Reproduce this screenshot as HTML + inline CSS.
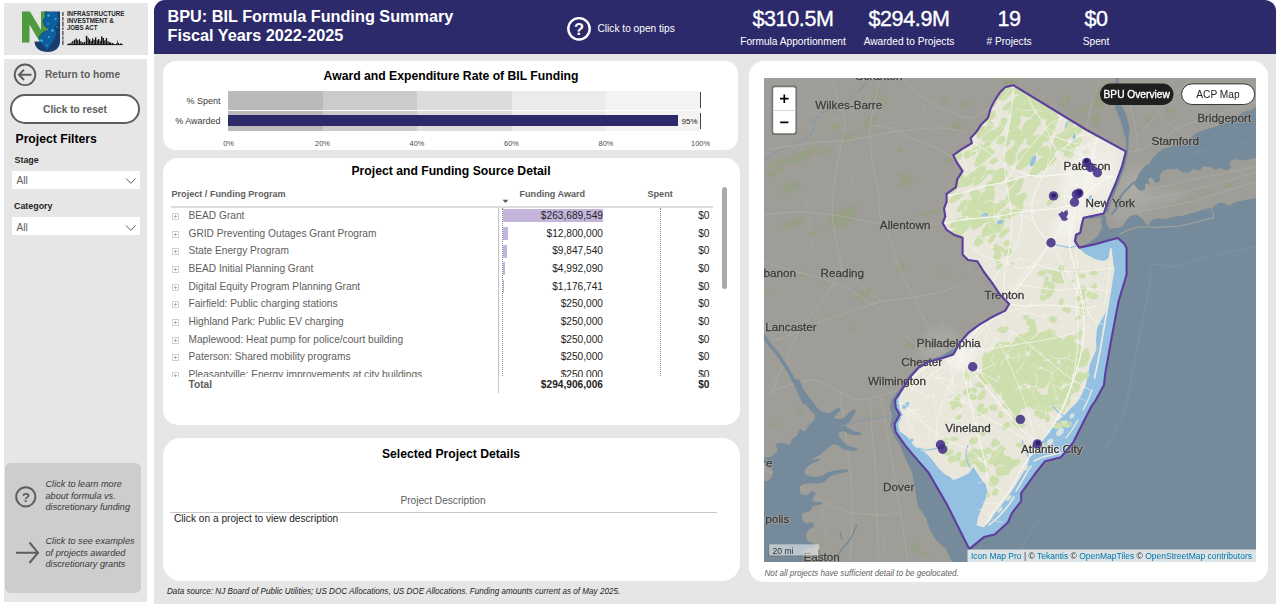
<!DOCTYPE html>
<html>
<head>
<meta charset="utf-8">
<title>BPU: BIL Formula Funding Summary</title>
<style>
*{box-sizing:border-box;margin:0;padding:0}
html,body{width:1280px;height:608px;overflow:hidden;background:#fff;font-family:"Liberation Sans",sans-serif;color:#252423}
.abs{position:absolute}
.t{position:absolute;white-space:nowrap;line-height:1;font-size:10.16px}
.b{font-weight:bold}
.i{font-style:italic}
.c{transform:translateX(-50%)}
.r{transform:translateX(-100%)}
.g{color:#605e5c}
.w{color:#fff}
#logo{left:4px;top:3px;width:144px;height:52px;background:#e6e6e6}
#side{left:4px;top:59px;width:143px;height:543px;background:#e6e6e6}
#main{left:153.7px;top:0;width:1122.3px;height:604px;background:#e6e6e6;border-radius:12px 12px 0 0}
#hdr{left:153.7px;top:0;width:1122.3px;height:54.2px;background:#2d2a6b;border-radius:11px 11px 0 0}
.card{position:absolute;background:#fff}
#c1{left:163px;top:61px;width:575px;height:89px;border-radius:13px}
#c2{left:163px;top:158px;width:577px;height:267px;border-radius:15px}
#c3{left:163px;top:438px;width:577px;height:143px;border-radius:18px}
#c4{left:749px;top:61px;width:519px;height:521px;border-radius:15px}
#help{left:5px;top:463px;width:136px;height:130px;background:#cdcdcd;border-radius:6px}
.dd{position:absolute;left:12px;width:128px;height:18px;background:#fff}
.row{position:absolute;left:0;width:740px;height:18px}
.row .t{top:3px}
.pm{position:absolute;left:172px;top:5px;width:7px;height:7px;border:1px solid #cfcfcf;background:#fff}
.pm:before{content:"";position:absolute;left:1px;top:2px;width:3px;height:1px;background:#adadad}
.pm:after{content:"";position:absolute;left:2px;top:1px;width:1px;height:3px;background:#adadad}
.bar{position:absolute;left:503.3px;top:1.3px;height:13px;background:#c3b5dc}
.ax{font-size:7.4px;color:#4a4a4a;top:140px}
</style>
</head>
<body>
<div class="abs" id="logo"></div>
<div class="abs" id="side"></div>
<div class="abs" id="main"></div>
<div class="abs" id="hdr"></div>
<div class="card" id="c1"></div>
<div class="card" id="c2"></div>
<div class="card" id="c3"></div>
<div class="card" id="c4"></div>
<div class="abs" id="help"></div>
<!-- LOGO -->
<svg class="abs" style="left:4px;top:3px" width="144" height="52" viewBox="4 3 144 52">
  <polygon points="22,11.5 30,11.5 41,30 41,11.5 47.5,11.5 47.5,42.5 40,42.5 29.5,24.5 29.5,42.5 22,42.5" fill="#4f9a3e"/>
  <path d="M44.5,11.5 L60,11.5 L60,41 C60,48 55,52 48,52 C40,52 34.8,48 34.5,41.5 L41,41.5 L38.5,37 L43,32 L48.5,29.5 L44,25.5 L42.5,21 L45,17 Z" fill="#173e6e"/>
  <path d="M45,12 L57,12 L58.5,19 L57,24.5 L54,28 L56.5,32 L55,38 L51,44 L47.5,50 L45,47 L41,43 L39,37.5 L43,32.5 L48.5,29.8 L44.5,25.5 L43,21 L45.5,17 Z" fill="#0f5f9e"/>
  <g fill="#2fb6ee"><circle cx="48.5" cy="15.5" r="1.2"/><circle cx="55.5" cy="19" r="1"/><circle cx="48" cy="24" r=".8"/><circle cx="52.5" cy="30.5" r="1.3"/><circle cx="49" cy="37" r="1"/><circle cx="41.5" cy="40.5" r="1.3"/><circle cx="47" cy="45.5" r=".8"/><circle cx="57" cy="27" r=".7"/></g>
  <rect x="61.6" y="11.5" width="2.6" height="33.5" fill="#e6e6e6"/>
  <g fill="#6b6b6b"><rect x="62" y="12" width="1.7" height="4"/><rect x="62" y="17" width="1.7" height="3.5"/><rect x="62" y="21.5" width="1.7" height="5"/><rect x="62" y="27.5" width="1.7" height="2.5"/><rect x="62" y="31" width="1.7" height="4.5"/><rect x="62" y="36.5" width="1.7" height="3"/><rect x="62" y="40.5" width="1.7" height="4.3"/></g>
  <g font-family="Liberation Sans, sans-serif" font-weight="bold" font-size="6.4" fill="#262626">
    <text x="66.9" y="16.3" textLength="57.5" lengthAdjust="spacingAndGlyphs">INFRASTRUCTURE</text>
    <text x="66.9" y="23" textLength="47" lengthAdjust="spacingAndGlyphs">INVESTMENT &amp;</text>
    <text x="66.9" y="29.8" textLength="30.5" lengthAdjust="spacingAndGlyphs">JOBS ACT</text>
  </g>
  <g fill="#141414"><rect x="68.5" y="43.5" width="1.5" height="1.5"/><rect x="70.5" y="42.5" width="1.2" height="2.5"/><rect x="72.2" y="41" width="1.2" height="4.0"/><rect x="73.8" y="39.8" width="1.3" height="5.2"/><rect x="75.5" y="38.6" width="1.4" height="6.4"/><rect x="77.2" y="40.2" width="1.2" height="4.8"/><rect x="78.8" y="39.2" width="1.2" height="5.8"/><rect x="80.3" y="41.2" width="1.3" height="3.8"/><rect x="82" y="42.3" width="1.5" height="2.7"/><rect x="84" y="41.8" width="1.2" height="3.2"/><rect x="85.8" y="35.8" width="1.5" height="9.2"/><rect x="87.6" y="37.8" width="1.2" height="7.2"/><rect x="89" y="39.3" width="1.3" height="5.7"/><rect x="90.6" y="41" width="1.2" height="4.0"/><rect x="92" y="38.4" width="1.3" height="6.6"/><rect x="93.6" y="39.8" width="1.2" height="5.2"/><rect x="95" y="37.4" width="1.3" height="7.6"/><rect x="96.6" y="40.2" width="1.2" height="4.8"/><rect x="98" y="39" width="1.3" height="6.0"/><rect x="99.6" y="40.8" width="1.2" height="4.2"/><rect x="101" y="36.5" width="1.5" height="8.5"/><rect x="102.8" y="38" width="1.2" height="7.0"/><rect x="104.2" y="40.3" width="1.3" height="4.7"/><rect x="105.8" y="38" width="1.3" height="7.0"/><rect x="107.4" y="41.2" width="1.3" height="3.8"/><rect x="109" y="42.3" width="2" height="2.7"/><rect x="111.5" y="43" width="2" height="2.0"/><rect x="116.5" y="42.8" width="0.8" height="2.2"/><rect x="117.2" y="40.6" width="0.6" height="4.4"/><rect x="118" y="43" width="1" height="2.0"/><rect x="120" y="43.4" width="1.5" height="1.6"/><rect x="67" y="44.2" width="56" height="0.9"/></g>
</svg>

<!-- SIDE PANEL -->
<svg class="abs" style="left:12px;top:62px" width="27" height="27" viewBox="0 0 27 27">
  <circle cx="13" cy="12.8" r="10.3" fill="none" stroke="#605e5c" stroke-width="1.9"/>
  <path d="M19.5,12.8 H7.2 M12,7.6 L6.9,12.8 L12,18" fill="none" stroke="#605e5c" stroke-width="2"/>
</svg>
<div class="t b g" style="left:45px;top:70.2px">Return to home</div>
<div class="abs" style="left:10px;top:94px;width:130px;height:30px;border:2px solid #605e5c;border-radius:15px;background:#fff"></div>
<div class="t b g c" style="left:75px;top:104.5px">Click to reset</div>
<div class="t b" style="left:15.5px;top:133.2px;font-size:12.2px;color:#000">Project Filters</div>
<div class="t b" style="left:14.5px;top:155.8px;font-size:8.89px">Stage</div>
<div class="dd" style="top:171px"></div>
<div class="t g" style="left:16.5px;top:176.2px">All</div>
<svg class="abs" style="left:125px;top:177px" width="12" height="8"><path d="M1,1.5 L5.8,6.3 L10.6,1.5" fill="none" stroke="#605e5c" stroke-width="1"/></svg>
<div class="t b" style="left:14px;top:202px;font-size:8.89px">Category</div>
<div class="dd" style="top:217px"></div>
<div class="t g" style="left:16.5px;top:222.5px">All</div>
<svg class="abs" style="left:125px;top:223.5px" width="12" height="8"><path d="M1,1.5 L5.8,6.3 L10.6,1.5" fill="none" stroke="#605e5c" stroke-width="1"/></svg>

<!-- HELP BOX -->
<svg class="abs" style="left:14px;top:485px" width="24" height="24" viewBox="0 0 24 24">
  <circle cx="11.8" cy="11.8" r="9.6" fill="none" stroke="#605e5c" stroke-width="2"/>
  <text x="11.8" y="16.6" text-anchor="middle" font-family="Liberation Sans, sans-serif" font-weight="bold" font-size="13.5" fill="#605e5c">?</text>
</svg>
<div class="t i" style="left:45.5px;top:479px;font-size:9.17px;line-height:11.5px;color:#3a3938">Click to learn more<br>about formula vs.<br>discretionary funding</div>
<svg class="abs" style="left:14px;top:540px" width="28" height="26" viewBox="0 0 28 26">
  <path d="M2,12.7 H23.5 M15.5,2.5 L24,12.7 L15.5,23" fill="none" stroke="#605e5c" stroke-width="2"/>
</svg>
<div class="t i" style="left:45.5px;top:536px;font-size:9.17px;line-height:11.5px;color:#3a3938">Click to see examples<br>of projects awarded<br>discretionary grants</div>
<!-- HEADER -->
<div class="t b w" style="left:167.5px;top:6.5px;font-size:16.25px;line-height:19px">BPU: BIL Formula Funding Summary<br>Fiscal Years 2022-2025</div>
<svg class="abs" style="left:566px;top:16px" width="26" height="26" viewBox="0 0 26 26">
  <circle cx="13" cy="12.8" r="10.7" fill="none" stroke="#fff" stroke-width="2.4"/>
  <text x="13" y="18.7" text-anchor="middle" font-family="Liberation Sans, sans-serif" font-weight="bold" font-size="16.5" fill="#fff">?</text>
</svg>
<div class="t w" style="left:597.5px;top:23.9px">Click to open tips</div>
<div class="t w c" style="left:793px;top:9.4px;font-size:21.5px;letter-spacing:-0.35px;-webkit-text-stroke:0.35px #fff">$310.5M</div>
<div class="t w c" style="left:793px;top:36.5px">Formula Apportionment</div>
<div class="t w c" style="left:909px;top:9.4px;font-size:21.5px;letter-spacing:-0.35px;-webkit-text-stroke:0.35px #fff">$294.9M</div>
<div class="t w c" style="left:909px;top:36.5px">Awarded to Projects</div>
<div class="t w c" style="left:1009px;top:9.4px;font-size:21.5px;letter-spacing:-0.35px;-webkit-text-stroke:0.35px #fff">19</div>
<div class="t w c" style="left:1009px;top:36.5px"># Projects</div>
<div class="t w c" style="left:1096px;top:9.4px;font-size:21.5px;letter-spacing:-0.35px;-webkit-text-stroke:0.35px #fff">$0</div>
<div class="t w c" style="left:1096px;top:36.5px">Spent</div>

<!-- CARD 1: bullet chart -->
<div class="t b c" style="left:451px;top:70px;font-size:12.2px;color:#000">Award and Expenditure Rate of BIL Funding</div>
<div class="abs" style="left:228px;top:90.5px;width:472.5px;height:19.5px;background:linear-gradient(90deg,#bababa 0 20%,#cbcbcb 20% 40%,#dcdcdc 40% 60%,#ebebeb 60% 80%,#f3f3f3 80% 100%)"></div>
<div class="abs" style="left:228px;top:111px;width:472.5px;height:19.5px;background:linear-gradient(90deg,#bababa 0 20%,#cbcbcb 20% 40%,#dcdcdc 40% 60%,#ebebeb 60% 80%,#f3f3f3 80% 100%)"></div>
<div class="abs" style="left:228px;top:115px;width:449.5px;height:11px;background:#2d2a6b"></div>
<div class="abs" style="left:700px;top:92px;width:1.3px;height:16px;background:#444"></div>
<div class="abs" style="left:700px;top:112.5px;width:1.3px;height:16px;background:#444"></div>
<div class="t r" style="left:220.5px;top:96.5px;font-size:9px;color:#3a3a3a">% Spent</div>
<div class="t r" style="left:220.5px;top:116.5px;font-size:9px;color:#3a3a3a">% Awarded</div>
<div class="t" style="left:681.5px;top:117.5px;font-size:8px">95%</div>
<div class="t c ax" style="left:228.5px">0%</div>
<div class="t c ax" style="left:322.5px">20%</div>
<div class="t c ax" style="left:417px">40%</div>
<div class="t c ax" style="left:511.5px">60%</div>
<div class="t c ax" style="left:606px">80%</div>
<div class="t c ax" style="left:700.5px">100%</div>

<!-- CARD 2: table -->
<div class="t b c" style="left:451px;top:165.3px;font-size:12.2px;color:#000">Project and Funding Source Detail</div>
<div class="t b g" style="left:171.5px;top:190px;font-size:9.1px">Project / Funding Program</div>
<div class="t b g" style="left:519.5px;top:190px;font-size:9.1px">Funding Award</div>
<div class="t b g" style="left:647.5px;top:190px;font-size:9.1px">Spent</div>
<svg class="abs" style="left:502px;top:199px" width="8" height="5"><path d="M0.5,0.8 L6.5,0.8 L3.5,4 Z" fill="#605e5c"/></svg>
<div class="abs" style="left:171px;top:206px;width:542px;height:1.6px;background:#dcdcdc"></div>
<div class="abs" style="left:502px;top:208px;width:0;height:168px;border-left:1px dotted #8a8a8a"></div>
<div class="abs" style="left:660px;top:208px;width:0;height:168px;border-left:1px dotted #8a8a8a"></div>
<div class="abs" style="left:498px;top:208px;width:1px;height:185px;background:#c8c8c8"></div>
<div class="abs" style="left:721.5px;top:187px;width:5.5px;height:102px;background:#ababab;border-radius:3px"></div>
<div class="abs" id="rows" style="left:0;top:208px;width:740px;height:168.5px;overflow:hidden">
<div class="row" style="top:0.0px"><div class="bar" style="width:100.0px"></div><div class="pm"></div><div class="t g" style="left:188.5px">BEAD Grant</div><div class="t r" style="left:603px">$263,689,549</div><div class="t r" style="left:709.5px">$0</div></div>
<div class="row" style="top:17.65px"><div class="bar" style="width:4.9px"></div><div class="pm"></div><div class="t g" style="left:188.5px">GRID Preventing Outages Grant Program</div><div class="t r" style="left:603px">$12,800,000</div><div class="t r" style="left:709.5px">$0</div></div>
<div class="row" style="top:35.3px"><div class="bar" style="width:3.7px"></div><div class="pm"></div><div class="t g" style="left:188.5px">State Energy Program</div><div class="t r" style="left:603px">$9,847,540</div><div class="t r" style="left:709.5px">$0</div></div>
<div class="row" style="top:52.95px"><div class="bar" style="width:1.9px"></div><div class="pm"></div><div class="t g" style="left:188.5px">BEAD Initial Planning Grant</div><div class="t r" style="left:603px">$4,992,090</div><div class="t r" style="left:709.5px">$0</div></div>
<div class="row" style="top:70.6px"><div class="bar" style="width:0.4px"></div><div class="pm"></div><div class="t g" style="left:188.5px">Digital Equity Program Planning Grant</div><div class="t r" style="left:603px">$1,176,741</div><div class="t r" style="left:709.5px">$0</div></div>
<div class="row" style="top:88.25px"><div class="pm"></div><div class="t g" style="left:188.5px">Fairfield: Public charging stations</div><div class="t r" style="left:603px">$250,000</div><div class="t r" style="left:709.5px">$0</div></div>
<div class="row" style="top:105.9px"><div class="pm"></div><div class="t g" style="left:188.5px">Highland Park: Public EV charging</div><div class="t r" style="left:603px">$250,000</div><div class="t r" style="left:709.5px">$0</div></div>
<div class="row" style="top:123.55px"><div class="pm"></div><div class="t g" style="left:188.5px">Maplewood: Heat pump for police/court building</div><div class="t r" style="left:603px">$250,000</div><div class="t r" style="left:709.5px">$0</div></div>
<div class="row" style="top:141.2px"><div class="pm"></div><div class="t g" style="left:188.5px">Paterson: Shared mobility programs</div><div class="t r" style="left:603px">$250,000</div><div class="t r" style="left:709.5px">$0</div></div>
<div class="row" style="top:158.85px"><div class="pm"></div><div class="t g" style="left:188.5px">Pleasantville: Energy improvements at city buildings</div><div class="t r" style="left:603px">$250,000</div><div class="t r" style="left:709.5px">$0</div></div>
</div>
<div class="t b g" style="left:188.5px;top:380px">Total</div>
<div class="t b r" style="left:603px;top:380px">$294,906,006</div>
<div class="t b r" style="left:709.5px;top:380px">$0</div>

<!-- CARD 3 -->
<div class="t b c" style="left:451px;top:448px;font-size:12.2px;color:#000">Selected Project Details</div>
<div class="t g c" style="left:443px;top:496px">Project Description</div>
<div class="abs" style="left:170px;top:512px;width:547px;height:1px;background:#c8c8c8"></div>
<div class="t" style="left:174px;top:514px">Click on a project to view description</div>
<div class="t i" style="left:167px;top:588px;font-size:8.15px">Data source: NJ Board of Public Utilities; US DOC Allocations, US DOE Allocations. Funding amounts current as of May 2025.</div>
<div class="t i g" style="left:764.5px;top:570.3px;font-size:8.15px">Not all projects have sufficient detail to be geolocated.</div>
<svg class="abs" style="left:764px;top:78px" width="492" height="484" viewBox="764 78 492 484">
<defs><clipPath id="njc"><path d="M1013.2,85.2 L1086.7,130.0 L1125.8,151.4 L1122.0,166.4 L1115.6,183.5 L1109.1,198.4 L1103.8,213.4 L1094.2,215.6 L1083.5,217.7 L1081.3,226.3 L1080.3,232.7 L1076.0,234.8 L1074.9,241.2 L1079.2,247.6 L1094.2,244.4 L1109.1,240.2 L1117.7,238.0 L1124.1,243.4 L1126.6,248.0 L1126.6,274.6 L1118.6,301.2 L1112.0,335.8 L1105.3,373.1 L1104.0,385.1 L1094.7,401.9 L1092.0,405.3 L1082.4,424.0 L1073.1,442.6 L1061.1,457.2 L1045.1,461.2 L1034.5,474.5 L1021.2,493.2 L1021.2,501.2 L1011.9,513.2 L1007.9,522.5 L994.6,534.5 L983.9,537.1 L969.3,549.1 L960.0,530.5 L946.6,503.8 L928.0,471.9 L918.4,461.2 L905.1,445.3 L895.8,432.0 L894.5,424.0 L899.8,414.6 L895.8,408.0 L895.0,400.0 L902.4,389.1 L909.1,378.4 L918.4,367.8 L928.0,362.0 L941.3,358.5 L953.3,354.5 L960.0,342.5 L968.0,333.2 L978.6,325.2 L991.9,317.2 L1005.2,310.6 L1009.2,303.9 L999.9,294.6 L991.9,282.6 L983.9,272.0 L977.3,261.3 L968.0,260.0 L962.6,254.6 L962.6,240.0 L962.6,237.7 L954.6,235.1 L946.6,229.8 L942.6,223.1 L945.3,216.4 L944.0,208.5 L946.6,201.8 L946.6,193.8 L956.0,187.2 L957.3,179.2 L962.6,171.2 L957.3,163.2 L953.3,155.2 L962.6,148.6 L971.9,143.2 L970.6,137.9 L975.9,132.6 L981.2,124.6 L987.9,117.9 L990.6,108.6 L994.6,100.6 L999.9,92.6 L1005.2,87.3 Z"/></clipPath></defs>
<rect x="764" y="78" width="492" height="484" fill="#9e9d97"/>
<g fill="#96a085" opacity=".85">
<ellipse cx="797.8" cy="157.6" rx="16.0" ry="4.5" transform="rotate(-25 797.8 157.6)"/>
<ellipse cx="789.9" cy="189.5" rx="12.0" ry="2.5" transform="rotate(-22 789.9 189.5)"/>
<ellipse cx="791.9" cy="223.3" rx="11.0" ry="4.0" transform="rotate(-25 791.9 223.3)"/>
<ellipse cx="843.6" cy="219.3" rx="15.0" ry="6.0" transform="rotate(-25 843.6 219.3)"/>
<ellipse cx="813.8" cy="233.3" rx="6.0" ry="2.5" transform="rotate(-25 813.8 233.3)"/>
<ellipse cx="869.5" cy="121.8" rx="8.0" ry="5.0" transform="rotate(-40 869.5 121.8)"/>
<ellipse cx="847.6" cy="137.7" rx="7.0" ry="3.0" transform="rotate(-25 847.6 137.7)"/>
<ellipse cx="905.3" cy="181.5" rx="9.0" ry="3.5" transform="rotate(-25 905.3 181.5)"/>
<ellipse cx="959.1" cy="127.8" rx="3.0" ry="5.0" transform="rotate(0 959.1 127.8)"/>
<ellipse cx="965.0" cy="103.9" rx="5.0" ry="3.0" transform="rotate(-20 965.0 103.9)"/>
<ellipse cx="929.2" cy="212.6" rx="12.0" ry="2.0" transform="rotate(-10 929.2 212.6)"/>
<ellipse cx="863.5" cy="297.0" rx="6.0" ry="3.0" transform="rotate(-20 863.5 297.0)"/>
<ellipse cx="899.4" cy="269.1" rx="3.0" ry="3.0" transform="rotate(0 899.4 269.1)"/>
<ellipse cx="943.1" cy="273.1" rx="3.0" ry="3.0" transform="rotate(0 943.1 273.1)"/>
<ellipse cx="835.7" cy="125.8" rx="6.0" ry="2.2" transform="rotate(-25 835.7 125.8)"/>
<ellipse cx="823.7" cy="151.6" rx="7.0" ry="2.5" transform="rotate(-25 823.7 151.6)"/>
<ellipse cx="775.9" cy="163.6" rx="8.0" ry="3.0" transform="rotate(-25 775.9 163.6)"/>
<ellipse cx="883.4" cy="101.9" rx="4.0" ry="6.0" transform="rotate(10 883.4 101.9)"/>
<ellipse cx="775.0" cy="172.0" rx="10.0" ry="3.0" transform="rotate(-25 775.0 172.0)"/>
<ellipse cx="800.0" cy="158.0" rx="10.0" ry="3.5" transform="rotate(-20 800.0 158.0)"/>
<ellipse cx="812.0" cy="150.0" rx="7.0" ry="3.0" transform="rotate(-25 812.0 150.0)"/>
<ellipse cx="790.0" cy="185.0" rx="8.0" ry="2.5" transform="rotate(-20 790.0 185.0)"/>
<ellipse cx="842.0" cy="215.0" rx="16.0" ry="5.0" transform="rotate(-28 842.0 215.0)"/>
<ellipse cx="795.0" cy="222.0" rx="10.0" ry="3.0" transform="rotate(-25 795.0 222.0)"/>
<ellipse cx="868.0" cy="125.0" rx="6.0" ry="3.0" transform="rotate(-30 868.0 125.0)"/>
<ellipse cx="876.0" cy="95.0" rx="7.0" ry="3.5" transform="rotate(-60 876.0 95.0)"/>
<ellipse cx="835.0" cy="128.0" rx="6.0" ry="2.5" transform="rotate(-30 835.0 128.0)"/>
<ellipse cx="905.0" cy="175.0" rx="5.0" ry="3.0" transform="rotate(10 905.0 175.0)"/>
<ellipse cx="900.0" cy="150.0" rx="4.0" ry="2.0" transform="rotate(0 900.0 150.0)"/>
<ellipse cx="860.0" cy="295.0" rx="4.0" ry="5.0" transform="rotate(20 860.0 295.0)"/>
<ellipse cx="868.0" cy="292.0" rx="3.0" ry="4.0" transform="rotate(20 868.0 292.0)"/>
<ellipse cx="824.0" cy="282.0" rx="3.0" ry="2.0" transform="rotate(0 824.0 282.0)"/>
<ellipse cx="804.0" cy="274.0" rx="3.0" ry="3.0" transform="rotate(0 804.0 274.0)"/>
<ellipse cx="769.0" cy="290.0" rx="3.0" ry="2.0" transform="rotate(0 769.0 290.0)"/>
<ellipse cx="832.0" cy="318.0" rx="3.0" ry="2.0" transform="rotate(0 832.0 318.0)"/>
<ellipse cx="853.0" cy="329.0" rx="3.0" ry="2.0" transform="rotate(0 853.0 329.0)"/>
<ellipse cx="902.0" cy="265.0" rx="3.0" ry="5.0" transform="rotate(10 902.0 265.0)"/>
<ellipse cx="910.0" cy="345.0" rx="5.0" ry="2.5" transform="rotate(30 910.0 345.0)"/>
<ellipse cx="945.0" cy="100.0" rx="4.0" ry="3.0" transform="rotate(0 945.0 100.0)"/>
<ellipse cx="955.0" cy="125.0" rx="3.0" ry="3.0" transform="rotate(0 955.0 125.0)"/>
<ellipse cx="948.0" cy="160.0" rx="4.0" ry="2.5" transform="rotate(-30 948.0 160.0)"/>
<ellipse cx="1008.0" cy="82.0" rx="5.0" ry="4.0" transform="rotate(0 1008.0 82.0)"/>
<ellipse cx="1065.0" cy="100.0" rx="8.0" ry="4.0" transform="rotate(-40 1065.0 100.0)"/>
<ellipse cx="1082.0" cy="110.0" rx="6.0" ry="3.0" transform="rotate(-40 1082.0 110.0)"/>
<ellipse cx="1100.0" cy="98.0" rx="7.0" ry="12.0" transform="rotate(15 1100.0 98.0)"/>
<ellipse cx="1108.0" cy="88.0" rx="5.0" ry="7.0" transform="rotate(10 1108.0 88.0)"/>
<ellipse cx="1096.0" cy="120.0" rx="4.0" ry="6.0" transform="rotate(20 1096.0 120.0)"/>
<ellipse cx="1170.0" cy="110.0" rx="4.0" ry="3.0" transform="rotate(0 1170.0 110.0)"/>
<ellipse cx="1195.0" cy="95.0" rx="5.0" ry="3.0" transform="rotate(0 1195.0 95.0)"/>
<ellipse cx="1210.0" cy="192.0" rx="4.0" ry="2.0" transform="rotate(0 1210.0 192.0)"/>
<ellipse cx="1228.0" cy="185.0" rx="4.0" ry="2.5" transform="rotate(0 1228.0 185.0)"/>
<ellipse cx="1190.0" cy="200.0" rx="2.5" ry="2.0" transform="rotate(0 1190.0 200.0)"/>
<ellipse cx="1172.0" cy="206.0" rx="2.0" ry="2.0" transform="rotate(0 1172.0 206.0)"/>
<ellipse cx="1150.0" cy="120.0" rx="3.0" ry="4.0" transform="rotate(30 1150.0 120.0)"/>
<ellipse cx="775.0" cy="425.0" rx="4.0" ry="3.0" transform="rotate(0 775.0 425.0)"/>
<ellipse cx="800.0" cy="410.0" rx="3.0" ry="3.0" transform="rotate(0 800.0 410.0)"/>
<ellipse cx="870.0" cy="415.0" rx="3.0" ry="2.5" transform="rotate(0 870.0 415.0)"/>
<ellipse cx="818.0" cy="545.0" rx="5.0" ry="2.5" transform="rotate(0 818.0 545.0)"/>
<ellipse cx="915.0" cy="548.0" rx="4.0" ry="5.0" transform="rotate(0 915.0 548.0)"/>
<ellipse cx="925.0" cy="555.0" rx="4.0" ry="3.0" transform="rotate(0 925.0 555.0)"/>
<ellipse cx="783.0" cy="520.0" rx="3.0" ry="2.0" transform="rotate(0 783.0 520.0)"/>
<ellipse cx="935.0" cy="520.0" rx="2.0" ry="3.0" transform="rotate(0 935.0 520.0)"/>
</g>
<path d="M764.0,160.0 C765.3,159.2 769.0,156.7 772.0,155.0 C775.0,153.3 778.7,151.7 782.0,150.0 C785.3,148.3 788.7,146.7 792.0,145.0 C795.3,143.3 798.8,141.8 802.0,140.0 C805.2,138.2 809.0,136.3 811.0,134.0 C813.0,131.7 813.2,128.7 814.0,126.0 C814.8,123.3 814.3,120.3 816.0,118.0 C817.7,115.7 820.7,114.0 824.0,112.0 C827.3,110.0 832.0,108.0 836.0,106.0 C840.0,104.0 844.7,102.0 848.0,100.0 C851.3,98.0 853.7,96.0 856.0,94.0 C858.3,92.0 860.3,90.0 862.0,88.0 C863.7,86.0 865.0,83.7 866.0,82.0 C867.0,80.3 867.7,78.7 868.0,78.0" fill="none" stroke="#8399aa" stroke-width="1.3"/>
<g fill="none" stroke="#abaaa4" stroke-linecap="round"><path d="M764.0,345.0 C768.3,343.3 780.7,338.8 790.0,335.0 C799.3,331.2 810.0,325.8 820.0,322.0 C830.0,318.2 840.0,315.3 850.0,312.0 C860.0,308.7 870.0,304.3 880.0,302.0 C890.0,299.7 900.0,299.7 910.0,298.0 C920.0,296.3 931.3,294.2 940.0,292.0 C948.7,289.8 958.3,286.2 962.0,285.0" stroke-width="0.9"/><path d="M764.0,262.0 C768.3,263.3 780.7,267.3 790.0,270.0 C799.3,272.7 810.0,274.7 820.0,278.0 C830.0,281.3 840.0,284.7 850.0,290.0 C860.0,295.3 870.8,302.5 880.0,310.0 C889.2,317.5 897.5,328.0 905.0,335.0 C912.5,342.0 919.2,347.8 925.0,352.0 C930.8,356.2 937.5,358.7 940.0,360.0" stroke-width="0.9"/><path d="M880.0,78.0 C879.2,81.7 876.7,91.3 875.0,100.0 C873.3,108.7 870.5,120.0 870.0,130.0 C869.5,140.0 870.7,150.0 872.0,160.0 C873.3,170.0 876.7,180.8 878.0,190.0 C879.3,199.2 878.0,206.7 880.0,215.0 C882.0,223.3 886.7,230.8 890.0,240.0 C893.3,249.2 895.8,260.0 900.0,270.0 C904.2,280.0 910.0,290.0 915.0,300.0 C920.0,310.0 925.0,321.3 930.0,330.0 C935.0,338.7 942.5,348.3 945.0,352.0" stroke-width="0.9"/><path d="M764.0,150.0 C768.3,149.3 780.7,147.3 790.0,146.0 C799.3,144.7 810.0,143.0 820.0,142.0 C830.0,141.0 840.0,141.3 850.0,140.0 C860.0,138.7 870.0,135.7 880.0,134.0 C890.0,132.3 900.0,131.0 910.0,130.0 C920.0,129.0 930.8,127.7 940.0,128.0 C949.2,128.3 960.8,131.3 965.0,132.0" stroke-width="0.9"/><path d="M764.0,215.0 C770.0,214.5 787.3,211.8 800.0,212.0 C812.7,212.2 828.3,214.3 840.0,216.0 C851.7,217.7 860.0,220.3 870.0,222.0 C880.0,223.7 890.8,225.7 900.0,226.0 C909.2,226.3 917.7,224.3 925.0,224.0 C932.3,223.7 940.8,224.0 944.0,224.0" stroke-width="0.9"/><path d="M832.0,78.0 C833.0,81.7 835.8,92.2 838.0,100.0 C840.2,107.8 844.7,116.7 845.0,125.0 C845.3,133.3 841.7,140.8 840.0,150.0 C838.3,159.2 836.3,170.0 835.0,180.0 C833.7,190.0 831.8,200.0 832.0,210.0 C832.2,220.0 834.3,230.3 836.0,240.0 C837.7,249.7 841.0,263.3 842.0,268.0" stroke-width="0.9"/><path d="M842.0,268.0 C840.0,271.7 834.5,283.0 830.0,290.0 C825.5,297.0 820.0,303.3 815.0,310.0 C810.0,316.7 804.2,323.3 800.0,330.0 C795.8,336.7 793.3,343.0 790.0,350.0 C786.7,357.0 783.0,364.5 780.0,372.0 C777.0,379.5 773.3,391.2 772.0,395.0" stroke-width="0.9"/><path d="M842.0,268.0 C845.0,270.8 853.7,279.7 860.0,285.0 C866.3,290.3 876.7,297.5 880.0,300.0" stroke-width="0.9"/><path d="M868.0,125.0 C871.7,125.5 882.2,125.5 890.0,128.0 C897.8,130.5 906.7,136.3 915.0,140.0 C923.3,143.7 933.3,146.7 940.0,150.0 C946.7,153.3 952.5,158.3 955.0,160.0" stroke-width="0.9"/><path d="M764.0,395.0 C768.3,393.3 781.5,387.5 790.0,385.0 C798.5,382.5 806.7,378.8 815.0,380.0 C823.3,381.2 832.5,388.7 840.0,392.0 C847.5,395.3 853.3,399.3 860.0,400.0 C866.7,400.7 873.7,397.7 880.0,396.0 C886.3,394.3 895.0,391.0 898.0,390.0" stroke-width="0.9"/><path d="M880.0,396.0 C880.8,400.0 883.3,411.0 885.0,420.0 C886.7,429.0 888.3,440.0 890.0,450.0 C891.7,460.0 893.3,470.0 895.0,480.0 C896.7,490.0 898.3,500.0 900.0,510.0 C901.7,520.0 903.7,531.3 905.0,540.0 C906.3,548.7 907.5,558.3 908.0,562.0" stroke-width="0.9"/><path d="M870.0,400.0 C870.3,405.0 871.2,420.0 872.0,430.0 C872.8,440.0 874.3,448.3 875.0,460.0 C875.7,471.7 875.5,486.7 876.0,500.0 C876.5,513.3 877.7,529.7 878.0,540.0 C878.3,550.3 878.0,558.3 878.0,562.0" stroke-width="0.9"/><path d="M840.0,392.0 C840.8,398.3 843.3,417.0 845.0,430.0 C846.7,443.0 848.8,456.7 850.0,470.0 C851.2,483.3 852.0,494.7 852.0,510.0 C852.0,525.3 850.3,553.3 850.0,562.0" stroke-width="0.9"/><path d="M764.0,470.0 C768.3,471.7 780.7,475.0 790.0,480.0 C799.3,485.0 810.0,494.7 820.0,500.0 C830.0,505.3 840.0,509.5 850.0,512.0 C860.0,514.5 871.7,515.0 880.0,515.0 C888.3,515.0 896.7,512.5 900.0,512.0" stroke-width="0.9"/><path d="M1126.0,152.0 C1127.5,150.0 1131.3,144.5 1135.0,140.0 C1138.7,135.5 1143.8,130.0 1148.0,125.0 C1152.2,120.0 1155.5,115.0 1160.0,110.0 C1164.5,105.0 1170.0,100.0 1175.0,95.0 C1180.0,90.0 1187.5,82.5 1190.0,80.0" stroke-width="0.9"/><path d="M1126.0,152.0 C1128.3,151.7 1134.3,152.0 1140.0,150.0 C1145.7,148.0 1153.3,143.7 1160.0,140.0 C1166.7,136.3 1173.3,131.3 1180.0,128.0 C1186.7,124.7 1192.5,122.7 1200.0,120.0 C1207.5,117.3 1215.7,115.0 1225.0,112.0 C1234.3,109.0 1250.8,103.7 1256.0,102.0" stroke-width="0.9"/><path d="M1120.0,78.0 C1121.3,81.7 1125.5,92.2 1128.0,100.0 C1130.5,107.8 1133.3,116.7 1135.0,125.0 C1136.7,133.3 1137.5,145.8 1138.0,150.0" stroke-width="0.9"/><path d="M1140.0,78.0 C1141.7,81.7 1145.8,93.0 1150.0,100.0 C1154.2,107.0 1159.2,114.2 1165.0,120.0 C1170.8,125.8 1181.7,132.5 1185.0,135.0" stroke-width="0.9"/><path d="M1125.0,205.0 C1128.3,204.2 1137.5,201.7 1145.0,200.0 C1152.5,198.3 1160.8,197.0 1170.0,195.0 C1179.2,193.0 1190.0,190.5 1200.0,188.0 C1210.0,185.5 1220.7,182.7 1230.0,180.0 C1239.3,177.3 1251.7,173.3 1256.0,172.0" stroke-width="0.9"/><path d="M1135.0,212.0 C1139.2,211.3 1151.7,209.5 1160.0,208.0 C1168.3,206.5 1176.7,205.0 1185.0,203.0 C1193.3,201.0 1201.7,198.5 1210.0,196.0 C1218.3,193.5 1227.3,190.3 1235.0,188.0 C1242.7,185.7 1252.5,183.0 1256.0,182.0" stroke-width="0.9"/><path d="M1140.0,190.0 C1144.2,189.3 1156.7,187.7 1165.0,186.0 C1173.3,184.3 1181.7,181.8 1190.0,180.0 C1198.3,178.2 1206.7,176.7 1215.0,175.0 C1223.3,173.3 1233.2,171.5 1240.0,170.0 C1246.8,168.5 1253.3,166.7 1256.0,166.0" stroke-width="0.9"/><path d="M1086.0,130.0 C1086.7,126.7 1088.3,116.3 1090.0,110.0 C1091.7,103.7 1094.3,97.3 1096.0,92.0 C1097.7,86.7 1099.3,80.3 1100.0,78.0" stroke-width="0.9"/><path d="M1040.0,100.0 C1041.7,98.3 1046.3,93.7 1050.0,90.0 C1053.7,86.3 1060.0,80.0 1062.0,78.0" stroke-width="0.9"/><path d="M900.0,78.0 C903.3,80.8 912.5,89.7 920.0,95.0 C927.5,100.3 936.7,106.2 945.0,110.0 C953.3,113.8 962.5,118.3 970.0,118.0 C977.5,117.7 986.7,109.7 990.0,108.0" stroke-width="0.9"/><path d="M853.6,393.1 C851.8,396.6 845.7,407.9 842.9,414.2 C840.1,420.5 837.7,427.9 836.7,430.6" stroke-width="0.7" opacity=".7"/><path d="M1161.7,309.8 C1161.0,312.3 1157.6,319.6 1157.5,325.0 C1157.4,330.4 1160.6,339.4 1161.2,342.3" stroke-width="0.7" opacity=".7"/><path d="M1064.9,101.8 C1062.4,102.8 1054.2,104.6 1049.9,107.9 C1045.6,111.1 1040.9,119.1 1039.1,121.3" stroke-width="0.7" opacity=".7"/><path d="M1276.1,426.7 C1272.0,427.9 1258.2,431.2 1251.1,434.2 C1244.0,437.1 1236.4,442.7 1233.5,444.4" stroke-width="0.7" opacity=".7"/><path d="M1027.2,131.3 C1023.7,132.1 1012.2,135.7 1006.0,136.6 C999.9,137.5 993.0,136.8 990.4,136.9" stroke-width="0.7" opacity=".7"/><path d="M822.2,505.4 C822.5,509.0 823.1,519.8 824.2,527.0 C825.3,534.2 827.9,545.2 828.7,548.8" stroke-width="0.7" opacity=".7"/><path d="M870.8,89.3 C868.7,90.1 863.1,91.4 858.2,93.6 C853.3,95.9 844.0,101.1 841.2,102.6" stroke-width="0.7" opacity=".7"/><path d="M1259.1,492.8 C1256.1,496.1 1247.4,506.5 1241.3,512.5 C1235.1,518.5 1225.4,525.9 1222.2,528.6" stroke-width="0.7" opacity=".7"/><path d="M837.6,300.5 C836.0,302.3 832.1,308.9 827.6,311.6 C823.2,314.3 813.7,315.8 810.9,316.6" stroke-width="0.7" opacity=".7"/><path d="M962.6,236.0 C963.8,239.0 968.5,247.6 969.5,253.9 C970.4,260.1 968.6,270.2 968.4,273.5" stroke-width="0.7" opacity=".7"/><path d="M796.1,100.0 C792.9,103.9 783.5,115.4 777.2,123.1 C770.9,130.8 761.4,142.4 758.3,146.3" stroke-width="0.7" opacity=".7"/><path d="M1017.2,425.4 C1020.2,428.0 1029.4,436.2 1035.3,441.1 C1041.1,446.0 1049.6,452.6 1052.4,454.9" stroke-width="0.7" opacity=".7"/><path d="M839.7,134.8 C841.7,139.2 847.3,152.6 851.7,161.1 C856.1,169.6 863.7,181.7 866.1,185.8" stroke-width="0.7" opacity=".7"/><path d="M888.8,122.5 C893.5,123.3 908.4,125.2 917.1,127.0 C925.8,128.8 937.0,132.4 940.9,133.4" stroke-width="0.7" opacity=".7"/><path d="M1128.0,396.0 C1123.2,398.2 1108.7,406.0 1099.5,409.0 C1090.2,412.1 1076.9,413.4 1072.4,414.3" stroke-width="0.7" opacity=".7"/><path d="M1256.5,356.3 C1253.1,357.2 1242.5,359.3 1236.0,361.8 C1229.5,364.3 1220.7,369.7 1217.6,371.3" stroke-width="0.7" opacity=".7"/><path d="M1169.2,150.8 C1173.9,151.8 1188.6,154.5 1197.3,156.4 C1205.9,158.3 1217.0,161.3 1220.9,162.3" stroke-width="0.7" opacity=".7"/><path d="M1163.9,90.8 C1165.8,92.4 1171.2,96.5 1175.2,100.6 C1179.1,104.8 1185.6,113.2 1187.7,115.7" stroke-width="0.7" opacity=".7"/><path d="M826.4,232.4 C822.0,233.9 809.5,238.4 800.1,241.5 C790.7,244.5 775.0,249.3 769.9,250.9" stroke-width="0.7" opacity=".7"/><path d="M890.1,517.1 C889.1,520.9 885.0,531.4 884.3,539.8 C883.6,548.1 885.8,562.6 886.1,567.1" stroke-width="0.7" opacity=".7"/><path d="M1197.7,454.6 C1194.0,456.1 1182.9,460.8 1175.8,463.5 C1168.7,466.3 1158.6,469.9 1155.2,471.2" stroke-width="0.7" opacity=".7"/><path d="M1183.7,210.2 C1183.8,212.4 1184.6,217.5 1184.0,223.1 C1183.4,228.8 1180.7,240.5 1180.0,243.9" stroke-width="0.7" opacity=".7"/><path d="M1078.5,538.1 C1082.5,538.8 1094.8,542.0 1102.3,542.5 C1109.9,543.1 1120.2,541.6 1123.8,541.4" stroke-width="0.7" opacity=".7"/><path d="M1042.9,174.5 C1044.9,178.7 1051.9,190.2 1054.7,199.6 C1057.6,208.9 1059.2,225.3 1060.0,230.5" stroke-width="0.7" opacity=".7"/><path d="M790.7,121.9 C793.5,122.6 801.1,125.9 807.8,126.4 C814.4,126.9 826.8,125.3 830.6,125.1" stroke-width="0.7" opacity=".7"/><path d="M1088.6,121.5 C1088.2,124.1 1087.1,131.1 1086.4,137.0 C1085.6,142.9 1084.6,153.6 1084.3,156.9" stroke-width="0.7" opacity=".7"/><path d="M836.4,144.1 C838.0,147.3 843.0,155.7 846.1,163.4 C849.2,171.1 853.5,185.6 855.0,190.0" stroke-width="0.7" opacity=".7"/><path d="M1133.7,483.9 C1129.7,486.7 1116.4,495.0 1109.8,500.7 C1103.2,506.4 1096.5,515.1 1093.8,518.0" stroke-width="0.7" opacity=".7"/><path d="M774.1,434.8 C777.3,437.2 786.2,445.0 793.3,449.3 C800.3,453.6 812.5,458.8 816.4,460.7" stroke-width="0.7" opacity=".7"/><path d="M912.3,81.8 C913.8,84.3 919.5,91.1 921.5,96.6 C923.5,102.1 923.8,111.8 924.3,114.8" stroke-width="0.7" opacity=".7"/><path d="M1025.1,341.6 C1023.0,342.0 1016.9,343.2 1012.3,343.9 C1007.8,344.7 1000.3,345.7 997.9,346.1" stroke-width="0.7" opacity=".7"/><path d="M1111.6,525.7 C1113.9,529.2 1121.0,539.8 1125.6,546.6 C1130.2,553.3 1137.0,563.1 1139.2,566.4" stroke-width="0.7" opacity=".7"/><path d="M813.7,471.0 C810.4,471.9 800.0,475.8 793.9,476.3 C787.8,476.7 779.8,474.1 777.0,473.6" stroke-width="0.7" opacity=".7"/><path d="M791.0,108.7 C795.7,109.7 810.4,112.4 819.0,114.4 C827.7,116.4 838.9,119.8 842.9,120.9" stroke-width="0.7" opacity=".7"/><path d="M1078.5,69.6 C1077.1,72.5 1072.8,80.7 1069.9,86.7 C1066.9,92.7 1062.4,102.4 1061.0,105.5" stroke-width="0.7" opacity=".7"/><path d="M942.0,184.1 C944.9,184.9 953.0,187.8 959.5,188.8 C966.0,189.8 977.5,189.9 981.1,190.2" stroke-width="0.7" opacity=".7"/><path d="M1163.9,412.2 C1164.1,414.9 1164.4,422.8 1165.2,428.2 C1165.9,433.6 1167.8,441.7 1168.4,444.4" stroke-width="0.7" opacity=".7"/><path d="M1055.0,538.7 C1058.3,539.9 1068.2,544.1 1074.8,545.9 C1081.4,547.7 1091.4,549.0 1094.8,549.6" stroke-width="0.7" opacity=".7"/><path d="M1212.1,431.6 C1210.6,436.1 1206.8,450.3 1203.5,458.2 C1200.1,466.0 1194.1,475.5 1192.2,478.9" stroke-width="0.7" opacity=".7"/><path d="M1087.5,388.7 C1090.7,392.2 1100.2,402.9 1107.0,409.5 C1113.8,416.1 1124.8,425.3 1128.4,428.4" stroke-width="0.7" opacity=".7"/><path d="M1181.9,544.0 C1179.7,543.8 1172.4,542.8 1168.3,542.9 C1164.3,543.1 1159.5,544.5 1157.7,544.8" stroke-width="0.7" opacity=".7"/><path d="M958.7,135.1 C958.1,137.9 955.6,147.5 954.9,151.9 C954.2,156.3 954.4,160.0 954.2,161.6" stroke-width="0.7" opacity=".7"/><path d="M1101.7,292.0 C1106.6,293.3 1121.7,296.2 1130.9,299.4 C1140.0,302.7 1152.5,309.5 1156.8,311.5" stroke-width="0.7" opacity=".7"/><path d="M938.0,374.5 C937.1,376.6 935.6,382.4 932.6,387.1 C929.6,391.8 922.1,400.0 919.9,402.6" stroke-width="0.7" opacity=".7"/><path d="M867.6,475.9 C870.8,477.9 879.5,484.2 886.7,487.9 C893.9,491.7 906.6,496.7 910.6,498.4" stroke-width="0.7" opacity=".7"/><path d="M920.5,257.7 C917.1,258.4 906.7,261.1 900.0,262.4 C893.3,263.6 883.7,264.7 880.4,265.2" stroke-width="0.7" opacity=".7"/><path d="M896.1,146.6 C896.7,149.8 897.6,160.8 899.6,166.1 C901.6,171.3 906.6,176.2 908.1,178.2" stroke-width="0.7" opacity=".7"/><path d="M805.1,465.2 C800.4,466.1 785.1,468.6 777.1,470.3 C769.0,471.9 760.1,474.4 756.7,475.3" stroke-width="0.7" opacity=".7"/><path d="M792.9,359.0 C790.7,361.3 782.6,368.2 779.4,372.6 C776.2,377.0 774.7,383.3 773.7,385.4" stroke-width="0.7" opacity=".7"/><path d="M806.5,199.7 C807.0,203.9 808.1,215.3 809.5,224.6 C810.8,233.9 813.7,250.2 814.5,255.3" stroke-width="0.7" opacity=".7"/><path d="M1154.7,463.2 C1154.1,465.2 1151.4,471.0 1151.0,475.2 C1150.6,479.5 1152.1,486.6 1152.3,488.8" stroke-width="0.7" opacity=".7"/><path d="M1057.6,171.1 C1054.5,174.3 1046.3,184.8 1038.9,190.0 C1031.6,195.3 1017.7,200.6 1013.4,202.8" stroke-width="0.7" opacity=".7"/><path d="M745.4,352.7 C750.2,354.2 765.5,359.4 774.6,361.8 C783.7,364.1 795.7,365.9 800.0,366.8" stroke-width="0.7" opacity=".7"/><path d="M875.8,94.3 C872.8,96.4 864.0,102.4 857.6,106.6 C851.2,110.8 840.8,117.3 837.5,119.4" stroke-width="0.7" opacity=".7"/><path d="M1145.5,227.8 C1147.3,230.3 1152.0,238.0 1156.0,242.6 C1160.1,247.2 1167.5,253.2 1169.8,255.3" stroke-width="0.7" opacity=".7"/><path d="M1181.2,107.9 C1184.9,108.2 1196.5,108.4 1203.4,109.9 C1210.3,111.4 1219.5,115.7 1222.7,116.8" stroke-width="0.7" opacity=".7"/><path d="M876.0,104.0 C879.7,104.6 891.3,106.9 898.2,107.7 C905.1,108.5 914.3,108.7 917.5,108.9" stroke-width="0.7" opacity=".7"/><path d="M863.0,123.7 C859.4,124.7 848.2,128.4 841.1,129.9 C834.0,131.5 824.1,132.5 820.6,133.1" stroke-width="0.7" opacity=".7"/><path d="M1096.0,325.3 C1100.0,325.8 1111.1,326.0 1119.8,328.2 C1128.5,330.4 1143.4,336.7 1148.2,338.4" stroke-width="0.7" opacity=".7"/><path d="M943.3,321.8 C942.5,324.1 941.0,331.1 939.0,335.7 C937.0,340.3 932.7,347.3 931.4,349.7" stroke-width="0.7" opacity=".7"/></g>
<defs><radialGradient id="ub"><stop offset="0" stop-color="#b2b1ac" stop-opacity=".75"/><stop offset=".6" stop-color="#aeada8" stop-opacity=".45"/><stop offset="1" stop-color="#a9a8a3" stop-opacity="0"/></radialGradient></defs>
<g fill="url(#ub)"><ellipse cx="1132" cy="192" rx="24" ry="40" transform="rotate(20 1132 192)"/><ellipse cx="938" cy="345" rx="30" ry="22" transform="rotate(-35 938 345)"/><ellipse cx="1160" cy="198" rx="34" ry="13" transform="rotate(-12 1160 198)" opacity=".6"/></g>
<path d="M1256.0,197.9 L1245.0,199.9 L1235.2,202.2 L1228.6,206.0 L1225.0,203.5 L1218.8,202.5 L1212.8,207.8 L1205.6,209.0 L1192.4,213.0 L1182.6,215.7 L1176.0,216.3 L1172.4,217.0 L1165.8,219.0 L1159.2,218.4 L1154.0,219.0 L1150.0,222.0 L1147.4,226.3 L1144.5,222.0 L1142.8,219.0 L1139.0,216.0 L1135.5,214.5 L1129.6,216.4 L1126.3,220.4 L1125.0,221.7 L1123.0,226.3 L1118.0,228.0 L1113.2,228.3 L1109.9,229.0 L1106.6,223.7 L1106.0,217.0 L1104.0,214.5 L1102.0,217.0 L1101.0,222.0 L1102.0,228.0 L1098.0,236.0 L1090.0,242.0 L1082.0,246.5 L1078.0,247.0 L1070.0,245.0 L1050.0,300.0 L1000.0,320.0 L960.0,345.0 L941.0,356.0 L928.0,360.0 L915.3,368.8 L906.0,379.2 L899.2,389.5 L891.1,400.0 L890.0,409.0 L892.3,416.0 L890.0,425.3 L894.6,436.8 L899.0,443.0 L906.0,460.0 L912.0,472.0 L915.0,490.0 L918.0,506.0 L926.0,518.0 L930.0,530.0 L936.0,540.0 L946.0,549.0 L952.0,562.0 L1256.0,562.0 Z" fill="#758a9b"/>
<path d="M1256.0,107.0 L1249.5,110.9 L1244.0,111.5 L1239.7,114.9 L1232.0,118.0 L1224.8,122.8 L1215.0,126.7 L1205.1,129.7 L1197.2,132.6 L1191.3,137.6 L1183.0,141.0 L1175.5,145.5 L1163.6,148.4 L1158.5,152.0 L1155.7,155.3 L1152.0,159.0 L1149.8,163.2 L1144.5,166.3 L1139.5,172.9 L1136.5,179.0 L1134.0,184.0 L1137.0,188.0 L1140.7,191.0 L1144.8,189.4 L1145.6,183.6 L1149.7,184.4 L1148.1,179.5 L1151.4,177.0 L1155.5,182.8 L1160.4,181.1 L1159.6,175.4 L1162.1,171.3 L1168.6,168.8 L1173.6,169.6 L1176.9,168.0 L1181.8,172.1 L1188.4,172.9 L1193.3,168.8 L1199.9,170.4 L1203.2,166.3 L1209.8,167.1 L1214.7,169.6 L1221.3,168.0 L1226.2,170.4 L1231.2,168.0 L1229.5,161.4 L1234.4,158.9 L1241.0,160.6 L1247.6,159.7 L1256.0,158.1 Z" fill="#758a9b"/>
<path d="M1117.0,78.0 C1117.1,80.3 1117.2,87.7 1117.5,92.0 C1117.8,96.3 1117.9,99.3 1119.0,104.0 C1120.1,108.7 1122.7,114.7 1124.0,120.0 C1125.3,125.3 1126.5,131.0 1127.0,136.0 C1127.5,141.0 1127.7,144.7 1127.0,150.0 C1126.3,155.3 1124.7,162.3 1123.0,168.0 C1121.3,173.7 1119.0,178.8 1117.0,184.0 C1115.0,189.2 1112.8,194.3 1111.0,199.0 C1109.2,203.7 1107.2,209.8 1106.5,212.0" fill="none" stroke="#758a9b" stroke-width="2.6" stroke-linecap="round"/>
<path d="M1115.5,105.0 C1116.1,103.9 1118.1,102.7 1119.5,103.5 C1120.9,104.3 1122.7,107.2 1124.0,110.0 C1125.3,112.8 1126.6,116.5 1127.5,120.0 C1128.4,123.5 1129.4,128.2 1129.5,131.0 C1129.6,133.8 1128.8,136.2 1128.0,137.0 C1127.2,137.8 1125.3,137.5 1124.5,136.0 C1123.7,134.5 1123.8,131.0 1123.0,128.0 C1122.2,125.0 1120.7,121.0 1119.5,118.0 C1118.3,115.0 1116.7,112.2 1116.0,110.0 C1115.3,107.8 1114.9,106.1 1115.5,105.0 Z" fill="#758a9b"/>
<path d="M1134.0,182.0 C1133.0,183.0 1130.2,185.7 1128.0,188.0 C1125.8,190.3 1122.7,193.0 1121.0,196.0 C1119.3,199.0 1119.5,203.0 1118.0,206.0 C1116.5,209.0 1113.0,212.7 1112.0,214.0" fill="none" stroke="#758a9b" stroke-width="2" stroke-linecap="round"/>
<path d="M1104.0,216.0 C1102.3,216.2 1097.3,217.0 1094.0,217.5 C1090.7,218.0 1086.0,217.2 1084.0,219.0 C1082.0,220.8 1083.2,225.2 1082.0,228.0 C1080.8,230.8 1078.0,233.5 1077.0,236.0 C1076.0,238.5 1076.2,241.8 1076.0,243.0" fill="none" stroke="#758a9b" stroke-width="1.6"/>
<path d="M1213.8,217.6 C1210.7,218.4 1200.6,221.1 1195.0,222.5 C1189.4,223.9 1184.3,225.3 1180.0,226.0 C1175.7,226.7 1172.5,226.4 1169.0,226.6 C1165.5,226.8 1163.0,227.2 1159.2,227.3 C1155.4,227.4 1149.7,227.0 1146.0,227.0 C1142.3,227.0 1139.9,226.8 1136.8,227.3 C1133.7,227.9 1130.4,229.2 1127.6,230.3 C1124.8,231.5 1121.0,233.5 1119.7,234.2" fill="none" stroke="#a2a19b" stroke-width="1.2" stroke-linecap="round"/>
<path d="M1211.5,208.5 C1211.8,209.2 1212.6,211.5 1213.0,213.0 C1213.4,214.5 1213.7,216.8 1213.8,217.6" fill="none" stroke="#a2a19b" stroke-width="1" stroke-linecap="round"/>
<path d="M795.5,380.0 C796.1,379.0 797.9,378.3 799.4,380.0 C800.8,381.7 802.1,386.7 804.4,390.5 C806.8,394.2 810.9,399.2 813.4,402.5 C815.9,405.7 816.9,408.2 819.4,410.0 C821.9,411.7 825.4,413.2 828.4,413.0 C831.4,412.7 835.4,409.0 837.4,408.5 C839.4,408.0 840.9,408.5 840.4,410.0 C839.9,411.5 834.1,416.0 834.4,417.4 C834.8,418.8 839.5,419.6 842.5,418.3 C845.5,417.1 850.2,411.1 852.4,410.0 C854.5,408.8 855.9,409.5 855.4,411.5 C854.9,413.5 851.1,419.7 849.4,421.9 C847.6,424.2 844.1,423.4 844.9,424.9 C845.6,426.4 851.3,429.7 853.9,430.9 C856.5,432.2 859.5,431.8 860.5,432.4 C861.5,433.1 861.5,434.5 859.9,434.8 C858.3,435.2 853.8,435.2 850.9,434.5 C848.0,433.9 844.5,430.8 842.5,430.9 C840.5,431.1 838.2,433.2 838.9,435.4 C839.5,437.7 843.4,442.3 846.4,444.4 C849.4,446.6 855.2,447.3 856.9,448.3 C858.5,449.4 858.3,450.5 856.3,450.7 C854.3,450.9 848.3,450.6 844.9,449.5 C841.5,448.5 838.6,444.8 835.9,444.4 C833.2,444.1 831.2,445.7 828.4,447.4 C825.7,449.2 822.2,452.9 819.4,454.9 C816.7,456.9 811.9,458.8 811.9,459.4 C811.9,460.0 818.5,458.1 819.4,458.5 C820.3,458.8 819.1,460.3 817.3,461.5 C815.6,462.6 811.1,463.7 808.9,465.4 C806.8,467.0 804.4,469.6 804.4,471.4 C804.4,473.1 806.4,475.0 808.9,475.9 C811.4,476.7 816.2,477.1 819.4,476.5 C822.7,475.9 825.2,473.4 828.4,472.3 C831.7,471.2 835.7,470.3 838.9,469.9 C842.0,469.5 846.0,469.5 847.3,469.9 C848.6,470.3 848.1,471.7 846.7,472.3 C845.3,472.9 841.6,472.8 838.9,473.5 C836.2,474.2 833.0,475.1 830.5,476.5 C828.0,477.9 826.0,480.7 823.9,481.9 C821.8,483.0 820.4,483.1 817.9,483.4 C815.4,483.6 811.7,483.1 808.9,483.4 C806.2,483.6 802.9,483.4 801.4,484.9 C799.9,486.4 799.2,490.6 799.9,492.3 C800.7,494.1 803.9,495.5 805.9,495.3 C807.9,495.2 810.3,491.7 811.9,491.4 C813.5,491.2 815.5,492.4 815.5,493.8 C815.5,495.2 811.6,498.4 811.9,499.8 C812.2,501.2 815.7,502.0 817.3,502.2 C818.9,502.5 820.9,500.9 821.5,501.3 C822.1,501.7 822.3,503.8 820.9,504.6 C819.6,505.5 815.4,505.2 813.4,506.4 C811.4,507.6 810.7,510.7 808.9,511.8 C807.2,513.0 804.0,512.1 802.9,513.3 C801.8,514.6 801.8,517.7 802.3,519.3 C802.8,521.0 804.3,522.7 805.9,523.2 C807.5,523.7 810.7,521.7 811.9,522.3 C813.2,522.9 813.9,525.5 813.4,526.8 C812.9,528.0 810.2,528.3 808.9,529.8 C807.7,531.3 805.9,533.8 805.9,535.8 C805.9,537.8 807.4,540.4 808.9,541.8 C810.4,543.2 814.2,543.2 814.9,544.2 C815.7,545.2 814.9,546.9 813.4,547.8 C811.9,548.6 807.7,548.0 805.9,549.3 C804.2,550.5 802.9,552.9 802.9,555.3 C802.9,557.6 812.7,562.0 805.9,563.3 C799.2,564.7 769.5,571.9 762.2,563.3 C754.9,554.8 761.4,520.9 762.2,511.8 C763.0,502.7 767.0,510.1 767.0,508.8 C767.0,507.6 763.0,508.6 762.2,504.3 C761.4,500.1 761.2,487.3 762.2,483.4 C763.3,479.4 766.7,482.1 768.5,480.4 C770.3,478.6 772.7,475.1 773.0,472.9 C773.2,470.6 771.8,468.1 770.0,466.9 C768.2,465.6 763.5,466.8 762.2,465.4 C760.9,464.0 760.7,460.0 762.2,458.5 C763.8,457.0 768.9,457.7 771.5,456.4 C774.0,455.0 776.7,452.4 777.5,450.4 C778.2,448.4 775.0,445.7 776.0,444.4 C777.0,443.2 781.2,442.9 783.5,442.9 C785.7,442.9 788.0,445.2 789.5,444.4 C791.0,443.7 791.2,439.9 792.5,438.4 C793.7,436.9 795.7,436.9 797.0,435.4 C798.2,433.9 798.7,430.1 799.9,429.4 C801.2,428.8 802.9,432.3 804.4,431.5 C805.9,430.8 807.4,426.8 808.9,424.9 C810.4,423.1 812.4,422.2 813.4,420.4 C814.4,418.7 815.7,416.4 814.9,414.5 C814.2,412.5 811.2,411.5 808.9,408.5 C806.7,405.5 803.7,400.2 801.4,396.5 C799.2,392.7 796.5,388.7 795.5,386.0 C794.5,383.2 794.8,381.0 795.5,380.0 Z" fill="#758a9b"/>
<path d="M762.0,334.0 C763.3,335.8 767.2,341.3 770.0,345.0 C772.8,348.7 776.0,351.8 779.0,356.0 C782.0,360.2 785.3,365.5 788.0,370.0 C790.7,374.5 792.8,378.7 795.0,383.0 C797.2,387.3 799.3,392.5 801.0,396.0 C802.7,399.5 804.3,402.7 805.0,404.0" fill="none" stroke="#758a9b" stroke-width="3.5"/>
<path d="M838.0,428.0 C840.0,427.2 845.7,424.3 850.0,423.0 C854.3,421.7 859.3,420.8 864.0,420.0 C868.7,419.2 873.7,418.7 878.0,418.0 C882.3,417.3 888.0,416.3 890.0,416.0" fill="none" stroke="#8399aa" stroke-width="1"/>
<path d="M857.0,524.0 C856.3,525.7 854.5,531.0 853.0,534.0 C851.5,537.0 849.8,539.5 848.0,542.0 C846.2,544.5 843.7,546.7 842.0,549.0 C840.3,551.3 838.7,554.8 838.0,556.0" fill="none" stroke="#758a9b" stroke-width="1.5"/>
<path d="M840.0,532.0 L842.0,540.0" fill="none" stroke="#758a9b" stroke-width="1.3"/>
<path d="M1256.0,246.7 C1247.8,248.5 1220.1,254.0 1206.5,257.3 C1192.9,260.6 1183.5,265.3 1174.5,266.6 C1165.5,267.9 1156.7,261.8 1152.5,265.3 C1148.3,268.9 1151.7,274.4 1149.2,287.9 C1146.7,301.4 1141.1,327.5 1137.3,346.5 C1133.5,365.5 1130.1,388.0 1126.6,401.9 C1123.0,415.8 1120.8,420.6 1116.0,430.0 C1111.2,439.4 1104.5,449.3 1098.0,458.0 C1091.5,466.7 1085.0,473.7 1077.0,482.0 C1069.0,490.3 1057.1,500.7 1050.0,508.0 C1042.9,515.3 1039.3,519.2 1034.5,526.0 C1029.7,532.8 1023.2,545.2 1021.0,549.0" fill="none" stroke="#8a9aa6" stroke-width="0.7" opacity=".8"/>
<path d="M1256.0,140.0 C1250.8,141.2 1235.2,144.8 1225.0,147.0 C1214.8,149.2 1204.2,150.5 1195.0,153.0 C1185.8,155.5 1174.2,160.5 1170.0,162.0" fill="none" stroke="#8a9aa6" stroke-width="0.6" opacity=".6"/>
<g font-family="Liberation Sans, sans-serif" font-size="11.7" fill="none" stroke="#abaaa5" stroke-opacity=".7" stroke-width="2.2" stroke-linejoin="round"><text x="848.8" y="109.4" text-anchor="middle">Wilkes-Barre</text><text x="879" y="79.6" text-anchor="middle">Scranton</text><text x="905.2" y="229" text-anchor="middle">Allentown</text><text x="842.3" y="277.3" text-anchor="middle">Reading</text><text x="796" y="276.5" text-anchor="end">banon</text><text x="765.3" y="331.3" text-anchor="start">Lancaster</text><text x="897" y="384.7" text-anchor="middle">Wilmington</text><text x="898.7" y="491" text-anchor="middle">Dover</text><text x="821.6" y="560.5" text-anchor="middle">Easton</text><text x="772.5" y="466.6" text-anchor="end">re</text><text x="789.3" y="523" text-anchor="end">polis</text><text x="1175.2" y="145.4" text-anchor="middle">Stamford</text><text x="1224.2" y="121.7" text-anchor="middle">Bridgeport</text><text x="1110.2" y="207.4" text-anchor="middle">New York</text><text x="1087" y="170.2" text-anchor="middle">Paterson</text><text x="1004.4" y="298.6" text-anchor="middle">Trenton</text><text x="948.7" y="347.4" text-anchor="middle">Philadelphia</text><text x="921.8" y="366" text-anchor="middle">Chester</text><text x="968" y="432" text-anchor="middle">Vineland</text><text x="1051.8" y="453.2" text-anchor="middle">Atlantic City</text></g><g font-family="Liberation Sans, sans-serif" font-size="11.7" fill="#3d3d3b" stroke="#3d3d3b" stroke-width=".3"><text x="848.8" y="109.4" text-anchor="middle">Wilkes-Barre</text><text x="879" y="79.6" text-anchor="middle">Scranton</text><text x="905.2" y="229" text-anchor="middle">Allentown</text><text x="842.3" y="277.3" text-anchor="middle">Reading</text><text x="796" y="276.5" text-anchor="end">banon</text><text x="765.3" y="331.3" text-anchor="start">Lancaster</text><text x="897" y="384.7" text-anchor="middle">Wilmington</text><text x="898.7" y="491" text-anchor="middle">Dover</text><text x="821.6" y="560.5" text-anchor="middle">Easton</text><text x="772.5" y="466.6" text-anchor="end">re</text><text x="789.3" y="523" text-anchor="end">polis</text><text x="1175.2" y="145.4" text-anchor="middle">Stamford</text><text x="1224.2" y="121.7" text-anchor="middle">Bridgeport</text><text x="1110.2" y="207.4" text-anchor="middle">New York</text><text x="1087" y="170.2" text-anchor="middle">Paterson</text><text x="1004.4" y="298.6" text-anchor="middle">Trenton</text><text x="948.7" y="347.4" text-anchor="middle">Philadelphia</text><text x="921.8" y="366" text-anchor="middle">Chester</text><text x="968" y="432" text-anchor="middle">Vineland</text><text x="1051.8" y="453.2" text-anchor="middle">Atlantic City</text></g>
<g clip-path="url(#njc)">
<rect x="880" y="78" width="260" height="484" fill="#94c1e2"/>
<path d="M1013.2,85.2 L1086.7,130.0 L1125.8,151.4 L1122.0,166.4 L1115.6,183.5 L1109.1,198.4 L1103.8,213.4 L1094.2,215.6 L1083.5,217.7 L1081.3,226.3 L1080.3,232.7 L1076.0,234.8 L1074.9,241.2 L1076.0,245.5 L1085.6,254.0 L1096.0,259.5 L1104.0,261.0 L1108.5,258.0 L1110.0,249.0 L1111.5,248.0 L1113.0,262.0 L1114.6,269.3 L1112.0,285.0 L1109.9,298.9 L1105.0,313.7 L1100.0,322.0 L1097.0,328.5 L1096.0,340.0 L1096.5,349.2 L1093.0,357.0 L1090.0,364.0 L1088.0,375.0 L1086.0,384.7 L1082.0,394.0 L1077.0,402.4 L1070.0,409.0 L1065.5,414.3 L1060.0,419.0 L1053.7,423.1 L1048.9,431.0 L1043.0,439.0 L1040.0,446.0 L1036.0,452.0 L1030.0,457.0 L1027.0,466.0 L1021.5,475.5 L1016.3,484.0 L1007.5,497.5 L1000.0,507.0 L996.0,512.0 L989.5,521.5 L983.5,527.5 L976.7,525.6 L977.8,517.8 L982.2,506.7 L987.8,493.3 L985.6,484.4 L980.0,477.8 L973.3,466.7 L968.9,473.3 L960.0,477.8 L953.3,479.9 L949.3,476.5 L945.0,474.5 L938.0,467.5 L931.0,458.3 L924.2,451.4 L915.0,446.8 L908.0,437.5 L899.5,431.0 L898.0,424.0 L903.0,414.5 L899.5,408.0 L898.5,400.0 L902.4,389.1 L909.1,378.4 L918.4,367.8 L928.0,362.0 L941.3,358.5 L953.3,354.5 L960.0,342.5 L968.0,333.2 L978.6,325.2 L991.9,317.2 L1005.2,310.6 L1009.2,303.9 L999.9,294.6 L991.9,282.6 L983.9,272.0 L977.3,261.3 L968.0,260.0 L962.6,254.6 L962.6,240.0 L962.6,237.7 L954.6,235.1 L946.6,229.8 L942.6,223.1 L945.3,216.4 L944.0,208.5 L946.6,201.8 L946.6,193.8 L956.0,187.2 L957.3,179.2 L962.6,171.2 L957.3,163.2 L953.3,155.2 L962.6,148.6 L971.9,143.2 L970.6,137.9 L975.9,132.6 L981.2,124.6 L987.9,117.9 L990.6,108.6 L994.6,100.6 L999.9,92.6 L1005.2,87.3 Z" fill="#e9e7dc"/>
<g fill="#cddfad">
<ellipse cx="1013.0" cy="133.9" rx="8.2" ry="4.2" transform="rotate(-46 1013.0 133.9)"/>
<ellipse cx="1030.0" cy="103.1" rx="7.3" ry="3.3" transform="rotate(-38 1030.0 103.1)"/>
<ellipse cx="967.4" cy="154.4" rx="4.7" ry="3.7" transform="rotate(-32 967.4 154.4)"/>
<ellipse cx="1077.6" cy="141.6" rx="5.2" ry="3.6" transform="rotate(-60 1077.6 141.6)"/>
<ellipse cx="1022.6" cy="92.9" rx="4.2" ry="2.6" transform="rotate(-59 1022.6 92.9)"/>
<ellipse cx="1014.5" cy="124.1" rx="8.2" ry="4.1" transform="rotate(-42 1014.5 124.1)"/>
<ellipse cx="1019.0" cy="142.3" rx="5.3" ry="3.2" transform="rotate(-32 1019.0 142.3)"/>
<ellipse cx="1045.2" cy="113.9" rx="4.5" ry="2.7" transform="rotate(-58 1045.2 113.9)"/>
<ellipse cx="1052.6" cy="120.8" rx="7.4" ry="4.1" transform="rotate(-33 1052.6 120.8)"/>
<ellipse cx="1006.1" cy="94.0" rx="8.8" ry="3.6" transform="rotate(-52 1006.1 94.0)"/>
<ellipse cx="1026.5" cy="124.7" rx="6.2" ry="2.6" transform="rotate(-56 1026.5 124.7)"/>
<ellipse cx="1009.0" cy="105.5" rx="7.7" ry="2.8" transform="rotate(-38 1009.0 105.5)"/>
<ellipse cx="994.3" cy="160.6" rx="4.9" ry="2.7" transform="rotate(-36 994.3 160.6)"/>
<ellipse cx="988.5" cy="151.4" rx="4.9" ry="2.9" transform="rotate(-58 988.5 151.4)"/>
<ellipse cx="986.6" cy="137.3" rx="5.8" ry="3.0" transform="rotate(-33 986.6 137.3)"/>
<ellipse cx="1016.9" cy="135.1" rx="6.1" ry="4.1" transform="rotate(-56 1016.9 135.1)"/>
<ellipse cx="1070.5" cy="155.1" rx="4.1" ry="2.7" transform="rotate(-39 1070.5 155.1)"/>
<ellipse cx="1032.0" cy="122.6" rx="3.1" ry="2.4" transform="rotate(-33 1032.0 122.6)"/>
<ellipse cx="986.0" cy="145.8" rx="7.0" ry="2.8" transform="rotate(-43 986.0 145.8)"/>
<ellipse cx="993.0" cy="102.4" rx="5.0" ry="3.8" transform="rotate(-54 993.0 102.4)"/>
<ellipse cx="1026.5" cy="157.9" rx="5.9" ry="3.6" transform="rotate(-34 1026.5 157.9)"/>
<ellipse cx="989.9" cy="124.5" rx="3.5" ry="2.3" transform="rotate(-50 989.9 124.5)"/>
<ellipse cx="1028.1" cy="98.8" rx="7.9" ry="3.0" transform="rotate(-33 1028.1 98.8)"/>
<ellipse cx="1038.8" cy="144.7" rx="5.0" ry="3.5" transform="rotate(-59 1038.8 144.7)"/>
<ellipse cx="1044.3" cy="166.9" rx="5.0" ry="2.2" transform="rotate(-46 1044.3 166.9)"/>
<ellipse cx="1048.0" cy="114.2" rx="5.8" ry="4.4" transform="rotate(-45 1048.0 114.2)"/>
<ellipse cx="1048.9" cy="161.8" rx="8.9" ry="3.8" transform="rotate(-38 1048.9 161.8)"/>
<ellipse cx="1042.3" cy="161.9" rx="7.7" ry="4.1" transform="rotate(-38 1042.3 161.9)"/>
<ellipse cx="1064.8" cy="135.0" rx="6.5" ry="3.6" transform="rotate(-44 1064.8 135.0)"/>
<ellipse cx="1036.6" cy="169.5" rx="9.8" ry="4.1" transform="rotate(-49 1036.6 169.5)"/>
<ellipse cx="1048.6" cy="135.6" rx="8.1" ry="3.2" transform="rotate(-58 1048.6 135.6)"/>
<ellipse cx="1031.8" cy="127.4" rx="6.3" ry="2.7" transform="rotate(-46 1031.8 127.4)"/>
<ellipse cx="1033.4" cy="163.5" rx="3.4" ry="2.8" transform="rotate(-52 1033.4 163.5)"/>
<ellipse cx="1041.4" cy="104.6" rx="6.8" ry="2.6" transform="rotate(-42 1041.4 104.6)"/>
<ellipse cx="1011.7" cy="161.1" rx="6.6" ry="2.9" transform="rotate(-54 1011.7 161.1)"/>
<ellipse cx="1010.3" cy="154.1" rx="11.0" ry="4.2" transform="rotate(-49 1010.3 154.1)"/>
<ellipse cx="1029.5" cy="114.0" rx="5.0" ry="2.5" transform="rotate(-37 1029.5 114.0)"/>
<ellipse cx="1062.9" cy="146.3" rx="7.0" ry="4.3" transform="rotate(-55 1062.9 146.3)"/>
<ellipse cx="1012.8" cy="110.6" rx="5.0" ry="2.7" transform="rotate(-42 1012.8 110.6)"/>
<ellipse cx="1018.2" cy="113.9" rx="11.2" ry="4.0" transform="rotate(-47 1018.2 113.9)"/>
<ellipse cx="1045.3" cy="134.8" rx="7.1" ry="2.9" transform="rotate(-59 1045.3 134.8)"/>
<ellipse cx="959.1" cy="156.0" rx="3.9" ry="2.7" transform="rotate(-59 959.1 156.0)"/>
<ellipse cx="1035.3" cy="124.6" rx="8.1" ry="3.6" transform="rotate(-37 1035.3 124.6)"/>
<ellipse cx="1076.8" cy="144.1" rx="5.2" ry="2.6" transform="rotate(-55 1076.8 144.1)"/>
<ellipse cx="990.3" cy="116.4" rx="7.6" ry="3.7" transform="rotate(-43 990.3 116.4)"/>
<ellipse cx="1051.3" cy="120.3" rx="10.4" ry="3.9" transform="rotate(-58 1051.3 120.3)"/>
<ellipse cx="1073.5" cy="147.2" rx="4.8" ry="2.5" transform="rotate(-42 1073.5 147.2)"/>
<ellipse cx="1027.7" cy="160.1" rx="10.7" ry="4.0" transform="rotate(-47 1027.7 160.1)"/>
<ellipse cx="1038.1" cy="104.8" rx="9.5" ry="3.8" transform="rotate(-42 1038.1 104.8)"/>
<ellipse cx="1046.4" cy="105.5" rx="11.6" ry="4.2" transform="rotate(-33 1046.4 105.5)"/>
<ellipse cx="1023.7" cy="152.8" rx="7.7" ry="2.9" transform="rotate(-36 1023.7 152.8)"/>
<ellipse cx="999.9" cy="94.8" rx="6.6" ry="3.2" transform="rotate(-38 999.9 94.8)"/>
<ellipse cx="1017.4" cy="90.3" rx="5.2" ry="4.0" transform="rotate(-38 1017.4 90.3)"/>
<ellipse cx="1047.2" cy="156.9" rx="10.1" ry="3.7" transform="rotate(-46 1047.2 156.9)"/>
<ellipse cx="983.9" cy="131.2" rx="6.7" ry="2.8" transform="rotate(-42 983.9 131.2)"/>
<ellipse cx="1021.9" cy="157.2" rx="5.8" ry="3.4" transform="rotate(-49 1021.9 157.2)"/>
<ellipse cx="982.2" cy="157.8" rx="8.8" ry="4.3" transform="rotate(-44 982.2 157.8)"/>
<ellipse cx="981.3" cy="131.9" rx="7.2" ry="3.3" transform="rotate(-59 981.3 131.9)"/>
<ellipse cx="1078.1" cy="130.3" rx="7.6" ry="3.1" transform="rotate(-44 1078.1 130.3)"/>
<ellipse cx="1017.9" cy="144.7" rx="4.8" ry="2.3" transform="rotate(-48 1017.9 144.7)"/>
<ellipse cx="989.9" cy="126.8" rx="4.7" ry="2.5" transform="rotate(-37 989.9 126.8)"/>
<ellipse cx="1069.5" cy="127.1" rx="4.4" ry="2.9" transform="rotate(-43 1069.5 127.1)"/>
<ellipse cx="1042.6" cy="114.4" rx="6.5" ry="3.0" transform="rotate(-57 1042.6 114.4)"/>
<ellipse cx="1020.3" cy="108.5" rx="5.4" ry="2.6" transform="rotate(-48 1020.3 108.5)"/>
<ellipse cx="1003.3" cy="121.9" rx="4.9" ry="3.4" transform="rotate(-54 1003.3 121.9)"/>
<ellipse cx="1035.5" cy="140.4" rx="8.6" ry="3.4" transform="rotate(-43 1035.5 140.4)"/>
<ellipse cx="1049.3" cy="154.5" rx="7.1" ry="4.2" transform="rotate(-51 1049.3 154.5)"/>
<ellipse cx="1047.5" cy="109.3" rx="6.1" ry="2.4" transform="rotate(-48 1047.5 109.3)"/>
<ellipse cx="1006.8" cy="144.2" rx="3.4" ry="2.2" transform="rotate(-41 1006.8 144.2)"/>
<ellipse cx="1051.5" cy="129.2" rx="5.6" ry="3.7" transform="rotate(-58 1051.5 129.2)"/>
<ellipse cx="1025.5" cy="130.2" rx="5.0" ry="3.5" transform="rotate(-55 1025.5 130.2)"/>
<ellipse cx="981.7" cy="156.9" rx="11.7" ry="4.4" transform="rotate(-57 981.7 156.9)"/>
<ellipse cx="1014.2" cy="150.7" rx="5.7" ry="2.9" transform="rotate(-46 1014.2 150.7)"/>
<ellipse cx="1010.2" cy="137.3" rx="5.2" ry="2.2" transform="rotate(-36 1010.2 137.3)"/>
<ellipse cx="1049.2" cy="121.2" rx="3.8" ry="2.6" transform="rotate(-46 1049.2 121.2)"/>
<ellipse cx="1057.0" cy="145.8" rx="9.0" ry="4.1" transform="rotate(-49 1057.0 145.8)"/>
<ellipse cx="1031.6" cy="129.4" rx="10.9" ry="4.4" transform="rotate(-53 1031.6 129.4)"/>
<ellipse cx="1070.8" cy="149.0" rx="9.8" ry="3.9" transform="rotate(-49 1070.8 149.0)"/>
<ellipse cx="1043.5" cy="150.9" rx="7.2" ry="3.9" transform="rotate(-40 1043.5 150.9)"/>
<ellipse cx="1000.8" cy="140.4" rx="5.6" ry="3.6" transform="rotate(-34 1000.8 140.4)"/>
<ellipse cx="1039.9" cy="115.7" rx="7.7" ry="3.7" transform="rotate(-45 1039.9 115.7)"/>
<ellipse cx="1036.9" cy="145.5" rx="10.7" ry="3.9" transform="rotate(-59 1036.9 145.5)"/>
<ellipse cx="1033.5" cy="148.6" rx="5.1" ry="2.8" transform="rotate(-59 1033.5 148.6)"/>
<ellipse cx="1070.1" cy="133.1" rx="9.1" ry="3.3" transform="rotate(-44 1070.1 133.1)"/>
<ellipse cx="1031.3" cy="150.3" rx="6.2" ry="2.3" transform="rotate(-56 1031.3 150.3)"/>
<ellipse cx="1015.4" cy="101.9" rx="7.2" ry="3.3" transform="rotate(-58 1015.4 101.9)"/>
<ellipse cx="1022.4" cy="137.0" rx="5.0" ry="3.0" transform="rotate(-42 1022.4 137.0)"/>
<ellipse cx="1026.6" cy="111.2" rx="6.3" ry="3.8" transform="rotate(-60 1026.6 111.2)"/>
<ellipse cx="975.7" cy="149.9" rx="8.1" ry="3.1" transform="rotate(-39 975.7 149.9)"/>
<ellipse cx="1070.1" cy="123.2" rx="9.0" ry="3.3" transform="rotate(-53 1070.1 123.2)"/>
<ellipse cx="1021.9" cy="164.9" rx="7.4" ry="3.8" transform="rotate(-33 1021.9 164.9)"/>
<ellipse cx="1058.9" cy="137.5" rx="5.4" ry="2.5" transform="rotate(-47 1058.9 137.5)"/>
<ellipse cx="1022.5" cy="98.2" rx="7.2" ry="3.2" transform="rotate(-47 1022.5 98.2)"/>
<ellipse cx="989.0" cy="135.7" rx="7.6" ry="3.1" transform="rotate(-45 989.0 135.7)"/>
<ellipse cx="1048.5" cy="107.5" rx="6.4" ry="2.5" transform="rotate(-38 1048.5 107.5)"/>
<ellipse cx="1034.7" cy="117.5" rx="6.4" ry="2.8" transform="rotate(-44 1034.7 117.5)"/>
<ellipse cx="1030.6" cy="139.9" rx="5.8" ry="3.9" transform="rotate(-53 1030.6 139.9)"/>
<ellipse cx="1009.6" cy="139.1" rx="5.0" ry="2.4" transform="rotate(-58 1009.6 139.1)"/>
<ellipse cx="966.9" cy="143.5" rx="7.5" ry="3.4" transform="rotate(-50 966.9 143.5)"/>
<ellipse cx="1016.3" cy="105.3" rx="7.1" ry="3.0" transform="rotate(-37 1016.3 105.3)"/>
<ellipse cx="1058.0" cy="139.1" rx="6.0" ry="3.9" transform="rotate(-48 1058.0 139.1)"/>
<ellipse cx="988.5" cy="154.4" rx="6.8" ry="3.0" transform="rotate(-32 988.5 154.4)"/>
<ellipse cx="997.0" cy="133.0" rx="10.3" ry="3.8" transform="rotate(-48 997.0 133.0)"/>
<ellipse cx="1002.5" cy="96.0" rx="5.5" ry="4.1" transform="rotate(-58 1002.5 96.0)"/>
<ellipse cx="1027.1" cy="127.8" rx="6.2" ry="3.7" transform="rotate(-38 1027.1 127.8)"/>
<ellipse cx="999.6" cy="172.5" rx="6.8" ry="2.9" transform="rotate(-39 999.6 172.5)"/>
<ellipse cx="970.1" cy="177.4" rx="7.1" ry="3.0" transform="rotate(-48 970.1 177.4)"/>
<ellipse cx="957.2" cy="222.7" rx="9.2" ry="3.5" transform="rotate(-32 957.2 222.7)"/>
<ellipse cx="1019.2" cy="201.0" rx="6.7" ry="4.0" transform="rotate(-49 1019.2 201.0)"/>
<ellipse cx="979.2" cy="240.8" rx="6.7" ry="4.2" transform="rotate(-48 979.2 240.8)"/>
<ellipse cx="976.5" cy="195.1" rx="5.6" ry="3.1" transform="rotate(-53 976.5 195.1)"/>
<ellipse cx="992.0" cy="229.8" rx="8.6" ry="3.4" transform="rotate(-42 992.0 229.8)"/>
<ellipse cx="961.8" cy="226.7" rx="6.8" ry="4.1" transform="rotate(-57 961.8 226.7)"/>
<ellipse cx="988.2" cy="209.5" rx="9.5" ry="3.4" transform="rotate(-40 988.2 209.5)"/>
<ellipse cx="990.7" cy="229.0" rx="3.2" ry="2.4" transform="rotate(-37 990.7 229.0)"/>
<ellipse cx="997.5" cy="177.5" rx="8.6" ry="3.8" transform="rotate(-51 997.5 177.5)"/>
<ellipse cx="965.2" cy="227.2" rx="8.1" ry="3.3" transform="rotate(-47 965.2 227.2)"/>
<ellipse cx="1000.4" cy="205.5" rx="8.0" ry="3.4" transform="rotate(-38 1000.4 205.5)"/>
<ellipse cx="1019.4" cy="198.8" rx="9.1" ry="4.0" transform="rotate(-34 1019.4 198.8)"/>
<ellipse cx="997.9" cy="207.9" rx="9.3" ry="3.8" transform="rotate(-46 997.9 207.9)"/>
<ellipse cx="980.8" cy="177.7" rx="10.7" ry="3.8" transform="rotate(-47 980.8 177.7)"/>
<ellipse cx="961.1" cy="182.3" rx="5.2" ry="3.1" transform="rotate(-31 961.1 182.3)"/>
<ellipse cx="952.6" cy="190.7" rx="5.5" ry="2.5" transform="rotate(-36 952.6 190.7)"/>
<ellipse cx="983.8" cy="212.7" rx="5.3" ry="4.2" transform="rotate(-55 983.8 212.7)"/>
<ellipse cx="962.4" cy="183.4" rx="6.4" ry="2.7" transform="rotate(-41 962.4 183.4)"/>
<ellipse cx="965.5" cy="180.8" rx="4.2" ry="2.8" transform="rotate(-37 965.5 180.8)"/>
<ellipse cx="972.3" cy="209.9" rx="7.9" ry="4.0" transform="rotate(-51 972.3 209.9)"/>
<ellipse cx="974.7" cy="209.8" rx="8.5" ry="4.3" transform="rotate(-52 974.7 209.8)"/>
<ellipse cx="1010.5" cy="196.8" rx="6.8" ry="3.4" transform="rotate(-50 1010.5 196.8)"/>
<ellipse cx="984.9" cy="195.7" rx="9.3" ry="4.0" transform="rotate(-41 984.9 195.7)"/>
<ellipse cx="960.3" cy="178.6" rx="4.7" ry="2.9" transform="rotate(-34 960.3 178.6)"/>
<ellipse cx="988.3" cy="217.0" rx="7.1" ry="4.4" transform="rotate(-43 988.3 217.0)"/>
<ellipse cx="959.8" cy="227.6" rx="5.5" ry="2.2" transform="rotate(-34 959.8 227.6)"/>
<ellipse cx="969.1" cy="223.3" rx="4.8" ry="2.4" transform="rotate(-45 969.1 223.3)"/>
<ellipse cx="1014.9" cy="190.3" rx="7.4" ry="3.9" transform="rotate(-32 1014.9 190.3)"/>
<ellipse cx="955.1" cy="232.1" rx="5.5" ry="2.7" transform="rotate(-43 955.1 232.1)"/>
<ellipse cx="960.3" cy="232.6" rx="4.9" ry="2.9" transform="rotate(-56 960.3 232.6)"/>
<ellipse cx="971.8" cy="203.4" rx="6.7" ry="3.8" transform="rotate(-39 971.8 203.4)"/>
<ellipse cx="956.2" cy="197.5" rx="8.8" ry="3.2" transform="rotate(-35 956.2 197.5)"/>
<ellipse cx="977.4" cy="222.8" rx="5.7" ry="2.7" transform="rotate(-45 977.4 222.8)"/>
<ellipse cx="1010.4" cy="182.5" rx="5.9" ry="3.6" transform="rotate(-47 1010.4 182.5)"/>
<ellipse cx="990.1" cy="189.9" rx="5.4" ry="2.9" transform="rotate(-39 990.1 189.9)"/>
<ellipse cx="968.0" cy="182.0" rx="6.6" ry="3.8" transform="rotate(-32 968.0 182.0)"/>
<ellipse cx="991.9" cy="223.9" rx="7.4" ry="2.9" transform="rotate(-55 991.9 223.9)"/>
<ellipse cx="1000.9" cy="222.7" rx="4.8" ry="2.6" transform="rotate(-35 1000.9 222.7)"/>
<ellipse cx="994.2" cy="173.2" rx="3.9" ry="2.7" transform="rotate(-55 994.2 173.2)"/>
<ellipse cx="979.7" cy="171.8" rx="8.0" ry="4.2" transform="rotate(-44 979.7 171.8)"/>
<ellipse cx="998.5" cy="227.3" rx="7.3" ry="4.0" transform="rotate(-49 998.5 227.3)"/>
<ellipse cx="979.3" cy="222.0" rx="10.7" ry="4.4" transform="rotate(-40 979.3 222.0)"/>
<ellipse cx="973.8" cy="193.4" rx="5.0" ry="3.6" transform="rotate(-47 973.8 193.4)"/>
<ellipse cx="987.7" cy="229.1" rx="8.7" ry="4.0" transform="rotate(-54 987.7 229.1)"/>
<ellipse cx="990.8" cy="194.2" rx="4.7" ry="3.3" transform="rotate(-38 990.8 194.2)"/>
<ellipse cx="1003.8" cy="232.8" rx="7.1" ry="2.6" transform="rotate(-40 1003.8 232.8)"/>
<ellipse cx="967.1" cy="212.1" rx="6.4" ry="3.7" transform="rotate(-32 967.1 212.1)"/>
<ellipse cx="976.2" cy="203.0" rx="6.8" ry="2.5" transform="rotate(-54 976.2 203.0)"/>
<ellipse cx="1018.5" cy="209.5" rx="7.2" ry="3.4" transform="rotate(-51 1018.5 209.5)"/>
<ellipse cx="1011.8" cy="214.1" rx="6.2" ry="2.5" transform="rotate(-50 1011.8 214.1)"/>
<ellipse cx="1018.0" cy="185.3" rx="8.8" ry="3.5" transform="rotate(-53 1018.0 185.3)"/>
<ellipse cx="990.7" cy="172.1" rx="3.4" ry="2.3" transform="rotate(-30 990.7 172.1)"/>
<ellipse cx="972.0" cy="219.7" rx="6.9" ry="3.8" transform="rotate(-41 972.0 219.7)"/>
<ellipse cx="963.6" cy="203.4" rx="4.6" ry="2.5" transform="rotate(-42 963.6 203.4)"/>
<ellipse cx="961.5" cy="207.6" rx="5.9" ry="2.8" transform="rotate(-49 961.5 207.6)"/>
<ellipse cx="1000.3" cy="177.6" rx="9.3" ry="4.3" transform="rotate(-45 1000.3 177.6)"/>
<ellipse cx="980.1" cy="215.9" rx="9.0" ry="3.7" transform="rotate(-37 980.1 215.9)"/>
<ellipse cx="979.9" cy="200.7" rx="9.1" ry="3.4" transform="rotate(-43 979.9 200.7)"/>
<ellipse cx="989.0" cy="200.6" rx="7.2" ry="4.2" transform="rotate(-56 989.0 200.6)"/>
<ellipse cx="1005.1" cy="213.8" rx="6.5" ry="3.9" transform="rotate(-41 1005.1 213.8)"/>
<ellipse cx="982.9" cy="206.2" rx="3.9" ry="3.1" transform="rotate(-39 982.9 206.2)"/>
<ellipse cx="989.0" cy="185.1" rx="5.3" ry="2.9" transform="rotate(-51 989.0 185.1)"/>
<ellipse cx="1015.6" cy="199.7" rx="6.2" ry="4.0" transform="rotate(-37 1015.6 199.7)"/>
<ellipse cx="992.2" cy="238.3" rx="6.0" ry="2.4" transform="rotate(-55 992.2 238.3)"/>
<ellipse cx="1050.0" cy="202.0" rx="4.0" ry="2.5" transform="rotate(-50 1050.0 202.0)"/>
<ellipse cx="1058.0" cy="196.0" rx="3.0" ry="2.0" transform="rotate(-50 1058.0 196.0)"/>
<ellipse cx="1086.0" cy="152.0" rx="3.5" ry="2.5" transform="rotate(-40 1086.0 152.0)"/>
<ellipse cx="1074.0" cy="136.0" rx="3.0" ry="2.0" transform="rotate(-50 1074.0 136.0)"/>
<ellipse cx="1037.8" cy="413.1" rx="3.8" ry="2.8" transform="rotate(-64 1037.8 413.1)"/>
<ellipse cx="1024.1" cy="359.9" rx="5.3" ry="4.3" transform="rotate(-96 1024.1 359.9)"/>
<ellipse cx="1073.2" cy="355.6" rx="7.2" ry="4.1" transform="rotate(17 1073.2 355.6)"/>
<ellipse cx="1031.5" cy="346.5" rx="6.3" ry="3.6" transform="rotate(8 1031.5 346.5)"/>
<ellipse cx="1019.9" cy="370.3" rx="5.6" ry="3.2" transform="rotate(19 1019.9 370.3)"/>
<ellipse cx="1005.0" cy="384.6" rx="5.7" ry="3.3" transform="rotate(-94 1005.0 384.6)"/>
<ellipse cx="1015.8" cy="408.6" rx="8.2" ry="5.1" transform="rotate(-84 1015.8 408.6)"/>
<ellipse cx="1028.8" cy="335.1" rx="4.7" ry="3.4" transform="rotate(-15 1028.8 335.1)"/>
<ellipse cx="1008.3" cy="387.5" rx="6.9" ry="4.9" transform="rotate(-21 1008.3 387.5)"/>
<ellipse cx="1071.8" cy="380.8" rx="4.7" ry="3.4" transform="rotate(11 1071.8 380.8)"/>
<ellipse cx="1050.5" cy="352.8" rx="5.6" ry="4.5" transform="rotate(18 1050.5 352.8)"/>
<ellipse cx="1028.3" cy="375.3" rx="5.1" ry="4.2" transform="rotate(-28 1028.3 375.3)"/>
<ellipse cx="1013.1" cy="350.5" rx="6.1" ry="4.9" transform="rotate(-66 1013.1 350.5)"/>
<ellipse cx="1059.2" cy="350.0" rx="5.4" ry="3.5" transform="rotate(-78 1059.2 350.0)"/>
<ellipse cx="988.5" cy="369.3" rx="6.8" ry="4.8" transform="rotate(12 988.5 369.3)"/>
<ellipse cx="1034.1" cy="344.1" rx="6.7" ry="4.2" transform="rotate(-57 1034.1 344.1)"/>
<ellipse cx="1049.6" cy="398.1" rx="6.2" ry="4.1" transform="rotate(1 1049.6 398.1)"/>
<ellipse cx="1052.2" cy="374.6" rx="6.9" ry="5.3" transform="rotate(-6 1052.2 374.6)"/>
<ellipse cx="1001.4" cy="382.4" rx="5.0" ry="3.4" transform="rotate(-7 1001.4 382.4)"/>
<ellipse cx="1062.2" cy="398.8" rx="5.1" ry="3.4" transform="rotate(-73 1062.2 398.8)"/>
<ellipse cx="1042.0" cy="372.7" rx="4.5" ry="2.9" transform="rotate(-14 1042.0 372.7)"/>
<ellipse cx="1041.3" cy="406.1" rx="4.2" ry="3.3" transform="rotate(-98 1041.3 406.1)"/>
<ellipse cx="1033.8" cy="366.9" rx="5.4" ry="3.9" transform="rotate(-4 1033.8 366.9)"/>
<ellipse cx="1040.9" cy="376.6" rx="6.5" ry="4.9" transform="rotate(-82 1040.9 376.6)"/>
<ellipse cx="1016.0" cy="383.6" rx="5.7" ry="4.2" transform="rotate(-29 1016.0 383.6)"/>
<ellipse cx="1002.0" cy="350.8" rx="5.2" ry="3.2" transform="rotate(-0 1002.0 350.8)"/>
<ellipse cx="1025.4" cy="360.6" rx="6.0" ry="3.4" transform="rotate(-95 1025.4 360.6)"/>
<ellipse cx="1033.1" cy="396.1" rx="6.9" ry="5.4" transform="rotate(-45 1033.1 396.1)"/>
<ellipse cx="999.1" cy="363.2" rx="5.2" ry="3.6" transform="rotate(-91 999.1 363.2)"/>
<ellipse cx="1059.9" cy="393.7" rx="4.6" ry="3.4" transform="rotate(-34 1059.9 393.7)"/>
<ellipse cx="1008.9" cy="369.3" rx="7.4" ry="5.2" transform="rotate(-60 1008.9 369.3)"/>
<ellipse cx="989.1" cy="364.1" rx="5.5" ry="4.5" transform="rotate(-59 989.1 364.1)"/>
<ellipse cx="1053.2" cy="405.4" rx="7.5" ry="4.3" transform="rotate(-44 1053.2 405.4)"/>
<ellipse cx="1023.7" cy="403.5" rx="6.3" ry="3.8" transform="rotate(-74 1023.7 403.5)"/>
<ellipse cx="1019.2" cy="344.4" rx="5.5" ry="4.2" transform="rotate(-76 1019.2 344.4)"/>
<ellipse cx="1006.2" cy="369.9" rx="5.3" ry="3.6" transform="rotate(19 1006.2 369.9)"/>
<ellipse cx="1051.7" cy="405.2" rx="4.8" ry="3.3" transform="rotate(-91 1051.7 405.2)"/>
<ellipse cx="1052.9" cy="360.5" rx="4.3" ry="3.5" transform="rotate(-78 1052.9 360.5)"/>
<ellipse cx="1010.9" cy="363.2" rx="8.5" ry="5.2" transform="rotate(-68 1010.9 363.2)"/>
<ellipse cx="1020.6" cy="341.7" rx="7.4" ry="5.2" transform="rotate(-8 1020.6 341.7)"/>
<ellipse cx="987.2" cy="356.8" rx="4.7" ry="3.8" transform="rotate(6 987.2 356.8)"/>
<ellipse cx="1017.0" cy="397.0" rx="5.1" ry="4.2" transform="rotate(-53 1017.0 397.0)"/>
<ellipse cx="1000.0" cy="381.3" rx="4.0" ry="2.9" transform="rotate(-49 1000.0 381.3)"/>
<ellipse cx="1038.5" cy="340.2" rx="6.3" ry="4.6" transform="rotate(-13 1038.5 340.2)"/>
<ellipse cx="1050.4" cy="341.2" rx="4.6" ry="3.3" transform="rotate(-14 1050.4 341.2)"/>
<ellipse cx="1024.9" cy="362.6" rx="6.7" ry="5.1" transform="rotate(-65 1024.9 362.6)"/>
<ellipse cx="1019.0" cy="347.3" rx="3.5" ry="2.9" transform="rotate(-24 1019.0 347.3)"/>
<ellipse cx="1040.6" cy="400.4" rx="7.4" ry="5.3" transform="rotate(-20 1040.6 400.4)"/>
<ellipse cx="1075.2" cy="347.4" rx="7.3" ry="4.6" transform="rotate(15 1075.2 347.4)"/>
<ellipse cx="1070.2" cy="349.0" rx="5.6" ry="4.4" transform="rotate(-49 1070.2 349.0)"/>
<ellipse cx="1022.7" cy="357.4" rx="5.6" ry="4.1" transform="rotate(-81 1022.7 357.4)"/>
<ellipse cx="1024.6" cy="370.5" rx="5.2" ry="3.2" transform="rotate(-71 1024.6 370.5)"/>
<ellipse cx="994.3" cy="358.6" rx="5.0" ry="3.9" transform="rotate(-30 994.3 358.6)"/>
<ellipse cx="1053.9" cy="377.5" rx="5.6" ry="4.6" transform="rotate(-53 1053.9 377.5)"/>
<ellipse cx="1033.7" cy="380.4" rx="5.6" ry="4.0" transform="rotate(-70 1033.7 380.4)"/>
<ellipse cx="987.5" cy="359.1" rx="7.9" ry="5.1" transform="rotate(-69 987.5 359.1)"/>
<ellipse cx="1050.6" cy="344.6" rx="6.3" ry="4.0" transform="rotate(15 1050.6 344.6)"/>
<ellipse cx="1020.7" cy="379.6" rx="8.7" ry="5.3" transform="rotate(-25 1020.7 379.6)"/>
<ellipse cx="1046.0" cy="364.8" rx="5.3" ry="3.9" transform="rotate(-0 1046.0 364.8)"/>
<ellipse cx="1071.3" cy="362.2" rx="6.3" ry="5.2" transform="rotate(-84 1071.3 362.2)"/>
<ellipse cx="1034.8" cy="355.6" rx="6.7" ry="3.7" transform="rotate(-82 1034.8 355.6)"/>
<ellipse cx="1004.0" cy="348.5" rx="6.1" ry="4.6" transform="rotate(-100 1004.0 348.5)"/>
<ellipse cx="1038.4" cy="363.3" rx="5.1" ry="3.4" transform="rotate(-22 1038.4 363.3)"/>
<ellipse cx="1038.9" cy="383.9" rx="7.2" ry="4.3" transform="rotate(16 1038.9 383.9)"/>
<ellipse cx="1017.9" cy="359.0" rx="7.1" ry="5.1" transform="rotate(-14 1017.9 359.0)"/>
<ellipse cx="1053.3" cy="389.4" rx="9.0" ry="5.3" transform="rotate(-81 1053.3 389.4)"/>
<ellipse cx="1046.1" cy="371.9" rx="6.1" ry="4.3" transform="rotate(-66 1046.1 371.9)"/>
<ellipse cx="1058.5" cy="375.8" rx="4.6" ry="3.4" transform="rotate(-61 1058.5 375.8)"/>
<ellipse cx="1002.6" cy="374.0" rx="3.9" ry="3.1" transform="rotate(-92 1002.6 374.0)"/>
<ellipse cx="996.2" cy="368.4" rx="7.2" ry="4.8" transform="rotate(-80 996.2 368.4)"/>
<ellipse cx="1034.9" cy="399.3" rx="6.2" ry="3.8" transform="rotate(-70 1034.9 399.3)"/>
<ellipse cx="1055.3" cy="357.3" rx="6.1" ry="3.7" transform="rotate(1 1055.3 357.3)"/>
<ellipse cx="1066.3" cy="378.8" rx="6.3" ry="3.9" transform="rotate(-25 1066.3 378.8)"/>
<ellipse cx="1066.6" cy="399.7" rx="4.5" ry="3.1" transform="rotate(-20 1066.6 399.7)"/>
<ellipse cx="1007.8" cy="344.5" rx="4.4" ry="2.8" transform="rotate(13 1007.8 344.5)"/>
<ellipse cx="1052.5" cy="365.5" rx="6.4" ry="4.4" transform="rotate(12 1052.5 365.5)"/>
<ellipse cx="1055.0" cy="338.6" rx="4.0" ry="2.9" transform="rotate(-12 1055.0 338.6)"/>
<ellipse cx="1038.3" cy="371.2" rx="5.2" ry="3.8" transform="rotate(-4 1038.3 371.2)"/>
<ellipse cx="1067.3" cy="353.4" rx="6.0" ry="3.8" transform="rotate(-8 1067.3 353.4)"/>
<ellipse cx="1081.2" cy="362.8" rx="7.0" ry="4.6" transform="rotate(-4 1081.2 362.8)"/>
<ellipse cx="1009.8" cy="371.7" rx="4.3" ry="3.1" transform="rotate(-98 1009.8 371.7)"/>
<ellipse cx="1040.6" cy="340.9" rx="6.0" ry="4.4" transform="rotate(-73 1040.6 340.9)"/>
<ellipse cx="1032.4" cy="360.7" rx="4.3" ry="3.5" transform="rotate(-92 1032.4 360.7)"/>
<ellipse cx="1072.6" cy="355.7" rx="3.9" ry="3.0" transform="rotate(-42 1072.6 355.7)"/>
<ellipse cx="1070.1" cy="371.3" rx="6.5" ry="3.9" transform="rotate(-52 1070.1 371.3)"/>
<ellipse cx="990.8" cy="377.3" rx="7.1" ry="4.5" transform="rotate(-67 990.8 377.3)"/>
<ellipse cx="1066.8" cy="392.9" rx="4.0" ry="3.3" transform="rotate(-80 1066.8 392.9)"/>
<ellipse cx="1020.3" cy="395.4" rx="5.4" ry="3.6" transform="rotate(-99 1020.3 395.4)"/>
<ellipse cx="986.3" cy="375.2" rx="8.2" ry="4.9" transform="rotate(-12 986.3 375.2)"/>
<ellipse cx="1024.3" cy="399.9" rx="8.2" ry="5.0" transform="rotate(18 1024.3 399.9)"/>
<ellipse cx="1024.6" cy="391.1" rx="6.0" ry="3.5" transform="rotate(-97 1024.6 391.1)"/>
<ellipse cx="1041.7" cy="348.3" rx="5.4" ry="3.8" transform="rotate(-21 1041.7 348.3)"/>
<ellipse cx="1064.6" cy="360.6" rx="6.3" ry="4.5" transform="rotate(-66 1064.6 360.6)"/>
<ellipse cx="1073.8" cy="356.8" rx="4.3" ry="3.0" transform="rotate(-11 1073.8 356.8)"/>
<ellipse cx="1005.9" cy="394.5" rx="6.8" ry="4.2" transform="rotate(-79 1005.9 394.5)"/>
<ellipse cx="1019.5" cy="366.6" rx="4.2" ry="2.8" transform="rotate(-52 1019.5 366.6)"/>
<ellipse cx="1016.7" cy="376.1" rx="7.0" ry="5.3" transform="rotate(6 1016.7 376.1)"/>
<ellipse cx="1016.6" cy="395.5" rx="5.5" ry="3.1" transform="rotate(-48 1016.6 395.5)"/>
<ellipse cx="1025.2" cy="391.2" rx="4.4" ry="3.3" transform="rotate(-19 1025.2 391.2)"/>
<ellipse cx="1078.0" cy="356.8" rx="4.6" ry="3.3" transform="rotate(19 1078.0 356.8)"/>
<ellipse cx="999.7" cy="384.8" rx="6.0" ry="3.8" transform="rotate(-75 999.7 384.8)"/>
<ellipse cx="1045.5" cy="407.4" rx="7.9" ry="5.0" transform="rotate(-39 1045.5 407.4)"/>
<ellipse cx="1040.8" cy="338.2" rx="8.0" ry="5.0" transform="rotate(-46 1040.8 338.2)"/>
<ellipse cx="1050.3" cy="365.5" rx="5.1" ry="3.8" transform="rotate(-28 1050.3 365.5)"/>
<ellipse cx="1041.3" cy="374.1" rx="4.5" ry="2.9" transform="rotate(-46 1041.3 374.1)"/>
<ellipse cx="1043.3" cy="381.2" rx="6.7" ry="5.2" transform="rotate(-44 1043.3 381.2)"/>
<ellipse cx="1015.8" cy="393.9" rx="7.7" ry="5.4" transform="rotate(4 1015.8 393.9)"/>
<ellipse cx="1033.3" cy="349.0" rx="7.9" ry="5.0" transform="rotate(13 1033.3 349.0)"/>
<ellipse cx="1066.4" cy="399.4" rx="7.4" ry="4.1" transform="rotate(-92 1066.4 399.4)"/>
<ellipse cx="1070.4" cy="391.7" rx="5.8" ry="3.5" transform="rotate(-46 1070.4 391.7)"/>
<ellipse cx="1037.7" cy="405.5" rx="4.5" ry="3.3" transform="rotate(-23 1037.7 405.5)"/>
<ellipse cx="992.4" cy="377.7" rx="7.2" ry="4.8" transform="rotate(-71 992.4 377.7)"/>
<ellipse cx="1060.7" cy="377.2" rx="8.7" ry="5.2" transform="rotate(-82 1060.7 377.2)"/>
<ellipse cx="1021.0" cy="337.0" rx="4.1" ry="2.9" transform="rotate(4 1021.0 337.0)"/>
<ellipse cx="1003.0" cy="362.8" rx="7.9" ry="5.0" transform="rotate(8 1003.0 362.8)"/>
<ellipse cx="1005.4" cy="384.3" rx="8.3" ry="5.1" transform="rotate(-76 1005.4 384.3)"/>
<ellipse cx="1050.6" cy="366.6" rx="4.0" ry="2.8" transform="rotate(-62 1050.6 366.6)"/>
<ellipse cx="1046.8" cy="352.9" rx="7.1" ry="4.4" transform="rotate(-78 1046.8 352.9)"/>
<ellipse cx="997.7" cy="390.1" rx="5.1" ry="4.0" transform="rotate(-86 997.7 390.1)"/>
<ellipse cx="1077.3" cy="382.6" rx="4.9" ry="3.7" transform="rotate(19 1077.3 382.6)"/>
<ellipse cx="1052.9" cy="393.9" rx="5.2" ry="3.7" transform="rotate(-51 1052.9 393.9)"/>
<ellipse cx="999.5" cy="384.5" rx="6.6" ry="3.9" transform="rotate(-51 999.5 384.5)"/>
<ellipse cx="1029.9" cy="373.3" rx="7.4" ry="5.2" transform="rotate(-16 1029.9 373.3)"/>
<ellipse cx="1008.2" cy="379.8" rx="6.1" ry="3.5" transform="rotate(-66 1008.2 379.8)"/>
<ellipse cx="1068.9" cy="388.6" rx="7.0" ry="4.0" transform="rotate(-53 1068.9 388.6)"/>
<ellipse cx="1058.0" cy="381.8" rx="4.9" ry="4.0" transform="rotate(-50 1058.0 381.8)"/>
<ellipse cx="1012.7" cy="367.5" rx="7.3" ry="5.3" transform="rotate(-17 1012.7 367.5)"/>
<ellipse cx="1051.0" cy="349.9" rx="5.0" ry="3.9" transform="rotate(7 1051.0 349.9)"/>
<ellipse cx="1009.8" cy="365.6" rx="6.2" ry="3.7" transform="rotate(2 1009.8 365.6)"/>
<ellipse cx="1043.0" cy="376.9" rx="5.3" ry="3.1" transform="rotate(-89 1043.0 376.9)"/>
<ellipse cx="1020.8" cy="361.5" rx="7.5" ry="4.7" transform="rotate(-59 1020.8 361.5)"/>
<ellipse cx="1031.1" cy="360.4" rx="5.6" ry="4.0" transform="rotate(-19 1031.1 360.4)"/>
<ellipse cx="1023.9" cy="402.2" rx="7.3" ry="4.5" transform="rotate(20 1023.9 402.2)"/>
<ellipse cx="991.7" cy="369.4" rx="6.1" ry="3.8" transform="rotate(-74 991.7 369.4)"/>
<ellipse cx="1021.4" cy="340.8" rx="6.3" ry="3.8" transform="rotate(-90 1021.4 340.8)"/>
<ellipse cx="1001.5" cy="386.1" rx="7.3" ry="4.4" transform="rotate(-70 1001.5 386.1)"/>
<ellipse cx="1064.6" cy="393.4" rx="6.1" ry="4.8" transform="rotate(-44 1064.6 393.4)"/>
<ellipse cx="987.6" cy="359.4" rx="6.4" ry="4.2" transform="rotate(-87 987.6 359.4)"/>
<ellipse cx="1062.5" cy="355.0" rx="5.3" ry="4.1" transform="rotate(-32 1062.5 355.0)"/>
<ellipse cx="1035.3" cy="354.3" rx="6.5" ry="4.8" transform="rotate(-50 1035.3 354.3)"/>
<ellipse cx="1029.4" cy="378.0" rx="6.8" ry="4.0" transform="rotate(-87 1029.4 378.0)"/>
<ellipse cx="1068.4" cy="341.9" rx="8.1" ry="5.3" transform="rotate(-51 1068.4 341.9)"/>
<ellipse cx="1045.1" cy="405.3" rx="7.7" ry="5.3" transform="rotate(-99 1045.1 405.3)"/>
<ellipse cx="1057.1" cy="391.8" rx="4.9" ry="3.2" transform="rotate(-97 1057.1 391.8)"/>
<ellipse cx="996.0" cy="354.9" rx="8.4" ry="5.3" transform="rotate(2 996.0 354.9)"/>
<ellipse cx="989.7" cy="365.2" rx="4.1" ry="3.0" transform="rotate(-87 989.7 365.2)"/>
<ellipse cx="1075.2" cy="357.4" rx="6.5" ry="4.1" transform="rotate(6 1075.2 357.4)"/>
<ellipse cx="1077.9" cy="378.8" rx="7.1" ry="4.1" transform="rotate(-53 1077.9 378.8)"/>
<ellipse cx="1014.5" cy="394.2" rx="4.9" ry="3.5" transform="rotate(-48 1014.5 394.2)"/>
<ellipse cx="1031.9" cy="360.1" rx="5.8" ry="3.9" transform="rotate(-94 1031.9 360.1)"/>
<ellipse cx="1036.9" cy="377.0" rx="5.1" ry="3.8" transform="rotate(-88 1036.9 377.0)"/>
<ellipse cx="1021.6" cy="356.1" rx="5.4" ry="4.1" transform="rotate(-10 1021.6 356.1)"/>
<ellipse cx="1032.9" cy="328.8" rx="6.9" ry="3.9" transform="rotate(-99 1032.9 328.8)"/>
<ellipse cx="1043.3" cy="414.0" rx="5.8" ry="3.8" transform="rotate(-56 1043.3 414.0)"/>
<ellipse cx="1014.7" cy="382.5" rx="6.0" ry="4.3" transform="rotate(-40 1014.7 382.5)"/>
<ellipse cx="1035.7" cy="395.5" rx="3.7" ry="2.9" transform="rotate(-70 1035.7 395.5)"/>
<ellipse cx="1011.6" cy="399.2" rx="6.7" ry="3.9" transform="rotate(-52 1011.6 399.2)"/>
<ellipse cx="1013.2" cy="388.9" rx="5.4" ry="3.0" transform="rotate(-0 1013.2 388.9)"/>
<ellipse cx="1017.3" cy="356.4" rx="8.2" ry="4.9" transform="rotate(-23 1017.3 356.4)"/>
<ellipse cx="1039.2" cy="411.0" rx="5.4" ry="4.5" transform="rotate(12 1039.2 411.0)"/>
<ellipse cx="1058.9" cy="379.9" rx="4.6" ry="2.8" transform="rotate(-50 1058.9 379.9)"/>
<ellipse cx="1061.7" cy="367.4" rx="6.8" ry="4.8" transform="rotate(-46 1061.7 367.4)"/>
<ellipse cx="1028.0" cy="338.6" rx="6.0" ry="3.6" transform="rotate(-91 1028.0 338.6)"/>
<ellipse cx="1050.4" cy="377.1" rx="3.9" ry="3.1" transform="rotate(-63 1050.4 377.1)"/>
<ellipse cx="1078.6" cy="378.1" rx="6.9" ry="5.2" transform="rotate(-50 1078.6 378.1)"/>
<ellipse cx="1037.7" cy="403.1" rx="5.4" ry="3.1" transform="rotate(-43 1037.7 403.1)"/>
<ellipse cx="988.3" cy="366.7" rx="6.1" ry="3.8" transform="rotate(11 988.3 366.7)"/>
<ellipse cx="1033.5" cy="389.7" rx="6.3" ry="3.8" transform="rotate(-87 1033.5 389.7)"/>
<ellipse cx="1057.9" cy="342.9" rx="5.7" ry="4.3" transform="rotate(-58 1057.9 342.9)"/>
<ellipse cx="1001.2" cy="359.3" rx="6.6" ry="4.3" transform="rotate(-53 1001.2 359.3)"/>
<ellipse cx="1041.4" cy="403.4" rx="5.8" ry="3.7" transform="rotate(-42 1041.4 403.4)"/>
<ellipse cx="1081.2" cy="357.4" rx="6.2" ry="4.6" transform="rotate(-69 1081.2 357.4)"/>
<ellipse cx="1056.7" cy="379.5" rx="4.3" ry="3.5" transform="rotate(-1 1056.7 379.5)"/>
<ellipse cx="1022.2" cy="392.1" rx="6.2" ry="3.9" transform="rotate(-33 1022.2 392.1)"/>
<ellipse cx="1029.8" cy="371.6" rx="5.6" ry="3.4" transform="rotate(-88 1029.8 371.6)"/>
<ellipse cx="1015.2" cy="403.8" rx="4.7" ry="2.9" transform="rotate(-32 1015.2 403.8)"/>
<ellipse cx="1039.2" cy="357.8" rx="5.7" ry="3.2" transform="rotate(-8 1039.2 357.8)"/>
<ellipse cx="1062.0" cy="347.6" rx="5.0" ry="3.3" transform="rotate(-27 1062.0 347.6)"/>
<ellipse cx="1042.2" cy="408.5" rx="8.4" ry="5.2" transform="rotate(-56 1042.2 408.5)"/>
<ellipse cx="1013.7" cy="404.8" rx="6.4" ry="4.7" transform="rotate(-70 1013.7 404.8)"/>
<ellipse cx="987.2" cy="376.1" rx="4.8" ry="3.5" transform="rotate(-70 987.2 376.1)"/>
<ellipse cx="998.1" cy="371.4" rx="4.8" ry="3.5" transform="rotate(-67 998.1 371.4)"/>
<ellipse cx="1035.1" cy="406.2" rx="5.5" ry="3.2" transform="rotate(3 1035.1 406.2)"/>
<ellipse cx="1044.9" cy="376.7" rx="7.2" ry="4.7" transform="rotate(-21 1044.9 376.7)"/>
<ellipse cx="1076.9" cy="360.5" rx="6.5" ry="4.8" transform="rotate(-46 1076.9 360.5)"/>
<ellipse cx="1021.5" cy="393.3" rx="7.9" ry="5.3" transform="rotate(-32 1021.5 393.3)"/>
<ellipse cx="1019.3" cy="348.8" rx="6.7" ry="5.3" transform="rotate(13 1019.3 348.8)"/>
<ellipse cx="1049.5" cy="334.4" rx="6.5" ry="5.1" transform="rotate(-32 1049.5 334.4)"/>
<ellipse cx="1015.5" cy="406.1" rx="4.7" ry="3.0" transform="rotate(-92 1015.5 406.1)"/>
<ellipse cx="988.1" cy="379.1" rx="8.6" ry="5.4" transform="rotate(3 988.1 379.1)"/>
<ellipse cx="1068.3" cy="385.6" rx="3.3" ry="2.2" transform="rotate(-78 1068.3 385.6)"/>
<ellipse cx="1039.9" cy="361.4" rx="4.0" ry="3.0" transform="rotate(-15 1039.9 361.4)"/>
<ellipse cx="1027.9" cy="380.5" rx="3.2" ry="2.2" transform="rotate(-33 1027.9 380.5)"/>
<ellipse cx="996.8" cy="353.5" rx="4.3" ry="2.7" transform="rotate(13 996.8 353.5)"/>
<ellipse cx="1035.9" cy="395.6" rx="5.3" ry="3.4" transform="rotate(-26 1035.9 395.6)"/>
<ellipse cx="1039.1" cy="449.1" rx="2.6" ry="2.1" transform="rotate(4 1039.1 449.1)"/>
<ellipse cx="1057.7" cy="385.4" rx="5.2" ry="3.2" transform="rotate(-3 1057.7 385.4)"/>
<ellipse cx="1073.7" cy="369.1" rx="3.8" ry="2.7" transform="rotate(-98 1073.7 369.1)"/>
<ellipse cx="1066.7" cy="348.0" rx="4.8" ry="3.2" transform="rotate(-60 1066.7 348.0)"/>
<ellipse cx="1056.2" cy="376.0" rx="4.3" ry="2.5" transform="rotate(-79 1056.2 376.0)"/>
<ellipse cx="998.5" cy="346.7" rx="4.9" ry="3.0" transform="rotate(-60 998.5 346.7)"/>
<ellipse cx="1008.2" cy="404.9" rx="3.8" ry="2.5" transform="rotate(-69 1008.2 404.9)"/>
<ellipse cx="1078.5" cy="336.8" rx="3.4" ry="2.5" transform="rotate(-60 1078.5 336.8)"/>
<ellipse cx="1061.9" cy="407.7" rx="5.5" ry="3.6" transform="rotate(-91 1061.9 407.7)"/>
<ellipse cx="1066.0" cy="345.4" rx="3.5" ry="2.4" transform="rotate(19 1066.0 345.4)"/>
<ellipse cx="1022.8" cy="361.7" rx="6.9" ry="3.8" transform="rotate(-54 1022.8 361.7)"/>
<ellipse cx="1068.1" cy="359.0" rx="5.1" ry="3.6" transform="rotate(-66 1068.1 359.0)"/>
<ellipse cx="1047.3" cy="417.5" rx="5.0" ry="3.0" transform="rotate(-98 1047.3 417.5)"/>
<ellipse cx="1036.9" cy="365.2" rx="3.7" ry="2.1" transform="rotate(-83 1036.9 365.2)"/>
<ellipse cx="1019.6" cy="445.0" rx="3.7" ry="2.3" transform="rotate(13 1019.6 445.0)"/>
<ellipse cx="1003.2" cy="329.7" rx="5.8" ry="3.4" transform="rotate(-13 1003.2 329.7)"/>
<ellipse cx="1086.4" cy="375.8" rx="3.5" ry="2.7" transform="rotate(-67 1086.4 375.8)"/>
<ellipse cx="1002.3" cy="360.4" rx="2.9" ry="2.1" transform="rotate(-78 1002.3 360.4)"/>
<ellipse cx="995.5" cy="386.4" rx="4.7" ry="3.1" transform="rotate(-9 995.5 386.4)"/>
<ellipse cx="1039.9" cy="447.3" rx="2.9" ry="2.2" transform="rotate(-91 1039.9 447.3)"/>
<ellipse cx="1016.0" cy="420.3" rx="5.8" ry="3.8" transform="rotate(-81 1016.0 420.3)"/>
<ellipse cx="1018.3" cy="392.4" rx="4.3" ry="2.6" transform="rotate(17 1018.3 392.4)"/>
<ellipse cx="1032.6" cy="397.5" rx="5.5" ry="3.7" transform="rotate(-77 1032.6 397.5)"/>
<ellipse cx="1026.1" cy="317.5" rx="3.0" ry="2.3" transform="rotate(-12 1026.1 317.5)"/>
<ellipse cx="1006.2" cy="425.9" rx="4.8" ry="3.0" transform="rotate(-44 1006.2 425.9)"/>
<ellipse cx="1010.7" cy="399.7" rx="4.1" ry="2.7" transform="rotate(-25 1010.7 399.7)"/>
<ellipse cx="1016.9" cy="361.7" rx="5.8" ry="3.8" transform="rotate(-50 1016.9 361.7)"/>
<ellipse cx="1041.4" cy="376.7" rx="4.7" ry="2.7" transform="rotate(-72 1041.4 376.7)"/>
<ellipse cx="1079.0" cy="333.6" rx="5.4" ry="3.0" transform="rotate(-65 1079.0 333.6)"/>
<ellipse cx="1000.8" cy="414.9" rx="3.8" ry="2.5" transform="rotate(-81 1000.8 414.9)"/>
<ellipse cx="1086.2" cy="351.2" rx="3.5" ry="2.2" transform="rotate(-58 1086.2 351.2)"/>
<ellipse cx="1043.5" cy="382.1" rx="5.8" ry="3.8" transform="rotate(-55 1043.5 382.1)"/>
<ellipse cx="1011.6" cy="393.3" rx="4.8" ry="3.3" transform="rotate(-89 1011.6 393.3)"/>
<ellipse cx="1036.7" cy="379.9" rx="5.8" ry="3.3" transform="rotate(-66 1036.7 379.9)"/>
<ellipse cx="1030.7" cy="322.3" rx="4.8" ry="3.6" transform="rotate(-1 1030.7 322.3)"/>
<ellipse cx="1069.8" cy="346.9" rx="5.7" ry="3.8" transform="rotate(-49 1069.8 346.9)"/>
<ellipse cx="1043.1" cy="447.2" rx="4.4" ry="3.0" transform="rotate(-65 1043.1 447.2)"/>
<ellipse cx="1074.5" cy="382.9" rx="3.5" ry="2.7" transform="rotate(-74 1074.5 382.9)"/>
<ellipse cx="1057.4" cy="425.6" rx="5.8" ry="3.4" transform="rotate(-4 1057.4 425.6)"/>
<ellipse cx="1015.4" cy="345.4" rx="4.7" ry="3.8" transform="rotate(-39 1015.4 345.4)"/>
<ellipse cx="1019.7" cy="424.8" rx="5.6" ry="3.2" transform="rotate(12 1019.7 424.8)"/>
<ellipse cx="1052.9" cy="319.4" rx="4.2" ry="3.3" transform="rotate(18 1052.9 319.4)"/>
<ellipse cx="1077.8" cy="355.0" rx="3.8" ry="2.4" transform="rotate(-9 1077.8 355.0)"/>
<ellipse cx="1066.6" cy="423.9" rx="5.8" ry="3.7" transform="rotate(13 1066.6 423.9)"/>
<ellipse cx="1052.3" cy="381.3" rx="3.9" ry="2.8" transform="rotate(-97 1052.3 381.3)"/>
<ellipse cx="1007.2" cy="404.8" rx="5.7" ry="3.6" transform="rotate(-38 1007.2 404.8)"/>
<ellipse cx="1016.8" cy="349.6" rx="3.8" ry="2.4" transform="rotate(-18 1016.8 349.6)"/>
<ellipse cx="1085.6" cy="357.9" rx="6.7" ry="3.9" transform="rotate(-65 1085.6 357.9)"/>
<ellipse cx="1018.7" cy="350.5" rx="4.5" ry="3.0" transform="rotate(-96 1018.7 350.5)"/>
<ellipse cx="1076.9" cy="387.6" rx="4.9" ry="2.9" transform="rotate(-70 1076.9 387.6)"/>
<ellipse cx="959.3" cy="454.6" rx="2.7" ry="2.2" transform="rotate(-50 959.3 454.6)"/>
<ellipse cx="991.2" cy="461.1" rx="3.9" ry="2.9" transform="rotate(-34 991.2 461.1)"/>
<ellipse cx="1001.0" cy="471.6" rx="6.0" ry="3.4" transform="rotate(26 1001.0 471.6)"/>
<ellipse cx="944.6" cy="441.3" rx="4.4" ry="3.2" transform="rotate(1 944.6 441.3)"/>
<ellipse cx="998.1" cy="453.9" rx="5.9" ry="3.7" transform="rotate(-1 998.1 453.9)"/>
<ellipse cx="976.5" cy="462.4" rx="3.3" ry="2.2" transform="rotate(34 976.5 462.4)"/>
<ellipse cx="945.7" cy="450.2" rx="5.2" ry="3.5" transform="rotate(-82 945.7 450.2)"/>
<ellipse cx="999.5" cy="460.2" rx="5.5" ry="3.4" transform="rotate(-14 999.5 460.2)"/>
<ellipse cx="977.9" cy="431.3" rx="3.1" ry="2.2" transform="rotate(-34 977.9 431.3)"/>
<ellipse cx="1008.2" cy="466.5" rx="4.6" ry="3.3" transform="rotate(38 1008.2 466.5)"/>
<ellipse cx="949.6" cy="452.8" rx="4.3" ry="2.5" transform="rotate(-29 949.6 452.8)"/>
<ellipse cx="972.8" cy="459.9" rx="5.4" ry="4.0" transform="rotate(11 972.8 459.9)"/>
<ellipse cx="996.6" cy="463.6" rx="4.1" ry="2.8" transform="rotate(-37 996.6 463.6)"/>
<ellipse cx="972.9" cy="452.8" rx="5.5" ry="3.7" transform="rotate(-34 972.9 452.8)"/>
<ellipse cx="1010.4" cy="464.1" rx="4.9" ry="2.8" transform="rotate(37 1010.4 464.1)"/>
<ellipse cx="1002.9" cy="460.1" rx="5.7" ry="3.5" transform="rotate(-59 1002.9 460.1)"/>
<ellipse cx="992.5" cy="480.2" rx="4.7" ry="3.0" transform="rotate(-68 992.5 480.2)"/>
<ellipse cx="1001.6" cy="470.4" rx="5.8" ry="4.2" transform="rotate(-0 1001.6 470.4)"/>
<ellipse cx="1001.3" cy="449.5" rx="4.5" ry="3.3" transform="rotate(-44 1001.3 449.5)"/>
<ellipse cx="1007.0" cy="459.3" rx="5.4" ry="3.3" transform="rotate(7 1007.0 459.3)"/>
<ellipse cx="999.7" cy="473.4" rx="4.1" ry="2.6" transform="rotate(-21 999.7 473.4)"/>
<ellipse cx="985.4" cy="469.6" rx="4.0" ry="3.1" transform="rotate(-12 985.4 469.6)"/>
<ellipse cx="973.6" cy="440.9" rx="4.9" ry="3.3" transform="rotate(-26 973.6 440.9)"/>
<ellipse cx="995.2" cy="492.1" rx="3.9" ry="2.8" transform="rotate(-50 995.2 492.1)"/>
<ellipse cx="983.0" cy="431.8" rx="4.5" ry="2.8" transform="rotate(-79 983.0 431.8)"/>
<ellipse cx="954.2" cy="438.8" rx="3.7" ry="2.2" transform="rotate(3 954.2 438.8)"/>
<ellipse cx="995.9" cy="455.3" rx="5.2" ry="3.9" transform="rotate(-34 995.9 455.3)"/>
<ellipse cx="965.1" cy="463.1" rx="5.8" ry="3.8" transform="rotate(-15 965.1 463.1)"/>
<ellipse cx="967.3" cy="463.0" rx="5.0" ry="2.9" transform="rotate(28 967.3 463.0)"/>
<ellipse cx="994.2" cy="442.9" rx="4.5" ry="2.8" transform="rotate(-70 994.2 442.9)"/>
<ellipse cx="958.1" cy="457.3" rx="4.1" ry="2.5" transform="rotate(-93 958.1 457.3)"/>
<ellipse cx="1007.3" cy="470.7" rx="4.1" ry="3.3" transform="rotate(-94 1007.3 470.7)"/>
<ellipse cx="988.0" cy="494.7" rx="2.7" ry="2.1" transform="rotate(-97 988.0 494.7)"/>
<ellipse cx="995.8" cy="443.2" rx="4.2" ry="2.6" transform="rotate(-3 995.8 443.2)"/>
<ellipse cx="968.5" cy="457.0" rx="3.5" ry="2.5" transform="rotate(-63 968.5 457.0)"/>
<ellipse cx="987.4" cy="450.2" rx="3.8" ry="2.2" transform="rotate(-34 987.4 450.2)"/>
<ellipse cx="980.9" cy="453.4" rx="6.5" ry="4.0" transform="rotate(-13 980.9 453.4)"/>
<ellipse cx="992.8" cy="481.9" rx="4.5" ry="3.1" transform="rotate(-45 992.8 481.9)"/>
<ellipse cx="980.3" cy="465.1" rx="4.8" ry="3.2" transform="rotate(10 980.3 465.1)"/>
<ellipse cx="989.6" cy="451.4" rx="4.2" ry="2.4" transform="rotate(17 989.6 451.4)"/>
<ellipse cx="994.7" cy="481.9" rx="5.4" ry="3.6" transform="rotate(-44 994.7 481.9)"/>
<ellipse cx="983.5" cy="468.6" rx="4.6" ry="2.7" transform="rotate(-28 983.5 468.6)"/>
<ellipse cx="951.9" cy="459.2" rx="4.3" ry="3.4" transform="rotate(-21 951.9 459.2)"/>
<ellipse cx="1015.1" cy="462.7" rx="5.7" ry="3.7" transform="rotate(-18 1015.1 462.7)"/>
<ellipse cx="983.5" cy="455.3" rx="5.2" ry="3.3" transform="rotate(-98 983.5 455.3)"/>
<ellipse cx="998.2" cy="261.0" rx="2.9" ry="2.3" transform="rotate(-19 998.2 261.0)"/>
<ellipse cx="1007.6" cy="243.2" rx="4.3" ry="3.0" transform="rotate(-15 1007.6 243.2)"/>
<ellipse cx="1012.3" cy="264.3" rx="2.6" ry="2.1" transform="rotate(-16 1012.3 264.3)"/>
<ellipse cx="995.9" cy="246.5" rx="2.7" ry="2.0" transform="rotate(-42 995.9 246.5)"/>
<ellipse cx="999.3" cy="266.5" rx="3.9" ry="2.3" transform="rotate(-31 999.3 266.5)"/>
<ellipse cx="1007.8" cy="252.3" rx="4.7" ry="3.3" transform="rotate(-23 1007.8 252.3)"/>
<ellipse cx="997.2" cy="255.8" rx="4.9" ry="3.5" transform="rotate(-58 997.2 255.8)"/>
<ellipse cx="998.6" cy="249.3" rx="5.9" ry="3.4" transform="rotate(-2 998.6 249.3)"/>
<ellipse cx="1078.8" cy="298.4" rx="4.1" ry="2.5" transform="rotate(-31 1078.8 298.4)"/>
<ellipse cx="1043.4" cy="290.5" rx="3.8" ry="2.5" transform="rotate(-93 1043.4 290.5)"/>
<ellipse cx="1061.5" cy="281.1" rx="3.2" ry="2.1" transform="rotate(28 1061.5 281.1)"/>
<ellipse cx="1050.5" cy="291.0" rx="4.5" ry="2.7" transform="rotate(-21 1050.5 291.0)"/>
<ellipse cx="1053.9" cy="273.0" rx="3.9" ry="3.1" transform="rotate(21 1053.9 273.0)"/>
<ellipse cx="1041.9" cy="273.0" rx="4.5" ry="2.6" transform="rotate(-13 1041.9 273.0)"/>
<ellipse cx="1083.3" cy="306.1" rx="3.8" ry="3.1" transform="rotate(16 1083.3 306.1)"/>
<ellipse cx="1048.6" cy="271.4" rx="2.3" ry="1.9" transform="rotate(23 1048.6 271.4)"/>
<ellipse cx="1062.1" cy="267.0" rx="3.2" ry="1.9" transform="rotate(-16 1062.1 267.0)"/>
<ellipse cx="1046.5" cy="278.6" rx="2.7" ry="2.1" transform="rotate(-72 1046.5 278.6)"/>
<ellipse cx="1077.1" cy="271.8" rx="3.2" ry="2.1" transform="rotate(-47 1077.1 271.8)"/>
<ellipse cx="1048.7" cy="295.0" rx="3.9" ry="2.7" transform="rotate(-34 1048.7 295.0)"/>
<ellipse cx="1042.3" cy="297.7" rx="3.0" ry="2.1" transform="rotate(-99 1042.3 297.7)"/>
<ellipse cx="1091.5" cy="296.1" rx="3.8" ry="2.5" transform="rotate(32 1091.5 296.1)"/>
<ellipse cx="1047.7" cy="284.2" rx="4.4" ry="3.1" transform="rotate(-1 1047.7 284.2)"/>
<ellipse cx="1056.5" cy="279.0" rx="5.3" ry="3.2" transform="rotate(-2 1056.5 279.0)"/>
<ellipse cx="1093.6" cy="272.8" rx="4.3" ry="2.5" transform="rotate(7 1093.6 272.8)"/>
<ellipse cx="1082.9" cy="312.2" rx="3.8" ry="2.5" transform="rotate(34 1082.9 312.2)"/>
<ellipse cx="1092.1" cy="295.5" rx="6.1" ry="3.4" transform="rotate(17 1092.1 295.5)"/>
<ellipse cx="1078.0" cy="317.7" rx="3.0" ry="2.1" transform="rotate(-21 1078.0 317.7)"/>
<ellipse cx="1043.6" cy="298.5" rx="3.2" ry="2.3" transform="rotate(-15 1043.6 298.5)"/>
<ellipse cx="1051.1" cy="288.0" rx="6.0" ry="3.3" transform="rotate(-63 1051.1 288.0)"/>
<ellipse cx="1061.2" cy="302.2" rx="3.7" ry="2.1" transform="rotate(-72 1061.2 302.2)"/>
<ellipse cx="1072.3" cy="281.7" rx="2.2" ry="1.8" transform="rotate(-100 1072.3 281.7)"/>
<ellipse cx="1059.0" cy="278.0" rx="5.7" ry="3.6" transform="rotate(-91 1059.0 278.0)"/>
<ellipse cx="1081.5" cy="275.5" rx="4.4" ry="2.7" transform="rotate(20 1081.5 275.5)"/>
<ellipse cx="1094.2" cy="286.4" rx="3.4" ry="2.4" transform="rotate(-56 1094.2 286.4)"/>
<ellipse cx="1083.0" cy="288.9" rx="3.9" ry="3.0" transform="rotate(10 1083.0 288.9)"/>
<ellipse cx="1075.8" cy="271.4" rx="2.7" ry="1.9" transform="rotate(-74 1075.8 271.4)"/>
<ellipse cx="1082.4" cy="295.2" rx="5.4" ry="3.0" transform="rotate(-92 1082.4 295.2)"/>
<ellipse cx="1066.6" cy="309.8" rx="4.6" ry="3.0" transform="rotate(20 1066.6 309.8)"/>
<ellipse cx="1061.6" cy="268.6" rx="3.6" ry="3.0" transform="rotate(-68 1061.6 268.6)"/>
<ellipse cx="956.4" cy="403.0" rx="4.1" ry="2.9" transform="rotate(-83 956.4 403.0)"/>
<ellipse cx="983.6" cy="410.9" rx="4.6" ry="3.0" transform="rotate(-19 983.6 410.9)"/>
<ellipse cx="993.2" cy="407.7" rx="4.3" ry="3.2" transform="rotate(8 993.2 407.7)"/>
<ellipse cx="981.6" cy="394.5" rx="2.4" ry="1.6" transform="rotate(-63 981.6 394.5)"/>
<ellipse cx="980.1" cy="397.1" rx="3.0" ry="2.4" transform="rotate(-82 980.1 397.1)"/>
<ellipse cx="980.3" cy="408.0" rx="5.3" ry="3.2" transform="rotate(-59 980.3 408.0)"/>
<ellipse cx="972.8" cy="396.9" rx="4.1" ry="2.9" transform="rotate(29 972.8 396.9)"/>
<ellipse cx="974.2" cy="390.1" rx="3.3" ry="2.4" transform="rotate(40 974.2 390.1)"/>
<ellipse cx="954.0" cy="407.7" rx="2.4" ry="1.8" transform="rotate(-41 954.0 407.7)"/>
<ellipse cx="980.1" cy="413.1" rx="3.2" ry="2.3" transform="rotate(-48 980.1 413.1)"/>
<ellipse cx="974.1" cy="373.3" rx="3.2" ry="1.8" transform="rotate(5 974.1 373.3)"/>
<ellipse cx="953.2" cy="407.5" rx="2.9" ry="1.9" transform="rotate(-15 953.2 407.5)"/>
<ellipse cx="966.8" cy="374.1" rx="3.6" ry="2.8" transform="rotate(-95 966.8 374.1)"/>
<ellipse cx="982.6" cy="394.6" rx="5.1" ry="3.0" transform="rotate(-71 982.6 394.6)"/>
<ellipse cx="952.3" cy="403.0" rx="3.2" ry="2.4" transform="rotate(28 952.3 403.0)"/>
<ellipse cx="960.4" cy="405.5" rx="3.0" ry="1.7" transform="rotate(33 960.4 405.5)"/>
<ellipse cx="980.9" cy="385.2" rx="4.8" ry="2.8" transform="rotate(11 980.9 385.2)"/>
<ellipse cx="957.0" cy="399.4" rx="5.4" ry="3.1" transform="rotate(-65 957.0 399.4)"/>
<ellipse cx="977.6" cy="385.0" rx="3.1" ry="1.9" transform="rotate(6 977.6 385.0)"/>
<ellipse cx="966.8" cy="391.5" rx="4.4" ry="2.7" transform="rotate(-35 966.8 391.5)"/>
<ellipse cx="958.5" cy="417.1" rx="3.8" ry="2.4" transform="rotate(-49 958.5 417.1)"/>
<ellipse cx="968.4" cy="376.1" rx="4.9" ry="3.2" transform="rotate(-82 968.4 376.1)"/>
</g>
<defs><radialGradient id="ul"><stop offset="0" stop-color="#f4f3ee" stop-opacity=".85"/><stop offset=".55" stop-color="#f2f1eb" stop-opacity=".6"/><stop offset="1" stop-color="#efeee6" stop-opacity="0"/></radialGradient></defs>
<g fill="url(#ul)"><ellipse cx="1090" cy="180" rx="34" ry="50" transform="rotate(25 1090 180)"/><ellipse cx="1066" cy="228" rx="20" ry="28" transform="rotate(30 1066 228)"/><ellipse cx="962" cy="357" rx="22" ry="15" transform="rotate(-35 962 357)"/></g>
<g fill="#94c1e2">
<ellipse cx="1033.0" cy="161.0" rx="2.2" ry="6.0" transform="rotate(25 1033.0 161.0)"/>
<ellipse cx="1067.0" cy="124.0" rx="1.2" ry="4.0" transform="rotate(15 1067.0 124.0)"/>
<ellipse cx="1074.0" cy="138.0" rx="1.2" ry="4.5" transform="rotate(10 1074.0 138.0)"/>
<ellipse cx="985.0" cy="215.0" rx="3.0" ry="2.0" transform="rotate(0 985.0 215.0)"/>
<ellipse cx="1000.0" cy="222.0" rx="3.0" ry="2.0" transform="rotate(-20 1000.0 222.0)"/>
<ellipse cx="1094.0" cy="205.0" rx="2.0" ry="4.0" transform="rotate(30 1094.0 205.0)"/>
<ellipse cx="1090.0" cy="198.0" rx="1.5" ry="3.0" transform="rotate(30 1090.0 198.0)"/>
<ellipse cx="906.0" cy="405.5" rx="4.5" ry="2.2" transform="rotate(-40 906.0 405.5)"/>
<ellipse cx="912.0" cy="440.0" rx="2.0" ry="1.5" transform="rotate(0 912.0 440.0)"/>
</g>
<g fill="none" stroke="#94c1e2" stroke-width="1.2"><path d="M1052.0,405.0 C1053.0,406.2 1055.7,409.8 1058.0,412.0 C1060.3,414.2 1063.7,415.3 1066.0,418.0 C1068.3,420.7 1071.0,426.3 1072.0,428.0"/><path d="M1022.0,440.0 C1022.7,442.0 1024.3,448.3 1026.0,452.0 C1027.7,455.7 1031.0,460.3 1032.0,462.0"/><path d="M968.0,445.0 C967.7,446.8 965.7,452.2 966.0,456.0 C966.3,459.8 969.3,466.0 970.0,468.0"/><path d="M918.0,448.0 C919.3,448.3 923.3,449.8 926.0,450.0 C928.7,450.2 931.5,449.5 934.0,449.0 C936.5,448.5 939.8,447.3 941.0,447.0"/><path d="M1049.0,241.0 C1049.8,241.6 1051.8,243.7 1054.0,244.5 C1056.2,245.3 1059.3,245.5 1062.0,246.0 C1064.7,246.5 1067.7,247.5 1070.0,247.5 C1072.3,247.5 1075.0,246.2 1076.0,246.0" stroke-width="1.2"/></g>
<g fill="none" stroke="#f8f8f3" stroke-linecap="round"><path d="M905.0,383.0 C908.3,380.5 918.3,372.5 925.0,368.0 C931.7,363.5 938.8,359.8 945.0,356.0 C951.2,352.2 955.3,350.7 962.0,345.0 C968.7,339.3 978.2,328.8 985.0,322.0 C991.8,315.2 997.2,310.2 1003.0,304.0 C1008.8,297.8 1014.5,291.7 1020.0,285.0 C1025.5,278.3 1030.8,271.0 1036.0,264.0 C1041.2,257.0 1046.7,249.3 1051.0,243.0 C1055.3,236.7 1058.2,231.8 1062.0,226.0 C1065.8,220.2 1070.0,213.3 1074.0,208.0 C1078.0,202.7 1081.7,198.3 1086.0,194.0 C1090.3,189.7 1095.7,185.0 1100.0,182.0 C1104.3,179.0 1110.0,177.0 1112.0,176.0" stroke-width="1.23"/><path d="M912.0,388.0 C915.8,385.3 927.5,377.3 935.0,372.0 C942.5,366.7 950.3,361.7 957.0,356.0 C963.7,350.3 968.8,344.3 975.0,338.0 C981.2,331.7 988.8,323.5 994.0,318.0 C999.2,312.5 1003.0,308.3 1006.0,305.0 C1009.0,301.7 1011.0,299.2 1012.0,298.0" stroke-width="0.98"/><path d="M986.0,524.0 C987.7,521.3 992.0,513.7 996.0,508.0 C1000.0,502.3 1005.7,496.7 1010.0,490.0 C1014.3,483.3 1017.7,475.0 1022.0,468.0 C1026.3,461.0 1031.3,454.3 1036.0,448.0 C1040.7,441.7 1045.7,436.7 1050.0,430.0 C1054.3,423.3 1058.3,415.7 1062.0,408.0 C1065.7,400.3 1069.0,392.3 1072.0,384.0 C1075.0,375.7 1078.0,367.0 1080.0,358.0 C1082.0,349.0 1083.7,339.7 1084.0,330.0 C1084.3,320.3 1083.3,309.7 1082.0,300.0 C1080.7,290.3 1078.0,280.3 1076.0,272.0 C1074.0,263.7 1071.0,256.7 1070.0,250.0 C1069.0,243.3 1069.0,238.7 1070.0,232.0 C1071.0,225.3 1073.7,217.0 1076.0,210.0 C1078.3,203.0 1081.7,196.7 1084.0,190.0 C1086.3,183.3 1088.3,176.7 1090.0,170.0 C1091.7,163.3 1092.8,155.3 1094.0,150.0 C1095.2,144.7 1096.5,140.0 1097.0,138.0" stroke-width="1.15"/><path d="M958.0,352.0 C960.3,355.0 966.7,363.3 972.0,370.0 C977.3,376.7 984.0,384.7 990.0,392.0 C996.0,399.3 1002.3,407.3 1008.0,414.0 C1013.7,420.7 1019.0,426.8 1024.0,432.0 C1029.0,437.2 1035.7,442.8 1038.0,445.0" stroke-width="1.07"/><path d="M962.0,350.0 C965.0,353.7 973.7,364.0 980.0,372.0 C986.3,380.0 993.7,390.0 1000.0,398.0 C1006.3,406.0 1012.3,413.0 1018.0,420.0 C1023.7,427.0 1031.3,436.7 1034.0,440.0" stroke-width="0.74"/><path d="M930.0,372.0 C933.3,375.0 942.5,383.7 950.0,390.0 C957.5,396.3 966.7,404.2 975.0,410.0 C983.3,415.8 991.7,420.3 1000.0,425.0 C1008.3,429.7 1018.3,434.5 1025.0,438.0 C1031.7,441.5 1037.5,444.7 1040.0,446.0" stroke-width="0.74"/><path d="M962.0,360.0 C962.7,364.2 964.3,376.7 966.0,385.0 C967.7,393.3 970.0,401.7 972.0,410.0 C974.0,418.3 976.0,427.0 978.0,435.0 C980.0,443.0 982.3,450.5 984.0,458.0 C985.7,465.5 987.3,476.3 988.0,480.0" stroke-width="0.98"/><path d="M962.0,358.0 C960.0,362.5 953.7,376.3 950.0,385.0 C946.3,393.7 942.3,401.7 940.0,410.0 C937.7,418.3 936.0,427.5 936.0,435.0 C936.0,442.5 939.3,451.7 940.0,455.0" stroke-width="0.74"/><path d="M900.0,400.0 C903.3,403.3 912.5,413.3 920.0,420.0 C927.5,426.7 936.7,435.0 945.0,440.0 C953.3,445.0 962.5,445.0 970.0,450.0 C977.5,455.0 986.7,466.7 990.0,470.0" stroke-width="0.74"/><path d="M1006.0,304.0 C1009.2,304.3 1018.5,305.8 1025.0,306.0 C1031.5,306.2 1038.3,305.0 1045.0,305.0 C1051.7,305.0 1058.3,305.5 1065.0,306.0 C1071.7,306.5 1079.5,308.0 1085.0,308.0 C1090.5,308.0 1095.8,306.3 1098.0,306.0" stroke-width="0.98"/><path d="M946.0,196.0 C949.2,195.3 958.5,193.7 965.0,192.0 C971.5,190.3 978.3,187.7 985.0,186.0 C991.7,184.3 998.3,183.7 1005.0,182.0 C1011.7,180.3 1018.3,177.0 1025.0,176.0 C1031.7,175.0 1038.3,176.3 1045.0,176.0 C1051.7,175.7 1058.3,174.7 1065.0,174.0 C1071.7,173.3 1078.3,171.7 1085.0,172.0 C1091.7,172.3 1099.8,175.0 1105.0,176.0 C1110.2,177.0 1114.2,177.7 1116.0,178.0" stroke-width="1.15"/><path d="M944.0,224.0 C946.7,223.3 954.0,221.0 960.0,220.0 C966.0,219.0 973.3,218.7 980.0,218.0 C986.7,217.3 993.3,217.0 1000.0,216.0 C1006.7,215.0 1013.3,213.0 1020.0,212.0 C1026.7,211.0 1033.3,210.7 1040.0,210.0 C1046.7,209.3 1053.7,209.0 1060.0,208.0 C1066.3,207.0 1072.7,204.3 1078.0,204.0 C1083.3,203.7 1087.8,204.7 1092.0,206.0 C1096.2,207.3 1101.2,211.0 1103.0,212.0" stroke-width="1.15"/><path d="M1052.0,243.0 C1050.0,241.2 1043.3,236.7 1040.0,232.0 C1036.7,227.3 1033.0,221.2 1032.0,215.0 C1031.0,208.8 1032.3,201.2 1034.0,195.0 C1035.7,188.8 1039.0,183.8 1042.0,178.0 C1045.0,172.2 1048.0,165.3 1052.0,160.0 C1056.0,154.7 1061.3,150.0 1066.0,146.0 C1070.7,142.0 1075.7,138.0 1080.0,136.0 C1084.3,134.0 1090.0,134.3 1092.0,134.0" stroke-width="0.98"/><path d="M1006.0,302.0 C1005.7,298.3 1003.7,287.8 1004.0,280.0 C1004.3,272.2 1006.7,263.3 1008.0,255.0 C1009.3,246.7 1011.7,238.3 1012.0,230.0 C1012.3,221.7 1011.0,213.3 1010.0,205.0 C1009.0,196.7 1007.0,188.3 1006.0,180.0 C1005.0,171.7 1003.7,163.3 1004.0,155.0 C1004.3,146.7 1006.7,138.3 1008.0,130.0 C1009.3,121.7 1011.0,111.7 1012.0,105.0 C1013.0,98.3 1013.7,92.5 1014.0,90.0" stroke-width="0.82"/><path d="M1006.0,180.0 C1008.3,176.7 1015.0,166.7 1020.0,160.0 C1025.0,153.3 1031.0,146.0 1036.0,140.0 C1041.0,134.0 1045.7,127.7 1050.0,124.0 C1054.3,120.3 1060.0,119.0 1062.0,118.0" stroke-width="0.74"/><path d="M1078.0,186.0 C1076.0,183.3 1069.7,176.0 1066.0,170.0 C1062.3,164.0 1059.3,157.0 1056.0,150.0 C1052.7,143.0 1049.3,134.3 1046.0,128.0 C1042.7,121.7 1039.0,117.0 1036.0,112.0 C1033.0,107.0 1029.3,100.3 1028.0,98.0" stroke-width="0.82"/><path d="M972.0,142.0 C974.2,143.3 980.3,147.0 985.0,150.0 C989.7,153.0 994.2,156.3 1000.0,160.0 C1005.8,163.7 1013.0,169.0 1020.0,172.0 C1027.0,175.0 1038.3,177.0 1042.0,178.0" stroke-width="0.74"/><path d="M962.0,240.0 C964.2,241.7 970.3,247.0 975.0,250.0 C979.7,253.0 985.2,256.0 990.0,258.0 C994.8,260.0 999.0,260.3 1004.0,262.0 C1009.0,263.7 1014.7,267.3 1020.0,268.0 C1025.3,268.7 1033.3,266.3 1036.0,266.0" stroke-width="0.74"/><path d="M992.0,282.0 C993.3,280.0 997.0,274.3 1000.0,270.0 C1003.0,265.7 1007.0,261.0 1010.0,256.0 C1013.0,251.0 1016.0,245.7 1018.0,240.0 C1020.0,234.3 1021.7,226.7 1022.0,222.0 C1022.3,217.3 1020.3,213.7 1020.0,212.0" stroke-width="0.74"/><path d="M1006.0,302.0 C1008.3,298.3 1015.3,286.7 1020.0,280.0 C1024.7,273.3 1029.3,267.7 1034.0,262.0 C1038.7,256.3 1043.7,251.3 1048.0,246.0 C1052.3,240.7 1058.0,232.7 1060.0,230.0" stroke-width="0.82"/><path d="M1051.0,243.0 C1052.8,246.2 1058.5,255.5 1062.0,262.0 C1065.5,268.5 1068.7,275.7 1072.0,282.0 C1075.3,288.3 1078.7,294.0 1082.0,300.0 C1085.3,306.0 1090.3,315.0 1092.0,318.0" stroke-width="0.82"/><path d="M1076.0,250.0 C1076.3,254.2 1078.0,266.7 1078.0,275.0 C1078.0,283.3 1076.0,290.8 1076.0,300.0 C1076.0,309.2 1078.0,320.0 1078.0,330.0 C1078.0,340.0 1077.3,350.0 1076.0,360.0 C1074.7,370.0 1072.7,380.8 1070.0,390.0 C1067.3,399.2 1064.0,407.3 1060.0,415.0 C1056.0,422.7 1048.3,432.5 1046.0,436.0" stroke-width="0.82"/><path d="M972.0,350.0 C975.8,349.7 987.0,349.0 995.0,348.0 C1003.0,347.0 1011.7,345.3 1020.0,344.0 C1028.3,342.7 1036.7,341.7 1045.0,340.0 C1053.3,338.3 1062.5,336.3 1070.0,334.0 C1077.5,331.7 1086.7,327.3 1090.0,326.0" stroke-width="0.74"/><path d="M1010.0,330.0 C1013.3,332.5 1023.3,339.7 1030.0,345.0 C1036.7,350.3 1043.3,356.5 1050.0,362.0 C1056.7,367.5 1063.3,373.3 1070.0,378.0 C1076.7,382.7 1086.7,388.0 1090.0,390.0" stroke-width="0.74"/><path d="M985.0,322.0 C987.5,325.8 995.5,337.0 1000.0,345.0 C1004.5,353.0 1008.3,361.7 1012.0,370.0 C1015.7,378.3 1019.0,386.7 1022.0,395.0 C1025.0,403.3 1027.7,411.8 1030.0,420.0 C1032.3,428.2 1035.0,440.0 1036.0,444.0" stroke-width="0.66"/><path d="M1020.0,285.0 C1023.3,285.5 1033.3,287.2 1040.0,288.0 C1046.7,288.8 1053.3,290.0 1060.0,290.0 C1066.7,290.0 1073.3,288.0 1080.0,288.0 C1086.7,288.0 1095.0,289.3 1100.0,290.0 C1105.0,290.7 1108.3,291.7 1110.0,292.0" stroke-width="0.74"/><path d="M1036.0,264.0 C1039.2,265.0 1048.5,268.7 1055.0,270.0 C1061.5,271.3 1068.3,272.0 1075.0,272.0 C1081.7,272.0 1088.8,270.7 1095.0,270.0 C1101.2,269.3 1109.2,268.3 1112.0,268.0" stroke-width="0.74"/><path d="M1110.0,262.0 C1109.7,265.8 1109.0,277.8 1108.0,285.0 C1107.0,292.2 1104.7,301.7 1104.0,305.0" stroke-width="0.66"/><path d="M1078.5,191.9 C1080.9,193.5 1088.0,197.5 1093.3,201.3 C1098.5,205.0 1107.2,212.0 1110.0,214.2" stroke-width="0.66"/><path d="M1063.6,181.7 C1064.3,180.1 1066.0,175.9 1067.6,172.5 C1069.3,169.2 1072.6,163.4 1073.6,161.6" stroke-width="0.66"/><path d="M1072.6,138.6 C1074.0,141.5 1077.7,150.3 1081.0,155.9 C1084.3,161.6 1090.4,169.6 1092.3,172.4" stroke-width="0.66"/><path d="M1054.9,136.6 C1057.2,137.5 1064.9,140.5 1068.9,141.6 C1072.9,142.8 1077.4,143.3 1079.0,143.7" stroke-width="0.66"/><path d="M1068.4,242.0 C1069.4,238.9 1072.2,230.3 1074.7,223.6 C1077.2,216.8 1082.0,205.2 1083.5,201.5" stroke-width="0.66"/><path d="M1075.2,131.7 C1075.9,133.2 1077.4,137.6 1079.3,141.0 C1081.3,144.4 1085.7,150.2 1087.0,152.0" stroke-width="0.66"/><path d="M1081.2,148.1 C1083.1,146.9 1088.4,143.7 1092.4,141.1 C1096.4,138.5 1103.0,133.9 1105.1,132.5" stroke-width="0.66"/><path d="M1063.9,201.0 C1064.6,197.7 1066.2,188.1 1068.3,181.2 C1070.3,174.2 1075.0,163.0 1076.4,159.4" stroke-width="0.66"/><path d="M1099.6,126.1 C1100.4,128.3 1102.2,134.6 1104.5,139.7 C1106.8,144.9 1111.9,154.1 1113.4,157.0" stroke-width="0.66"/><path d="M1065.8,233.5 C1066.7,231.4 1069.9,225.1 1071.2,221.0 C1072.6,216.9 1073.6,210.9 1074.1,208.9" stroke-width="0.66"/><path d="M1077.1,218.2 C1079.1,218.0 1085.5,217.8 1089.2,217.1 C1092.9,216.3 1097.6,214.2 1099.2,213.6" stroke-width="0.66"/><path d="M1091.8,138.6 C1094.3,139.1 1101.6,140.2 1106.7,141.7 C1111.9,143.2 1120.1,146.6 1122.8,147.6" stroke-width="0.66"/><path d="M1062.1,195.1 C1064.1,195.6 1069.5,196.5 1073.9,198.0 C1078.2,199.6 1085.8,203.3 1088.2,204.3" stroke-width="0.66"/><path d="M1062.9,189.4 C1064.1,191.0 1068.4,195.7 1070.1,198.7 C1071.9,201.8 1072.9,206.2 1073.5,207.7" stroke-width="0.66"/><path d="M1067.1,162.9 C1069.6,162.2 1076.9,159.3 1082.0,158.4 C1087.1,157.5 1095.0,157.6 1097.5,157.4" stroke-width="0.66"/><path d="M1105.1,131.5 C1106.3,133.4 1110.6,139.3 1112.3,143.0 C1114.1,146.8 1115.1,152.3 1115.7,154.1" stroke-width="0.66"/><path d="M1059.3,203.3 C1060.4,205.7 1063.2,213.3 1065.9,217.6 C1068.6,221.9 1073.8,227.2 1075.3,229.1" stroke-width="0.66"/><path d="M1065.4,189.6 C1067.2,187.9 1072.6,183.1 1076.2,179.4 C1079.8,175.8 1085.2,169.5 1087.0,167.5" stroke-width="0.66"/><path d="M1084.8,153.5 C1085.3,155.4 1087.1,161.1 1087.6,164.9 C1088.2,168.6 1087.9,174.1 1087.9,176.0" stroke-width="0.66"/><path d="M1056.0,227.5 C1058.4,226.2 1065.3,222.5 1069.9,219.8 C1074.5,217.2 1081.4,213.1 1083.7,211.8" stroke-width="0.66"/><path d="M1070.2,149.8 C1073.3,148.9 1082.9,146.3 1088.7,144.8 C1094.5,143.4 1102.3,141.6 1105.1,141.0" stroke-width="0.66"/><path d="M1088.8,144.5 C1090.6,148.0 1096.3,159.2 1099.6,165.7 C1102.9,172.2 1107.1,180.3 1108.6,183.3" stroke-width="0.66"/><path d="M1061.1,147.3 C1063.9,148.4 1072.1,151.6 1078.0,154.3 C1083.9,156.9 1093.2,161.6 1096.3,163.1" stroke-width="0.66"/><path d="M1059.8,189.9 C1062.6,188.9 1071.5,186.3 1076.8,183.8 C1082.2,181.4 1089.5,176.6 1092.0,175.2" stroke-width="0.66"/><path d="M1077.1,190.3 C1077.5,193.9 1078.6,204.6 1079.3,211.8 C1080.0,218.9 1081.0,229.5 1081.4,233.0" stroke-width="0.66"/><path d="M1064.3,201.3 C1065.2,202.9 1068.2,207.5 1069.8,210.8 C1071.5,214.0 1073.3,219.2 1074.0,220.9" stroke-width="0.66"/><path d="M971.6,357.0 C971.5,359.6 971.1,367.3 970.8,372.4 C970.6,377.6 970.2,385.3 970.0,387.9" stroke-width="0.66"/><path d="M968.5,353.0 C966.9,353.7 962.3,355.8 959.2,357.1 C956.1,358.5 951.5,360.6 949.9,361.2" stroke-width="0.66"/><path d="M988.3,330.3 C987.8,332.4 986.0,338.7 984.9,342.8 C983.7,347.0 981.9,353.3 981.4,355.3" stroke-width="0.66"/><path d="M943.1,358.0 C945.0,359.2 950.8,362.9 954.7,365.4 C958.6,367.8 964.4,371.5 966.3,372.7" stroke-width="0.66"/><path d="M971.4,366.7 C973.6,367.9 980.1,371.7 984.5,374.2 C988.9,376.7 995.4,380.5 997.6,381.7" stroke-width="0.66"/><path d="M951.4,361.4 C951.5,363.4 951.9,369.6 952.1,373.7 C952.3,377.8 952.7,384.0 952.8,386.1" stroke-width="0.66"/><path d="M967.6,341.6 C966.9,342.8 964.8,346.5 963.4,349.0 C962.0,351.5 959.9,355.3 959.2,356.5" stroke-width="0.66"/><path d="M951.4,353.8 C952.1,355.4 954.2,360.4 955.6,363.7 C957.0,367.0 959.0,372.0 959.7,373.7" stroke-width="0.66"/><path d="M995.6,363.7 C993.5,364.6 987.3,367.4 983.2,369.2 C979.1,371.1 972.9,373.8 970.9,374.7" stroke-width="0.66"/><path d="M969.9,363.3 C969.6,365.0 968.8,370.1 968.2,373.6 C967.7,377.0 966.9,382.1 966.6,383.9" stroke-width="0.66"/><path d="M973.8,131.8 C974.2,132.9 975.4,135.4 975.8,138.3 C976.1,141.3 975.7,146.3 976.0,149.6 C976.4,152.9 977.6,156.9 977.9,158.4" stroke-width="0.65" opacity=".75"/><path d="M1016.4,373.0 C1017.2,372.0 1019.2,369.6 1021.1,366.7 C1023.0,363.8 1025.7,358.7 1027.8,355.4 C1030.0,352.1 1032.9,348.2 1033.9,346.8" stroke-width="0.65" opacity=".75"/><path d="M1005.4,316.3 C1006.1,315.0 1009.4,312.4 1009.8,308.7 C1010.2,305.0 1007.5,298.4 1007.8,294.2 C1008.1,290.0 1010.9,285.4 1011.6,283.6" stroke-width="0.65" opacity=".75"/><path d="M1021.6,206.7 C1022.4,206.2 1024.0,204.3 1026.4,203.6 C1028.7,202.8 1033.1,203.0 1035.8,202.3 C1038.5,201.5 1041.4,199.5 1042.5,199.0" stroke-width="0.65" opacity=".75"/><path d="M991.4,222.0 C991.9,221.6 993.1,220.9 994.3,219.9 C995.6,218.9 997.4,217.1 998.8,216.0 C1000.2,214.8 1002.0,213.6 1002.6,213.1" stroke-width="0.65" opacity=".75"/><path d="M1060.7,198.5 C1061.9,198.1 1064.4,196.3 1067.6,196.0 C1070.7,195.8 1076.1,197.1 1079.7,196.8 C1083.2,196.6 1087.4,195.1 1088.9,194.7" stroke-width="0.65" opacity=".75"/><path d="M1010.7,475.9 C1010.6,475.2 1009.2,472.8 1010.2,471.5 C1011.2,470.2 1015.5,469.7 1016.7,468.3 C1018.0,467.0 1017.5,464.2 1017.7,463.4" stroke-width="0.65" opacity=".75"/><path d="M947.7,400.4 C948.7,400.4 951.1,400.3 953.8,400.4 C956.5,400.6 961.0,401.1 964.0,401.3 C967.1,401.5 970.9,401.5 972.2,401.5" stroke-width="0.65" opacity=".75"/><path d="M971.0,417.7 C971.6,417.7 973.0,418.0 974.6,417.9 C976.1,417.7 978.6,417.1 980.4,416.9 C982.1,416.8 984.3,416.9 985.1,416.9" stroke-width="0.65" opacity=".75"/><path d="M1050.7,142.4 C1051.2,141.9 1053.3,141.1 1053.6,139.5 C1053.8,138.0 1052.1,134.7 1052.3,132.9 C1052.5,131.1 1054.4,129.4 1054.8,128.7" stroke-width="0.65" opacity=".75"/><path d="M986.4,354.0 C987.3,353.2 990.7,352.2 992.0,349.5 C993.4,346.8 993.0,340.9 994.4,337.8 C995.8,334.7 999.4,332.1 1000.4,330.9" stroke-width="0.65" opacity=".75"/><path d="M1084.3,306.2 C1084.4,305.4 1084.1,303.3 1085.1,301.6 C1086.2,299.9 1089.4,297.9 1090.6,296.0 C1091.9,294.1 1092.3,291.3 1092.6,290.3" stroke-width="0.65" opacity=".75"/><path d="M993.8,206.2 C993.9,206.9 994.2,208.5 994.3,210.4 C994.5,212.2 994.5,215.3 994.7,217.4 C994.9,219.5 995.2,222.0 995.3,223.0" stroke-width="0.65" opacity=".75"/><path d="M1010.6,311.6 C1011.5,311.3 1013.7,310.9 1016.1,310.0 C1018.4,309.2 1022.1,307.6 1024.8,306.6 C1027.4,305.7 1030.8,304.8 1032.0,304.4" stroke-width="0.65" opacity=".75"/><path d="M891.4,414.0 C892.7,414.0 895.7,414.7 899.0,414.1 C902.2,413.5 907.3,411.1 911.0,410.4 C914.6,409.7 919.3,409.8 920.9,409.6" stroke-width="0.65" opacity=".75"/><path d="M892.4,396.2 C893.6,396.8 897.6,397.2 899.2,399.9 C900.8,402.6 900.5,409.1 902.2,412.3 C903.9,415.4 908.1,417.5 909.3,418.6" stroke-width="0.65" opacity=".75"/><path d="M1085.0,192.1 C1085.7,191.8 1088.8,191.5 1089.3,189.8 C1089.9,188.0 1087.9,183.8 1088.4,181.7 C1088.9,179.7 1091.7,178.3 1092.3,177.7" stroke-width="0.65" opacity=".75"/><path d="M990.6,175.8 C991.1,175.3 992.8,174.5 993.8,172.9 C994.9,171.3 995.9,168.1 997.0,166.3 C998.2,164.5 1000.3,162.8 1000.9,162.0" stroke-width="0.65" opacity=".75"/><path d="M961.6,341.0 C961.6,342.3 960.3,345.8 961.8,348.4 C963.4,351.0 969.0,353.8 970.9,356.6 C972.7,359.5 972.8,364.1 973.1,365.6" stroke-width="0.65" opacity=".75"/><path d="M1013.3,388.8 C1014.3,388.8 1016.8,389.4 1019.6,389.1 C1022.4,388.7 1026.8,387.2 1029.9,386.8 C1033.0,386.3 1036.9,386.6 1038.3,386.5" stroke-width="0.65" opacity=".75"/><path d="M940.0,412.9 C941.0,413.8 942.5,417.3 945.6,418.6 C948.7,419.9 955.1,419.3 958.6,420.7 C962.2,422.0 965.5,425.6 966.9,426.6" stroke-width="0.65" opacity=".75"/><path d="M989.2,269.0 C989.8,267.9 989.9,264.1 992.3,262.3 C994.7,260.5 1000.9,260.1 1003.8,258.1 C1006.6,256.2 1008.4,252.0 1009.3,250.8" stroke-width="0.65" opacity=".75"/><path d="M1039.2,121.6 C1040.1,122.1 1042.3,122.8 1044.4,124.3 C1046.4,125.9 1049.2,129.1 1051.5,130.9 C1053.8,132.7 1057.0,134.3 1058.1,135.0" stroke-width="0.65" opacity=".75"/><path d="M1010.3,264.3 C1011.3,264.1 1014.2,264.4 1016.2,262.9 C1018.1,261.3 1020.0,256.7 1022.1,254.9 C1024.3,253.0 1027.9,252.2 1029.0,251.7" stroke-width="0.65" opacity=".75"/><path d="M1065.1,133.8 C1065.5,133.2 1067.2,131.8 1067.6,129.8 C1068.0,127.8 1067.0,124.1 1067.4,121.9 C1067.7,119.6 1069.3,117.2 1069.7,116.2" stroke-width="0.65" opacity=".75"/><path d="M969.6,463.2 C970.5,462.6 972.4,460.5 975.1,459.4 C977.8,458.2 982.6,457.4 985.7,456.1 C988.7,454.8 992.0,452.4 993.3,451.7" stroke-width="0.65" opacity=".75"/><path d="M969.2,152.1 C970.4,151.7 973.1,150.6 976.3,149.8 C979.6,149.0 985.0,148.2 988.6,147.3 C992.3,146.4 996.7,145.0 998.3,144.5" stroke-width="0.65" opacity=".75"/><path d="M1082.8,312.5 C1083.6,312.5 1086.2,311.5 1087.9,312.6 C1089.6,313.8 1091.1,317.9 1092.9,319.3 C1094.8,320.7 1098.0,320.7 1099.0,321.0" stroke-width="0.65" opacity=".75"/><path d="M1041.4,227.2 C1041.7,228.5 1042.1,231.7 1043.4,234.9 C1044.8,238.2 1047.9,243.2 1049.5,246.8 C1051.0,250.5 1052.2,255.2 1052.8,256.9" stroke-width="0.65" opacity=".75"/><path d="M978.3,483.1 C979.0,482.9 981.6,483.1 982.7,481.6 C983.7,480.1 983.4,476.0 984.5,474.2 C985.6,472.5 988.3,471.6 989.1,471.1" stroke-width="0.65" opacity=".75"/><path d="M1061.5,380.9 C1061.8,381.6 1061.4,384.7 1062.9,385.4 C1064.4,386.1 1068.8,384.3 1070.6,384.9 C1072.4,385.5 1073.1,388.4 1073.6,389.1" stroke-width="0.65" opacity=".75"/><path d="M1052.1,377.3 C1051.8,378.1 1050.2,380.0 1050.6,381.8 C1051.1,383.7 1054.1,386.4 1054.7,388.5 C1055.3,390.6 1054.4,393.3 1054.3,394.3" stroke-width="0.65" opacity=".75"/><path d="M894.9,403.9 C895.6,403.8 897.1,403.2 898.8,403.2 C900.6,403.3 903.4,404.2 905.3,404.4 C907.2,404.5 909.6,404.0 910.5,404.0" stroke-width="0.65" opacity=".75"/><path d="M956.6,426.0 C956.5,424.7 955.1,421.4 956.2,418.3 C957.2,415.2 961.4,410.7 962.6,407.2 C963.9,403.8 963.5,399.0 963.7,397.4" stroke-width="0.65" opacity=".75"/><path d="M1029.0,413.7 C1029.7,413.6 1032.0,414.1 1033.2,413.0 C1034.4,411.8 1035.0,408.0 1036.3,406.6 C1037.6,405.2 1040.2,404.8 1041.0,404.4" stroke-width="0.65" opacity=".75"/><path d="M1007.5,236.3 C1007.8,237.1 1007.8,239.8 1009.5,241.1 C1011.1,242.3 1015.6,242.6 1017.5,243.9 C1019.5,245.2 1020.6,248.2 1021.2,249.1" stroke-width="0.65" opacity=".75"/><path d="M1049.0,365.8 C1049.5,366.3 1051.6,367.0 1052.1,368.6 C1052.6,370.2 1051.6,373.6 1052.1,375.5 C1052.6,377.3 1054.6,379.0 1055.1,379.7" stroke-width="0.65" opacity=".75"/><path d="M977.8,210.9 C979.0,211.7 982.6,212.7 984.9,215.6 C987.1,218.5 988.9,224.9 991.4,228.2 C993.9,231.5 998.3,234.4 999.7,235.6" stroke-width="0.65" opacity=".75"/><path d="M1049.9,377.0 C1050.1,376.4 1050.2,374.4 1051.5,373.2 C1052.7,372.0 1055.9,371.0 1057.3,369.7 C1058.8,368.3 1059.7,366.0 1060.2,365.2" stroke-width="0.65" opacity=".75"/><path d="M1083.2,177.0 C1084.0,177.4 1086.0,178.1 1087.9,179.4 C1089.9,180.8 1092.7,183.4 1094.8,185.0 C1097.0,186.5 1099.9,187.9 1100.9,188.5" stroke-width="0.65" opacity=".75"/><path d="M1059.7,329.6 C1060.5,328.6 1062.0,325.5 1064.8,323.2 C1067.5,321.0 1073.1,318.4 1076.2,315.9 C1079.4,313.4 1082.4,309.4 1083.7,308.1" stroke-width="0.65" opacity=".75"/><path d="M992.7,459.5 C993.1,459.0 994.1,457.7 995.4,456.3 C996.6,454.9 998.8,452.8 1000.2,451.2 C1001.6,449.7 1003.3,447.7 1003.9,447.0" stroke-width="0.65" opacity=".75"/><path d="M1070.6,197.0 C1071.4,197.4 1074.6,197.7 1075.1,199.4 C1075.7,201.2 1073.6,205.6 1074.1,207.7 C1074.6,209.8 1077.4,211.2 1078.1,211.9" stroke-width="0.65" opacity=".75"/><path d="M987.3,353.1 C987.6,352.1 987.4,349.3 988.9,347.2 C990.5,345.0 994.8,342.6 996.6,340.2 C998.4,337.8 999.3,334.1 999.9,332.9" stroke-width="0.65" opacity=".75"/><path d="M909.2,415.8 C908.9,416.9 906.8,419.8 907.6,422.5 C908.4,425.1 912.9,428.9 914.0,431.9 C915.0,434.9 913.9,439.0 913.9,440.4" stroke-width="0.65" opacity=".75"/><path d="M1037.1,424.8 C1037.8,425.0 1039.6,426.0 1041.4,425.6 C1043.3,425.3 1046.1,423.1 1048.1,422.7 C1050.2,422.2 1052.9,422.8 1053.8,422.8" stroke-width="0.65" opacity=".75"/><path d="M911.9,444.4 C912.5,443.9 913.8,441.7 915.5,441.8 C917.3,442.0 920.2,444.9 922.1,445.2 C924.1,445.4 926.3,443.8 927.2,443.5" stroke-width="0.65" opacity=".75"/><path d="M945.4,394.2 C946.4,393.8 949.3,393.6 951.4,391.8 C953.5,390.0 955.8,385.5 958.1,383.5 C960.4,381.4 964.1,380.0 965.3,379.3" stroke-width="0.65" opacity=".75"/><path d="M983.1,203.7 C984.1,203.1 986.1,200.4 988.8,200.3 C991.6,200.2 996.4,203.1 999.5,203.1 C1002.6,203.2 1006.1,201.0 1007.4,200.5" stroke-width="0.65" opacity=".75"/><path d="M926.6,367.0 C927.1,366.6 928.4,365.7 929.7,364.5 C931.0,363.3 933.0,361.2 934.4,359.8 C935.9,358.5 937.8,357.0 938.5,356.4" stroke-width="0.65" opacity=".75"/><path d="M932.3,390.4 C932.6,391.3 933.4,393.4 933.8,395.9 C934.2,398.4 934.3,402.5 934.8,405.3 C935.2,408.1 936.2,411.5 936.4,412.7" stroke-width="0.65" opacity=".75"/><path d="M1047.9,146.0 C1048.5,147.1 1051.2,149.5 1051.1,152.4 C1050.9,155.2 1047.5,160.1 1047.2,163.4 C1046.9,166.6 1049.0,170.5 1049.3,171.9" stroke-width="0.65" opacity=".75"/><path d="M1075.9,270.5 C1076.2,271.2 1076.4,274.2 1077.9,274.6 C1079.4,274.9 1083.3,272.5 1085.1,272.8 C1086.9,273.1 1088.1,275.7 1088.7,276.3" stroke-width="0.65" opacity=".75"/><path d="M940.9,403.3 C941.5,402.8 942.5,400.7 944.4,400.1 C946.3,399.4 950.2,399.9 952.4,399.3 C954.6,398.6 956.7,396.5 957.6,395.9" stroke-width="0.65" opacity=".75"/><path d="M968.4,432.3 C969.4,431.5 972.8,430.3 974.6,427.4 C976.3,424.5 977.1,418.4 978.9,415.1 C980.8,411.8 984.7,408.9 985.8,407.6" stroke-width="0.65" opacity=".75"/><path d="M970.6,156.8 C970.7,156.1 970.0,153.6 971.2,152.5 C972.4,151.4 976.5,151.3 977.9,150.1 C979.4,148.9 979.7,146.2 980.0,145.4" stroke-width="0.65" opacity=".75"/><path d="M906.5,414.4 C907.4,413.7 909.5,411.7 912.0,409.7 C914.5,407.7 918.7,404.5 921.5,402.2 C924.3,399.9 927.7,397.0 929.0,396.0" stroke-width="0.65" opacity=".75"/><path d="M995.6,316.2 C996.7,316.5 1000.4,315.7 1001.8,317.7 C1003.3,319.6 1002.7,325.6 1004.2,327.9 C1005.6,330.3 1009.6,331.0 1010.6,331.6" stroke-width="0.65" opacity=".75"/><path d="M1007.1,351.8 C1007.7,351.6 1009.5,351.6 1010.7,350.5 C1011.8,349.4 1012.8,346.5 1014.1,345.2 C1015.4,343.9 1017.6,343.2 1018.3,342.8" stroke-width="0.65" opacity=".75"/><path d="M1021.5,312.8 C1022.7,312.8 1025.5,312.6 1028.5,313.2 C1031.6,313.8 1036.5,315.5 1039.9,316.2 C1043.4,316.8 1047.7,317.1 1049.2,317.2" stroke-width="0.65" opacity=".75"/><path d="M1043.7,313.5 C1044.0,314.6 1043.9,317.3 1045.3,319.9 C1046.6,322.4 1050.1,326.0 1051.6,328.8 C1053.2,331.7 1054.1,335.6 1054.6,337.0" stroke-width="0.65" opacity=".75"/><path d="M1001.1,209.1 C1002.2,209.6 1004.7,211.1 1007.9,212.1 C1011.0,213.0 1016.4,213.7 1019.9,214.7 C1023.5,215.7 1027.6,217.6 1029.1,218.2" stroke-width="0.65" opacity=".75"/><path d="M977.4,509.7 C978.7,509.8 982.4,508.6 985.1,510.3 C987.7,511.9 990.5,517.8 993.4,519.9 C996.3,521.9 1001.1,522.1 1002.6,522.5" stroke-width="0.65" opacity=".75"/><path d="M1054.5,385.5 C1055.7,385.8 1058.6,387.7 1061.6,387.2 C1064.7,386.6 1069.3,383.0 1072.7,382.2 C1076.2,381.5 1080.5,382.7 1082.1,382.7" stroke-width="0.65" opacity=".75"/><path d="M1059.9,364.2 C1059.9,363.4 1059.0,360.6 1060.3,359.4 C1061.6,358.2 1066.2,358.3 1067.8,357.0 C1069.4,355.8 1069.6,352.8 1069.9,351.9" stroke-width="0.65" opacity=".75"/><path d="M970.8,428.8 C971.2,429.3 972.4,430.3 972.9,431.7 C973.5,433.2 973.6,435.9 974.2,437.6 C974.8,439.3 976.1,441.0 976.5,441.7" stroke-width="0.65" opacity=".75"/><path d="M925.2,384.2 C926.1,383.5 927.7,381.4 930.1,379.8 C932.6,378.2 937.1,376.3 939.8,374.5 C942.6,372.7 945.6,370.0 946.7,369.1" stroke-width="0.65" opacity=".75"/><path d="M903.9,387.6 C905.4,387.7 909.0,387.1 912.5,388.3 C916.0,389.6 921.2,393.6 925.1,395.1 C929.1,396.6 934.3,396.9 936.2,397.3" stroke-width="0.65" opacity=".75"/><path d="M922.7,374.6 C923.9,375.3 926.2,378.4 929.6,378.8 C933.0,379.3 939.1,377.0 943.0,377.4 C946.8,377.8 951.0,380.6 952.6,381.2" stroke-width="0.65" opacity=".75"/><path d="M1057.9,260.1 C1058.5,261.0 1061.0,262.8 1061.8,265.6 C1062.7,268.3 1062.1,273.5 1063.0,276.7 C1063.8,279.8 1066.3,283.1 1067.0,284.4" stroke-width="0.65" opacity=".75"/><path d="M985.0,129.1 C985.2,128.4 985.2,125.5 986.7,124.9 C988.2,124.3 992.3,126.0 994.1,125.4 C995.9,124.9 996.9,122.2 997.4,121.5" stroke-width="0.65" opacity=".75"/><path d="M1018.1,362.9 C1018.3,361.9 1017.4,358.7 1019.1,357.1 C1020.7,355.5 1025.9,354.8 1027.8,353.0 C1029.7,351.3 1030.2,347.7 1030.7,346.6" stroke-width="0.65" opacity=".75"/><path d="M1064.8,230.0 C1065.6,230.7 1067.0,233.5 1069.6,234.2 C1072.2,234.8 1077.2,233.3 1080.1,233.9 C1083.1,234.5 1086.0,237.2 1087.1,237.8" stroke-width="0.65" opacity=".75"/><path d="M1103.2,203.4 C1104.0,202.3 1107.1,200.3 1107.9,197.1 C1108.8,193.9 1107.6,187.7 1108.4,184.1 C1109.3,180.4 1112.3,176.6 1113.1,175.1" stroke-width="0.65" opacity=".75"/><path d="M966.0,419.4 C967.0,420.1 969.0,423.0 972.1,423.8 C975.1,424.7 981.0,423.6 984.5,424.4 C988.0,425.3 991.7,428.1 993.1,428.8" stroke-width="0.65" opacity=".75"/><path d="M1036.7,409.2 C1038.0,409.8 1041.0,411.0 1044.2,412.6 C1047.5,414.2 1052.7,417.1 1056.4,418.9 C1060.1,420.7 1064.6,422.8 1066.3,423.5" stroke-width="0.65" opacity=".75"/><path d="M1102.6,137.2 C1103.5,138.4 1104.5,142.6 1107.7,144.5 C1110.9,146.3 1118.2,146.4 1121.9,148.3 C1125.6,150.3 1128.6,154.9 1129.9,156.2" stroke-width="0.65" opacity=".75"/><path d="M908.8,430.4 C909.4,430.0 911.8,429.5 912.2,428.0 C912.6,426.4 911.0,422.9 911.3,421.1 C911.7,419.3 913.9,417.9 914.4,417.2" stroke-width="0.65" opacity=".75"/><path d="M1034.9,420.5 C1035.7,420.9 1037.9,421.2 1039.5,422.7 C1041.2,424.1 1043.1,427.5 1045.0,429.2 C1046.8,430.9 1049.7,432.1 1050.6,432.7" stroke-width="0.65" opacity=".75"/><path d="M1074.8,310.4 C1076.1,310.7 1079.7,310.8 1083.1,312.5 C1086.4,314.2 1091.0,318.7 1094.7,320.7 C1098.4,322.8 1103.6,324.0 1105.3,324.6" stroke-width="0.65" opacity=".75"/><path d="M1051.6,145.7 C1052.5,145.9 1055.5,145.6 1057.4,147.3 C1059.3,149.0 1060.8,153.8 1062.8,155.8 C1064.9,157.8 1068.5,158.7 1069.7,159.3" stroke-width="0.65" opacity=".75"/><path d="M1071.1,146.4 C1072.0,147.2 1073.4,150.8 1076.1,151.4 C1078.9,151.9 1084.6,149.2 1087.7,149.7 C1090.9,150.2 1093.9,153.4 1095.2,154.1" stroke-width="0.65" opacity=".75"/><path d="M1111.0,164.0 C1111.2,165.1 1110.3,168.8 1112.2,170.8 C1114.1,172.7 1120.2,173.6 1122.4,175.7 C1124.7,177.8 1125.3,182.1 1125.9,183.3" stroke-width="0.65" opacity=".75"/><path d="M994.5,109.9 C995.1,108.8 996.5,106.3 998.5,103.6 C1000.4,101.0 1004.1,97.1 1006.3,94.1 C1008.6,91.2 1011.0,87.4 1011.9,86.0" stroke-width="0.65" opacity=".75"/><path d="M1033.2,364.3 C1033.9,365.0 1035.3,367.2 1037.6,368.1 C1040.0,369.0 1044.5,368.8 1047.2,369.8 C1049.8,370.7 1052.5,373.1 1053.6,373.7" stroke-width="0.65" opacity=".75"/><path d="M985.7,473.4 C986.0,474.6 985.7,478.4 987.9,480.8 C990.0,483.2 996.1,485.2 998.7,487.9 C1001.2,490.5 1002.5,495.2 1003.2,496.6" stroke-width="0.65" opacity=".75"/><path d="M928.0,425.5 C928.3,426.1 929.3,427.5 929.5,429.2 C929.6,430.9 928.8,433.9 928.9,435.8 C929.0,437.7 930.0,440.0 930.2,440.9" stroke-width="0.65" opacity=".75"/><path d="M979.3,179.9 C980.0,179.4 982.0,178.6 983.3,176.8 C984.6,175.1 985.6,171.3 987.0,169.3 C988.4,167.2 990.9,165.4 991.7,164.6" stroke-width="0.65" opacity=".75"/><path d="M993.6,111.8 C994.5,112.3 997.6,112.6 998.9,114.8 C1000.2,116.9 1000.0,122.0 1001.3,124.5 C1002.6,127.0 1006.0,128.7 1006.9,129.6" stroke-width="0.65" opacity=".75"/><path d="M1043.3,405.4 C1043.8,406.4 1046.3,408.8 1046.2,411.7 C1046.2,414.6 1043.0,419.5 1042.8,422.7 C1042.6,426.0 1044.5,429.9 1044.9,431.3" stroke-width="0.65" opacity=".75"/><path d="M948.1,425.2 C948.7,424.7 949.7,422.7 951.6,421.9 C953.5,421.2 957.3,421.4 959.5,420.7 C961.6,419.9 963.7,417.8 964.6,417.2" stroke-width="0.65" opacity=".75"/><path d="M1015.0,206.4 C1015.8,206.9 1018.0,207.6 1019.7,209.2 C1021.5,210.8 1023.7,214.3 1025.6,216.1 C1027.6,218.0 1030.5,219.6 1031.5,220.3" stroke-width="0.65" opacity=".75"/><path d="M997.8,349.7 C998.1,348.9 997.8,345.3 999.5,344.6 C1001.2,343.9 1006.3,346.0 1008.3,345.3 C1010.4,344.6 1011.3,341.3 1011.9,340.5" stroke-width="0.65" opacity=".75"/><path d="M935.6,377.6 C936.8,377.8 939.7,378.2 942.8,379.2 C945.9,380.2 950.7,382.5 954.2,383.7 C957.7,384.9 962.1,385.9 963.7,386.3" stroke-width="0.65" opacity=".75"/><path d="M1001.2,364.9 C1001.7,363.9 1001.9,360.1 1004.2,358.8 C1006.5,357.4 1012.6,358.4 1015.3,357.1 C1018.1,355.7 1019.8,351.8 1020.7,350.8" stroke-width="0.65" opacity=".75"/><path d="M974.6,234.0 C975.6,234.2 978.9,233.4 980.8,235.2 C982.6,236.9 983.7,242.4 985.7,244.4 C987.7,246.5 991.6,247.2 992.8,247.7" stroke-width="0.65" opacity=".75"/><path d="M1010.9,202.7 C1011.9,203.8 1013.4,208.1 1016.9,209.3 C1020.3,210.6 1027.7,209.1 1031.6,210.4 C1035.6,211.7 1039.2,215.9 1040.7,217.0" stroke-width="0.65" opacity=".75"/><path d="M964.5,173.1 C964.7,172.2 966.3,169.9 966.1,167.4 C965.9,164.8 963.7,160.7 963.4,157.8 C963.1,155.0 964.2,151.4 964.4,150.2" stroke-width="0.65" opacity=".75"/><path d="M1004.1,259.2 C1005.1,259.7 1007.5,261.9 1010.2,261.8 C1013.0,261.7 1017.7,258.9 1020.8,258.6 C1024.0,258.4 1027.7,260.1 1029.1,260.4" stroke-width="0.65" opacity=".75"/><path d="M1003.7,343.6 C1004.3,343.3 1006.4,343.4 1007.4,342.0 C1008.4,340.7 1008.6,337.2 1009.6,335.6 C1010.6,334.1 1013.0,333.2 1013.7,332.7" stroke-width="0.65" opacity=".75"/><path d="M973.2,241.6 C973.7,240.9 974.3,238.1 976.2,237.6 C978.0,237.2 982.1,239.4 984.2,239.1 C986.4,238.8 988.2,236.2 989.0,235.7" stroke-width="0.65" opacity=".75"/><path d="M1066.1,393.7 C1066.8,394.5 1067.8,397.8 1070.2,398.6 C1072.6,399.3 1077.9,397.6 1080.7,398.3 C1083.5,399.0 1085.9,402.1 1087.0,402.8" stroke-width="0.65" opacity=".75"/><path d="M895.4,415.7 C896.4,415.8 898.7,417.0 901.3,416.7 C903.8,416.4 907.9,414.3 910.7,413.9 C913.6,413.5 917.2,414.2 918.5,414.2" stroke-width="0.65" opacity=".75"/><path d="M1035.9,398.8 C1035.4,397.7 1032.8,395.3 1033.0,392.4 C1033.2,389.6 1036.7,384.8 1037.0,381.6 C1037.4,378.3 1035.5,374.5 1035.2,373.0" stroke-width="0.65" opacity=".75"/><path d="M1048.8,355.5 C1049.8,355.9 1051.8,357.7 1054.5,358.2 C1057.2,358.7 1062.0,357.9 1065.1,358.3 C1068.1,358.8 1071.6,360.5 1072.9,360.9" stroke-width="0.65" opacity=".75"/><path d="M1049.7,406.5 C1050.3,406.4 1051.8,406.0 1053.5,405.9 C1055.2,405.8 1058.0,406.0 1059.9,405.8 C1061.8,405.7 1064.1,405.4 1065.0,405.3" stroke-width="0.65" opacity=".75"/><path d="M1057.2,127.7 C1057.4,126.9 1057.5,124.9 1058.4,122.9 C1059.3,121.0 1061.4,118.0 1062.4,115.8 C1063.4,113.6 1064.0,110.6 1064.4,109.6" stroke-width="0.65" opacity=".75"/><path d="M966.1,370.7 C966.7,371.2 969.0,372.1 969.5,374.0 C970.0,375.8 968.7,379.6 969.2,381.7 C969.6,383.9 971.8,385.8 972.3,386.6" stroke-width="0.65" opacity=".75"/><path d="M991.1,371.6 C991.7,370.9 994.7,369.7 994.8,367.7 C994.9,365.7 991.7,361.8 991.7,359.5 C991.6,357.2 994.1,354.9 994.5,354.0" stroke-width="0.65" opacity=".75"/><path d="M1015.4,320.3 C1016.1,319.4 1017.5,317.1 1019.6,314.9 C1021.6,312.6 1025.5,309.5 1027.8,307.0 C1030.2,304.5 1032.7,301.2 1033.6,300.0" stroke-width="0.65" opacity=".75"/><path d="M1096.6,212.2 C1097.2,211.7 1099.7,211.1 1100.1,209.4 C1100.6,207.7 1099.0,204.0 1099.4,202.0 C1099.8,200.1 1102.1,198.4 1102.6,197.7" stroke-width="0.65" opacity=".75"/><path d="M1041.2,132.1 C1042.1,132.9 1043.7,135.9 1046.5,136.8 C1049.4,137.6 1055.0,136.3 1058.3,137.1 C1061.5,137.9 1064.8,140.8 1066.1,141.6" stroke-width="0.65" opacity=".75"/><path d="M1015.7,108.7 C1016.8,109.0 1019.2,110.8 1022.2,110.9 C1025.1,111.1 1030.1,109.5 1033.5,109.5 C1036.8,109.6 1040.8,111.1 1042.3,111.4" stroke-width="0.65" opacity=".75"/><path d="M909.4,393.8 C910.0,394.7 912.9,396.7 912.7,399.2 C912.4,401.7 908.5,405.8 908.1,408.6 C907.7,411.4 909.9,414.7 910.2,415.9" stroke-width="0.65" opacity=".75"/><path d="M905.2,412.5 C906.2,412.1 908.8,409.6 911.3,410.2 C913.8,410.8 917.5,415.3 920.4,416.1 C923.2,416.9 927.0,415.3 928.3,415.2" stroke-width="0.65" opacity=".75"/><path d="M983.9,502.8 C984.6,502.9 986.2,503.0 988.0,503.1 C989.7,503.1 992.7,503.2 994.7,503.2 C996.7,503.3 999.2,503.5 1000.1,503.5" stroke-width="0.65" opacity=".75"/><path d="M996.8,144.5 C996.8,143.4 995.4,140.0 996.9,137.7 C998.3,135.3 1003.8,133.0 1005.6,130.5 C1007.4,127.9 1007.3,123.7 1007.7,122.3" stroke-width="0.65" opacity=".75"/></g>
<g fill="none" stroke="#ecebe1" stroke-width="1.2" stroke-linecap="round"><path d="M1110.5,249.0 L1112.5,262.0"/><path d="M1108.5,302.0 C1108.1,304.3 1106.9,311.0 1106.0,316.0 C1105.1,321.0 1104.2,326.7 1103.3,332.0 C1102.4,337.3 1101.5,342.7 1100.5,348.0 C1099.5,353.3 1098.5,359.0 1097.5,364.0 C1096.5,369.0 1095.0,375.7 1094.5,378.0" stroke-width="1.7"/><path d="M1092.0,390.0 C1091.3,391.7 1089.5,396.7 1088.0,400.0 C1086.5,403.3 1083.8,408.3 1083.0,410.0" /><path d="M1078.0,420.0 C1077.0,421.7 1074.0,427.0 1072.0,430.0 C1070.0,433.0 1067.0,436.7 1066.0,438.0"/><path d="M1061.0,453.0 C1059.5,453.3 1055.0,454.3 1052.0,455.0 C1049.0,455.7 1046.0,456.0 1043.0,457.0 C1040.0,458.0 1035.5,460.3 1034.0,461.0" stroke-width="1.6"/><path d="M1031.0,466.0 C1030.2,467.3 1027.7,471.2 1026.0,474.0 C1024.3,476.8 1022.7,480.2 1021.0,483.0 C1019.3,485.8 1016.8,489.7 1016.0,491.0" stroke-width="1.5"/><path d="M1014.0,497.0 C1013.0,498.5 1010.2,503.2 1008.0,506.0 C1005.8,508.8 1003.3,511.5 1001.0,514.0 C998.7,516.5 996.0,519.2 994.0,521.0 C992.0,522.8 989.8,524.3 989.0,525.0" stroke-width="1.5"/></g>
<g fill="#e9ecdf" opacity=".8"><ellipse cx="1060" cy="432" rx="5" ry="3" transform="rotate(-50 1060 432)"/><ellipse cx="1050" cy="442" rx="4" ry="2.5" transform="rotate(-40 1050 442)"/><ellipse cx="1072" cy="416" rx="3" ry="2" transform="rotate(-50 1072 416)"/><ellipse cx="1026" cy="468" rx="3" ry="1.6" transform="rotate(-55 1026 468)"/><ellipse cx="1009" cy="498" rx="3.5" ry="1.6" transform="rotate(-52 1009 498)"/><ellipse cx="1000" cy="510" rx="3.5" ry="1.6" transform="rotate(-48 1000 510)"/></g>
<g font-family="Liberation Sans, sans-serif" font-size="11.7" fill="none" stroke="#f4f2ec" stroke-opacity=".8" stroke-width="2.2" stroke-linejoin="round"><text x="897" y="384.7" text-anchor="middle">Wilmington</text><text x="1110.2" y="207.4" text-anchor="middle">New York</text><text x="1087" y="170.2" text-anchor="middle">Paterson</text><text x="1004.4" y="298.6" text-anchor="middle">Trenton</text><text x="948.7" y="347.4" text-anchor="middle">Philadelphia</text><text x="921.8" y="366" text-anchor="middle">Chester</text><text x="968" y="432" text-anchor="middle">Vineland</text><text x="1051.8" y="453.2" text-anchor="middle">Atlantic City</text></g><g font-family="Liberation Sans, sans-serif" font-size="11.7" fill="#333" stroke="#333" stroke-width=".3"><text x="897" y="384.7" text-anchor="middle">Wilmington</text><text x="1110.2" y="207.4" text-anchor="middle">New York</text><text x="1087" y="170.2" text-anchor="middle">Paterson</text><text x="1004.4" y="298.6" text-anchor="middle">Trenton</text><text x="948.7" y="347.4" text-anchor="middle">Philadelphia</text><text x="921.8" y="366" text-anchor="middle">Chester</text><text x="968" y="432" text-anchor="middle">Vineland</text><text x="1051.8" y="453.2" text-anchor="middle">Atlantic City</text></g>
</g>
<path d="M1013.2,85.2 L1086.7,130.0 L1125.8,151.4 L1122.0,166.4 L1115.6,183.5 L1109.1,198.4 L1103.8,213.4 L1094.2,215.6 L1083.5,217.7 L1081.3,226.3 L1080.3,232.7 L1076.0,234.8 L1074.9,241.2 L1079.2,247.6 L1094.2,244.4 L1109.1,240.2 L1117.7,238.0 L1124.1,243.4 L1126.6,248.0 L1126.6,274.6 L1118.6,301.2 L1112.0,335.8 L1105.3,373.1 L1104.0,385.1 L1094.7,401.9 L1092.0,405.3 L1082.4,424.0 L1073.1,442.6 L1061.1,457.2 L1045.1,461.2 L1034.5,474.5 L1021.2,493.2 L1021.2,501.2 L1011.9,513.2 L1007.9,522.5 L994.6,534.5 L983.9,537.1 L969.3,549.1 L960.0,530.5 L946.6,503.8 L928.0,471.9 L918.4,461.2 L905.1,445.3 L895.8,432.0 L894.5,424.0 L899.8,414.6 L895.8,408.0 L895.0,400.0 L902.4,389.1 L909.1,378.4 L918.4,367.8 L928.0,362.0 L941.3,358.5 L953.3,354.5 L960.0,342.5 L968.0,333.2 L978.6,325.2 L991.9,317.2 L1005.2,310.6 L1009.2,303.9 L999.9,294.6 L991.9,282.6 L983.9,272.0 L977.3,261.3 L968.0,260.0 L962.6,254.6 L962.6,240.0 L962.6,237.7 L954.6,235.1 L946.6,229.8 L942.6,223.1 L945.3,216.4 L944.0,208.5 L946.6,201.8 L946.6,193.8 L956.0,187.2 L957.3,179.2 L962.6,171.2 L957.3,163.2 L953.3,155.2 L962.6,148.6 L971.9,143.2 L970.6,137.9 L975.9,132.6 L981.2,124.6 L987.9,117.9 L990.6,108.6 L994.6,100.6 L999.9,92.6 L1005.2,87.3 Z" fill="none" stroke="#5d3e9c" stroke-width="2.1" stroke-linejoin="round"/>
<g fill="#43308a" fill-opacity=".88">
<circle cx="1086.7" cy="162.5" r="4.7"/>
<circle cx="1090.5" cy="167.5" r="4.7"/>
<circle cx="1097.4" cy="172.8" r="4.7"/>
<circle cx="1078.8" cy="193.1" r="4.7"/>
<circle cx="1076.4" cy="194.4" r="4.7"/>
<circle cx="1053.5" cy="195.9" r="4.7"/>
<circle cx="1074.5" cy="202.3" r="4.7"/>
<circle cx="1051" cy="242.7" r="4.7"/>
<circle cx="972.7" cy="366.7" r="4.7"/>
<circle cx="1020.4" cy="419.4" r="4.7"/>
<circle cx="1037.4" cy="443.9" r="4.7"/>
<circle cx="940.5" cy="444.7" r="4.7"/>
<circle cx="942.6" cy="449.3" r="4.7"/>
<path d="M1058,214 L1060.5,213 L1061.5,211 L1063.5,212.5 L1065.5,210.5 L1067.5,210.3 L1068,214 L1066.5,217 L1068,219.5 L1065,221 L1062,220.5 L1060.5,217.5 Z"/>
</g>
<g fill="#2a1c6a" fill-opacity=".9"><circle cx="1086.5" cy="161" r="2.6"/><circle cx="1079.5" cy="192.6" r="2.8"/><circle cx="1053.7" cy="195.5" r="2.3"/><circle cx="1037.8" cy="443" r="2.5"/></g>
<rect x="771.5" y="85.5" width="25.5" height="49.5" rx="3" fill="#000" fill-opacity=".25"/>
<rect x="773.2" y="87.2" width="22.2" height="46" rx="2" fill="#fff"/>
<rect x="773.2" y="110.2" width="22.2" height="0.8" fill="#ccc"/>
<path d="M780,98.7 H788.6 M784.3,94.4 V103 M780.2,122.4 H788.4" stroke="#000" stroke-width="1.7" fill="none"/>
<rect x="1100" y="83.5" width="73.5" height="21.5" rx="10.7" fill="#1f1f1f"/>
<text x="1136.7" y="97.8" text-anchor="middle" font-family="Liberation Sans, sans-serif" font-size="10.2" fill="#fff" stroke="#fff" stroke-width=".35">BPU Overview</text>
<rect x="1181.6" y="83.9" width="73" height="20.6" rx="10.3" fill="#fff" stroke="#3a3a3a" stroke-width="1"/>
<text x="1218" y="97.8" text-anchor="middle" font-family="Liberation Sans, sans-serif" font-size="10.2" fill="#252423">ACP Map</text>
<rect x="768.3" y="544.3" width="51" height="11.8" fill="#fff" fill-opacity=".5"/><path d="M768.6,544.3 V556 H819 V549.5" fill="none" stroke="#777" stroke-width="1.1"/>
<text x="772.5" y="553.7" font-family="Liberation Sans, sans-serif" font-size="8.6" fill="#333">20 mi</text>
<rect x="967.5" y="549.5" width="288.5" height="12.5" fill="#fff" fill-opacity=".75"/>
<text x="971" y="559.3" font-family="Liberation Sans, sans-serif" font-size="8.9" fill="#0078a8" textLength="281" lengthAdjust="spacingAndGlyphs">Icon Map Pro <tspan fill="#333">| ©</tspan> Tekantis <tspan fill="#333">©</tspan> OpenMapTiles <tspan fill="#333">©</tspan> OpenStreetMap contributors</text>
</svg>
</body>
</html>
